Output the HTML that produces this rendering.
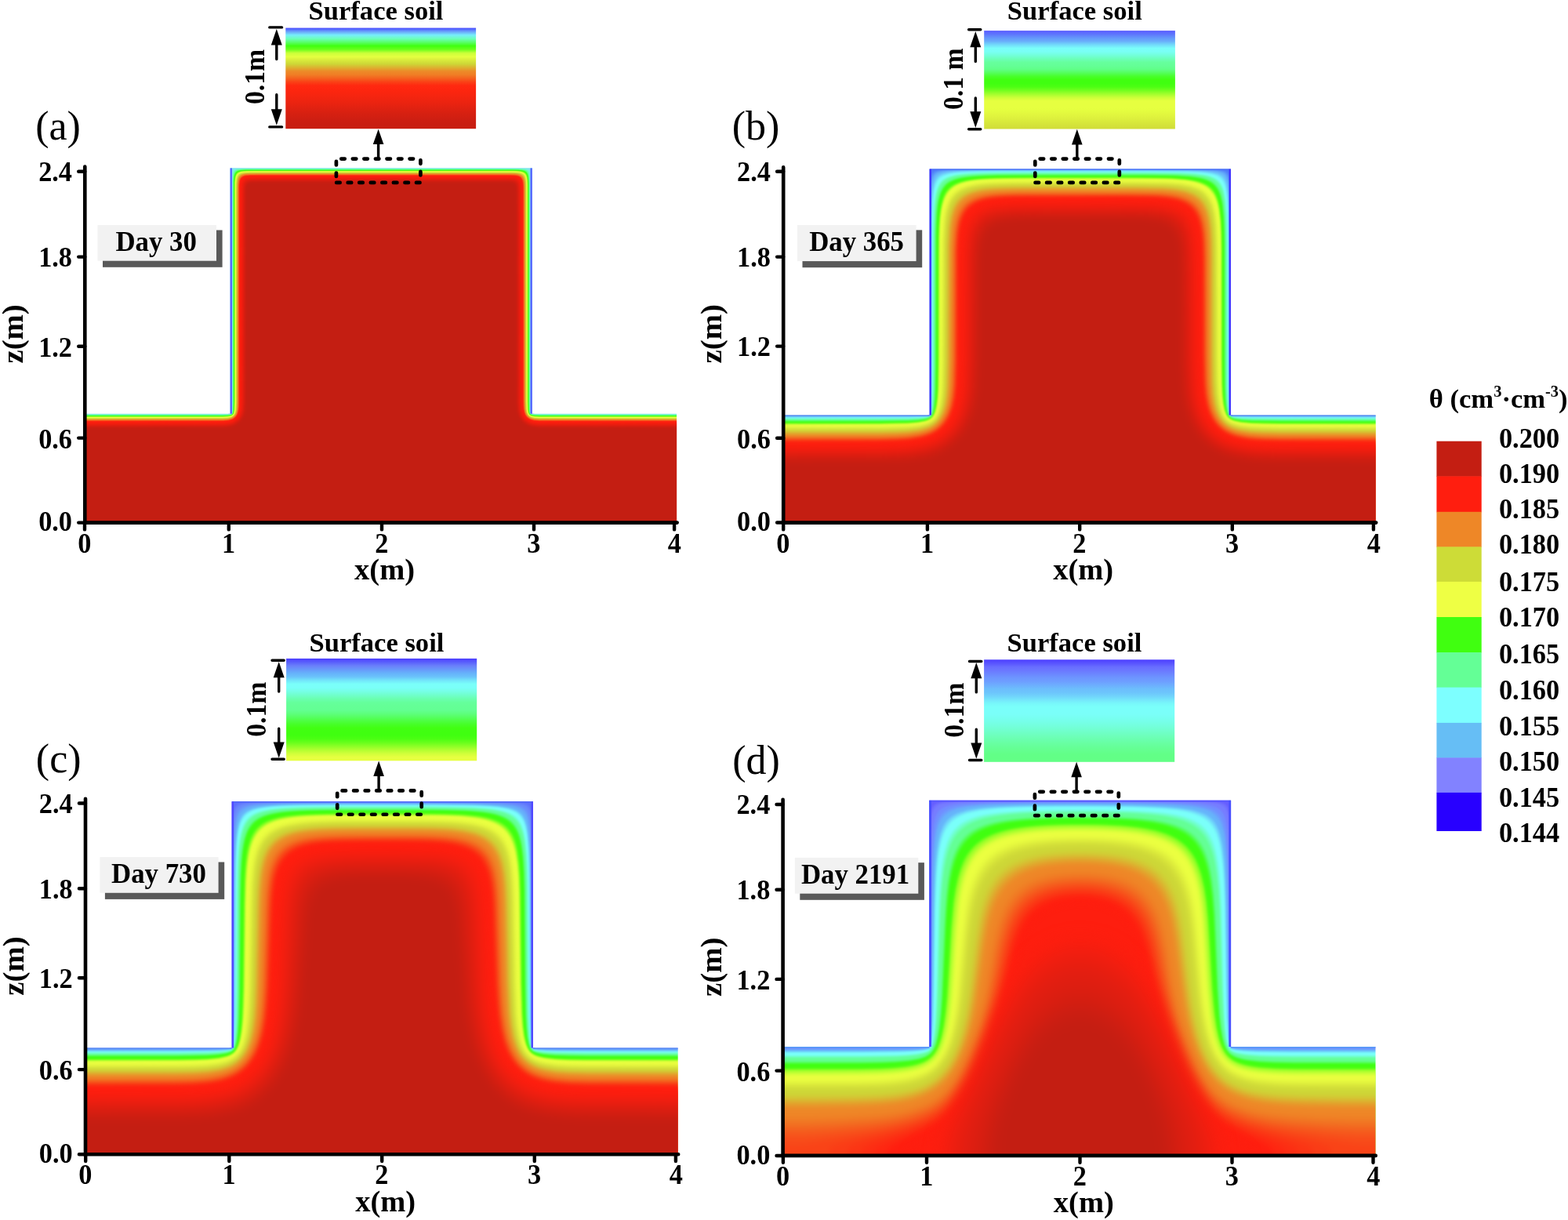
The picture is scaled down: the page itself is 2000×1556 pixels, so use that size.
<!DOCTYPE html>
<html lang="en">
<head>
<meta charset="utf-8">
<title>Soil water content distribution</title>
<style>
html,body{margin:0;padding:0;background:#fff;}
body{width:2000px;height:1556px;overflow:hidden;}
svg{display:block;}
text{font-family:"Liberation Serif", "Times New Roman", Times, serif;fill:#000;}
.b{font-weight:bold;}
.ax{stroke:#000;stroke-width:4.6;stroke-linecap:round;fill:none;}
.tk{stroke:#000;stroke-width:4.4;stroke-linecap:round;fill:none;}
.ar{stroke:#000;stroke-width:3.4;stroke-linecap:round;fill:none;}
.dash{stroke:#000;stroke-width:4.7;stroke-linecap:round;stroke-dasharray:4.5 10.05;fill:none;}
</style>
</head>
<body>
<svg width="2000" height="1556" viewBox="0 0 2000 1556">
<rect width="2000" height="1556" fill="#fff"/>
<defs>
<filter id="fa0" filterUnits="userSpaceOnUse" x="84.3" y="190.2" width="802.8" height="500.4" color-interpolation-filters="sRGB"><feGaussianBlur stdDeviation="0.55"/></filter>
<filter id="fa1" filterUnits="userSpaceOnUse" x="84.3" y="190.2" width="802.8" height="500.4" color-interpolation-filters="sRGB"><feGaussianBlur stdDeviation="1.50"/></filter>
<clipPath id="ca"><path d="M108.3 666.6H863.1V527.7H678.8V214.2H293.6V527.7H108.3Z"/></clipPath>
<linearGradient id="ga" x1="0" y1="0" x2="0" y2="1"><stop offset="0" stop-color="#4848ff"/><stop offset="0.0357" stop-color="#6aa1fa"/><stop offset="0.0714" stop-color="#77eefa"/><stop offset="0.107" stop-color="#6cffbb"/><stop offset="0.143" stop-color="#58ff68"/><stop offset="0.179" stop-color="#40ff10"/><stop offset="0.214" stop-color="#69ff1c"/><stop offset="0.25" stop-color="#cbff39"/><stop offset="0.286" stop-color="#e4ff40"/><stop offset="0.321" stop-color="#d8ea3b"/><stop offset="0.357" stop-color="#cdd737"/><stop offset="0.393" stop-color="#dcb330"/><stop offset="0.429" stop-color="#ec8b28"/><stop offset="0.464" stop-color="#f07e25"/><stop offset="0.5" stop-color="#f4621e"/><stop offset="0.536" stop-color="#fa4116"/><stop offset="0.571" stop-color="#ff2910"/><stop offset="0.607" stop-color="#fe260f"/><stop offset="0.643" stop-color="#fa250f"/><stop offset="0.679" stop-color="#f52510"/><stop offset="0.714" stop-color="#ef2410"/><stop offset="0.75" stop-color="#e92310"/><stop offset="0.786" stop-color="#e22211"/><stop offset="0.821" stop-color="#db2111"/><stop offset="0.857" stop-color="#d52011"/><stop offset="0.893" stop-color="#d01f12"/><stop offset="0.929" stop-color="#cb1e12"/><stop offset="0.964" stop-color="#c81e12"/><stop offset="1" stop-color="#c81e12"/></linearGradient>
<filter id="fb0" filterUnits="userSpaceOnUse" x="975.2" y="191.4" width="803.5" height="499.2" color-interpolation-filters="sRGB"><feGaussianBlur stdDeviation="1.00"/></filter>
<filter id="fb1" filterUnits="userSpaceOnUse" x="975.2" y="191.4" width="803.5" height="499.2" color-interpolation-filters="sRGB"><feGaussianBlur stdDeviation="2.20"/></filter>
<filter id="fb2" filterUnits="userSpaceOnUse" x="975.2" y="191.4" width="803.5" height="499.2" color-interpolation-filters="sRGB"><feGaussianBlur stdDeviation="4.00"/></filter>
<clipPath id="cb"><path d="M999.2 666.6H1754.7V529.6H1569.9V215.4H1185.6V529.6H999.2Z"/></clipPath>
<linearGradient id="gb" x1="0" y1="0" x2="0" y2="1"><stop offset="0" stop-color="#5a5cff"/><stop offset="0.0357" stop-color="#5e75fd"/><stop offset="0.0714" stop-color="#6495fb"/><stop offset="0.107" stop-color="#69aefa"/><stop offset="0.143" stop-color="#72dafa"/><stop offset="0.179" stop-color="#7afefa"/><stop offset="0.214" stop-color="#79fff4"/><stop offset="0.25" stop-color="#73ffda"/><stop offset="0.286" stop-color="#6cffba"/><stop offset="0.321" stop-color="#66ff9e"/><stop offset="0.357" stop-color="#64ff96"/><stop offset="0.393" stop-color="#60ff88"/><stop offset="0.429" stop-color="#54ff5c"/><stop offset="0.464" stop-color="#48ff2c"/><stop offset="0.5" stop-color="#40ff10"/><stop offset="0.536" stop-color="#40ff10"/><stop offset="0.571" stop-color="#4cff13"/><stop offset="0.607" stop-color="#71ff1e"/><stop offset="0.643" stop-color="#9fff2c"/><stop offset="0.679" stop-color="#caff38"/><stop offset="0.714" stop-color="#e6ff40"/><stop offset="0.75" stop-color="#e6ff40"/><stop offset="0.786" stop-color="#e6ff40"/><stop offset="0.821" stop-color="#e4fc3f"/><stop offset="0.857" stop-color="#e1f63e"/><stop offset="0.893" stop-color="#ddf03d"/><stop offset="0.929" stop-color="#d8e93b"/><stop offset="0.964" stop-color="#d4e23a"/><stop offset="1" stop-color="#d0dc38"/></linearGradient>
<filter id="fc0" filterUnits="userSpaceOnUse" x="85.1" y="998.2" width="803.6" height="498.1" color-interpolation-filters="sRGB"><feGaussianBlur stdDeviation="1.20"/></filter>
<filter id="fc1" filterUnits="userSpaceOnUse" x="85.1" y="998.2" width="803.6" height="498.1" color-interpolation-filters="sRGB"><feGaussianBlur stdDeviation="2.50"/></filter>
<filter id="fc2" filterUnits="userSpaceOnUse" x="85.1" y="998.2" width="803.6" height="498.1" color-interpolation-filters="sRGB"><feGaussianBlur stdDeviation="5.00"/></filter>
<clipPath id="cc"><path d="M109.1 1472.3H864.7V1336.6H680.0V1022.2H295.6V1336.6H109.1Z"/></clipPath>
<linearGradient id="gc" x1="0" y1="0" x2="0" y2="1"><stop offset="0" stop-color="#4a3cff"/><stop offset="0.0357" stop-color="#5a5ffc"/><stop offset="0.0714" stop-color="#6a80fa"/><stop offset="0.107" stop-color="#6898fa"/><stop offset="0.143" stop-color="#66b1fa"/><stop offset="0.179" stop-color="#6ac3fa"/><stop offset="0.214" stop-color="#73e5fa"/><stop offset="0.25" stop-color="#7afffa"/><stop offset="0.286" stop-color="#7afff8"/><stop offset="0.321" stop-color="#76ffe6"/><stop offset="0.357" stop-color="#70ffcc"/><stop offset="0.393" stop-color="#6affb1"/><stop offset="0.429" stop-color="#65ff9c"/><stop offset="0.464" stop-color="#64ff96"/><stop offset="0.5" stop-color="#63ff94"/><stop offset="0.536" stop-color="#5eff7f"/><stop offset="0.571" stop-color="#56ff63"/><stop offset="0.607" stop-color="#4eff44"/><stop offset="0.643" stop-color="#46ff28"/><stop offset="0.679" stop-color="#41ff13"/><stop offset="0.714" stop-color="#40ff10"/><stop offset="0.75" stop-color="#40ff10"/><stop offset="0.786" stop-color="#4bff13"/><stop offset="0.821" stop-color="#67ff1b"/><stop offset="0.857" stop-color="#8bff26"/><stop offset="0.893" stop-color="#b0ff30"/><stop offset="0.929" stop-color="#d0ff3a"/><stop offset="0.964" stop-color="#e6ff40"/><stop offset="1" stop-color="#e6ff40"/></linearGradient>
<filter id="fd0" filterUnits="userSpaceOnUse" x="974.8" y="996.8" width="803.7" height="501.1" color-interpolation-filters="sRGB"><feGaussianBlur stdDeviation="1.30"/></filter>
<filter id="fd1" filterUnits="userSpaceOnUse" x="974.8" y="996.8" width="803.7" height="501.1" color-interpolation-filters="sRGB"><feGaussianBlur stdDeviation="3.00"/></filter>
<filter id="fd2" filterUnits="userSpaceOnUse" x="974.8" y="996.8" width="803.7" height="501.1" color-interpolation-filters="sRGB"><feGaussianBlur stdDeviation="5.00"/></filter>
<filter id="fd3" filterUnits="userSpaceOnUse" x="974.8" y="996.8" width="803.7" height="501.1" color-interpolation-filters="sRGB"><feGaussianBlur stdDeviation="8.00"/></filter>
<clipPath id="cd"><path d="M998.8 1473.9H1754.5V1335.0H1570.1V1020.8H1185.2V1335.0H998.8Z"/></clipPath>
<linearGradient id="gd" x1="0" y1="0" x2="0" y2="1"><stop offset="0" stop-color="#4c3eff"/><stop offset="0.0357" stop-color="#5954ff"/><stop offset="0.0714" stop-color="#686dff"/><stop offset="0.107" stop-color="#6b78ff"/><stop offset="0.143" stop-color="#6c87ff"/><stop offset="0.179" stop-color="#6d96ff"/><stop offset="0.214" stop-color="#6e9eff"/><stop offset="0.25" stop-color="#6daefe"/><stop offset="0.286" stop-color="#6cbefc"/><stop offset="0.321" stop-color="#6dc4fc"/><stop offset="0.357" stop-color="#70d3fb"/><stop offset="0.393" stop-color="#75e6fb"/><stop offset="0.429" stop-color="#78f8fa"/><stop offset="0.464" stop-color="#7afffa"/><stop offset="0.5" stop-color="#7afffa"/><stop offset="0.536" stop-color="#7afff8"/><stop offset="0.571" stop-color="#78fff1"/><stop offset="0.607" stop-color="#76ffe8"/><stop offset="0.643" stop-color="#74ffde"/><stop offset="0.679" stop-color="#72ffd2"/><stop offset="0.714" stop-color="#6fffc6"/><stop offset="0.75" stop-color="#6dffb9"/><stop offset="0.786" stop-color="#6affad"/><stop offset="0.821" stop-color="#68ffa1"/><stop offset="0.857" stop-color="#65ff97"/><stop offset="0.893" stop-color="#64ff8e"/><stop offset="0.929" stop-color="#62ff87"/><stop offset="0.964" stop-color="#62ff86"/><stop offset="1" stop-color="#62ff86"/></linearGradient>
</defs>
<g id="panel-a">
<g clip-path="url(#ca)">
<g filter="url(#fa0)">
<rect x="84.3" y="190.2" width="802.8" height="500.4" fill="#82e4ee"/>
<path fill="#77f2dd" d="M302.8 215.2l5.8-0.3l11-0.1h336.7l12.5 0.3l3 0.5l2 0.8l1.1 1.3l0.7 2.5l0.4 4l0.2 7v282.5l0.1 10l0.3 4l0.2 0.2l2.5 0.3l9 0.1h194.8v158.3h-794.8v-158.3h195.8l9-0.1l2.5-0.3l0.2-0.2l0.3-4l0.1-9.5l0.1-287l0.4-6.5l0.8-3l0.7-1l0.9-0.6l1.5-0.5z"/>
<path fill="#6ff8bf" d="M303.9 215.7l5.7-0.4l10.5-0.1h335.2l12.5 0.4l3.2 0.6l2.1 1l1.2 1.5l0.9 3l0.4 4l0.2 6.5v281.5l0.1 10l0.5 4l0.4 0.4l2.5 0.4l9 0.2h194.8v157.9h-794.8v-157.9h195.8l9-0.2l2.5-0.4l0.4-0.4l0.5-4l0.1-10l0.1-285l0.4-6.5l1-3.5l0.7-1l1.3-1l1.5-0.6z"/>
<path fill="#67fda3" d="M308.4 215.7l15.2-0.2h331.7l7.5 0.1l4.5 0.4l3 0.6l2.3 1.1l1.5 2l0.7 2.5l0.5 4l0.2 6.5v281l0.2 10l0.6 4l0.5 0.5l2 0.4l9.5 0.4h194.8v157.6h-794.8v-157.6h195.8l9.5-0.4l2-0.4l0.5-0.5l0.6-4l0.2-10l0.1-285.5l0.7-6.5l0.6-2l1-1.5l1.3-1l2-0.8z"/>
<path fill="#63ff94" d="M307.2 216.2l15.4-0.3h332.2l7.5 0.1l4.5 0.4l3 0.6l2.2 1.2l1.6 2l0.8 2.5l0.5 4l0.2 6.5l0.1 280l0.2 10l0.3 3l0.4 1.5l0.7 0.7l2 0.5l9.5 0.4h194.8v157.3h-794.8v-157.3h195.8l9.5-0.4l2-0.5l0.7-0.7l0.4-1.5l0.3-3l0.2-9.5l0.2-284l0.6-7l0.6-2l0.8-1.5l1.2-1.2l1.5-0.8l2-0.6z"/>
<path fill="#55ff60" d="M307.1 216.7l5.5-0.4h10h331.2l7.5 0.1l4.5 0.4l3.5 0.7l2.1 1.2l1.6 2l0.9 2.5l0.5 4l0.3 6.5l0.1 279.5l0.2 10l0.4 3l0.5 1.5l0.9 0.9l2 0.6l3.5 0.4l6 0.1h194.8v156.9h-794.8v-156.9h195.8l6-0.1l3.5-0.4l2-0.6l0.9-0.9l0.5-1.5l0.4-3l0.2-10l0.2-282.5l0.5-6.5l0.6-2.5l0.8-1.5l0.9-1.2l1.5-1l2.1-0.8z"/>
<path fill="#46ff26" d="M313.1 216.7l341.2-0.1l7 0.2l4.5 0.4l3 0.7l2.3 1.3l1.5 2l1 3l0.5 4l0.3 6v279l0.3 10l0.3 2.5l0.6 2l1.2 1.2l2 0.6l3.5 0.4l6 0.2h194.8v156.5h-794.8v-156.5h195.8l6-0.2l3.5-0.4l2-0.6l1.2-1.2l0.6-2l0.3-2.5l0.3-10v-270l0.2-13.5l0.3-4l0.6-2.8l1-2.2l1.2-1.5l1.8-1.1l2.5-0.7l3-0.4z"/>
<path fill="#40ff10" d="M310.4 217.2l14.7-0.2h328.7l7 0.1l4.5 0.5l3 0.7l2.4 1.4l1.6 2l1 3l0.5 4l0.2 6l0.1 278.5l0.3 10l0.3 2.5l0.7 2l1.4 1.4l2 0.7l3.5 0.4l6 0.2h194.8v156.2h-794.8v-156.2h195.8l6-0.2l3.5-0.4l2-0.7l1.4-1.4l0.7-2l0.3-2.5l0.3-10l0.2-282.5l0.8-6.5l0.8-2.4l1-1.5l1.5-1.3l2-0.9l2.5-0.5z"/>
<path fill="#75ff1f" d="M314.4 217.7l338.9-0.1l6.5 0.2l4.5 0.4l3 0.7l2.5 1.4l1.6 1.9l1.1 3l0.6 4l0.2 6l0.1 277l0.3 10l0.4 3l0.6 2l0.5 1l1 1l2.1 1l3.5 0.6l6 0.2l195.3 0.1v155.5h-794.8v-155.5l195.8-0.1l5.5-0.2l4-0.5l2.5-1l1.4-1.6l0.7-2l0.5-3l0.3-9.5v-269.5l0.2-13l0.4-4l0.6-2.5l0.9-2.2l1.5-1.7l2-1.2l2.5-0.7z"/>
<path fill="#a8ff2d" d="M311.7 218.2l13.9-0.2h327.2l6.5 0.1l4.5 0.4l3.5 0.9l2.1 1.3l1.7 2l1.1 3l0.6 4l0.2 6l0.1 276.5l0.3 10l0.4 3l0.6 2l1.4 2l1 0.7l1.5 0.5l3.5 0.7l6 0.3h195.3v155.2h-794.8v-155.2h195.8l6-0.3l4-0.7l2-0.8l1-0.9l0.7-1l0.7-2l0.5-3l0.3-10l0.2-280.5l0.7-6.5l0.9-2.5l1-1.6l1.5-1.4l2-0.9l2.5-0.7z"/>
<path fill="#d6ff3a" d="M310.4 218.7l5.2-0.3l9-0.1h327.7l7 0.2l4.5 0.5l3 0.8l2.4 1.4l1.6 2l1 3l0.6 4l0.3 6v276l0.3 10l0.5 3l0.6 2l1.4 2l2.3 1.4l4 0.8l6 0.3l195.3 0.1v154.8h-794.8v-154.8l195.8-0.1l6-0.2l4-0.8l2.5-1.2l1.5-1.8l0.7-2l0.5-3l0.4-10l0.1-280l0.8-6.5l0.6-2l1.1-2l1.3-1.3l1.5-0.9l2.3-0.8z"/>
<path fill="#e9fc3f" d="M317.4 218.7h335.4l6.5 0.2l4 0.4l3.3 0.9l2.2 1.3l1.5 1.9l1.1 2.8l0.6 4l0.3 6l0.1 276l0.3 10l0.5 3l0.8 2.5l0.8 1.2l1 0.9l2.5 1.2l4 0.8l5.5 0.3h195.3v154.5h-794.8v-154.5h196.3l5.5-0.3l4-0.8l2.5-1.2l1-0.9l0.8-1.2l0.7-2l0.5-3l0.4-10l0.1-268l0.2-13l0.3-3.5l0.7-3l1.2-2.5l1.5-1.5l2.1-1.1l2.5-0.7l3.5-0.5z"/>
<path fill="#cdd737" d="M652.3 219.7l6 0.2l4 0.4l3.2 0.9l2.3 1.4l1.5 1.9l1 2.7l0.7 4l0.2 5.5l0.1 275.5l0.4 10l0.5 3l0.9 2.5l0.9 1.5l1 1l2.8 1.6l4 0.9l6 0.4l195.3 0.1v153.4h-794.8v-153.4l195.8-0.1l6-0.3l4-0.8l3-1.6l1.9-2.2l1-2.5l0.6-3l0.5-9.5v-271l0.2-9l0.5-5l1.2-3.5l1.6-2.1l2.5-1.5l4-0.9l9-0.5z"/>
<path fill="#d6c133" d="M651.8 220.7l6 0.2l4 0.5l2.8 0.8l2.2 1.4l1.5 1.8l1.1 2.8l0.6 4l0.3 5.5v274l0.4 10l0.6 3.5l0.9 2.5l0.8 1.5l1.3 1.5l1.5 1.1l1.5 0.7l4 1.1l6.5 0.5l195.3 0.1v152.4h-794.8v-152.4l195.8-0.1l6-0.4l4-0.8l2-0.8l1.4-0.9l1.1-1.1l1.1-1.4l1.1-2.5l0.7-3l0.4-4l0.2-6v-270.5l0.2-8.5l0.5-5l1.2-3.5l1.6-2.1l2.5-1.5l3.6-0.9l8.9-0.5z"/>
<path fill="#e1a62d" d="M317 221.2l333.8-0.1l6 0.2l4.2 0.4l3.3 0.9l2 1.3l1.6 1.8l1.1 3l0.6 3.5l0.2 5.5l0.1 274l0.4 10l0.6 3.5l0.9 2.5l0.8 1.5l1.3 1.5l1.4 1.2l2 1l4.5 1.1l6 0.5l195.3 0.1v152h-794.8v-152l196.3-0.1l6-0.5l4.5-1.1l3-1.8l1.3-1.4l1-1.5l0.9-2.5l0.7-3.5l0.5-10v-266l0.2-12l0.4-4l0.6-2.5l0.9-2.1l1.5-1.7l1.9-1.2l2.1-0.7l3-0.5z"/>
<path fill="#ee8727" d="M314.5 221.7l13.1-0.2h322.7l6.5 0.1l4 0.5l3 0.8l2 1.1l1.8 2.2l1 2.5l0.6 3.5l0.3 5.5l0.1 274l0.4 10l0.6 3.5l0.9 2.5l1.1 2l1.2 1.3l1.5 1.2l1.5 0.8l2 0.7l2.5 0.6l6.5 0.5l195.3 0.1v151.7h-794.8v-151.7l196.3-0.1l6-0.4l4.5-1.2l2-1l1.3-1l1.4-1.5l0.9-1.5l1-2.5l0.7-3.5l0.4-10.5l0.2-276.5l0.2-3.5l0.6-3l0.7-2l1.1-1.7l1.5-1.3l2-1l2.5-0.6z"/>
<path fill="#f17623" d="M315.1 222.7l13-0.2h321.7l6 0.1l4 0.4l2.7 0.7l2.3 1.2l1.6 1.8l1.3 3l0.5 3.5l0.3 5l0.1 273.5l0.1 6l0.4 4.5l0.5 3l1.1 3l1.2 2l1.3 1.5l1.6 1.2l2 1.1l4.5 1.3l6.5 0.5l195.3 0.1v150.7h-794.8v-150.7l196.3-0.1l6.5-0.5l4.5-1.3l2-1.1l1.6-1.2l1.3-1.5l1.2-2l1.1-3l0.5-3l0.4-4.5l0.1-6l0.2-276l0.3-3.5l0.4-2.5l0.7-2l1.2-1.8l1.5-1.3l1.8-0.9l2.2-0.6z"/>
<path fill="#f55c1d" d="M315.5 223.2l13.1-0.2h321.2l6 0.1l4 0.5l3 0.9l1.9 1.2l1.6 2l0.9 2.5l0.6 3.5l0.2 5l0.1 272.5l0.4 10.5l0.7 3.5l1 3l1.1 2l1.5 1.7l1.5 1.2l2 1.2l2 0.8l3 0.6l6.5 0.6l195.3 0.1v150.2h-794.8v-150.2l196.3-0.1l6.5-0.6l4.5-1.2l2-1l1.7-1.3l1.4-1.5l1.3-2l1.1-3l0.7-3.5l0.4-4.5l0.1-6l0.2-275.5l0.7-6l0.9-2.5l1-1.4l1.5-1.3l1.7-0.8l2.3-0.6z"/>
<path fill="#f94317" d="M314.7 223.7l4.4-0.3h8.5h321.7l6 0.1l4 0.4l2.8 0.8l2.2 1.3l1.5 1.9l1 2.5l0.5 3.3l0.3 5l0.1 273l0.1 6.5l0.4 4l0.7 3.5l1.1 3l1.3 2l1.3 1.5l1.7 1.4l2 1.1l4.5 1.4l7 0.6l195.3 0.1v149.8h-794.8v-149.8l196.3-0.1l7-0.6l4.5-1.4l2-1.1l1.7-1.4l1.3-1.5l1.3-2l1.1-3l0.7-3.5l0.4-4l0.1-6.5l0.2-275l0.6-6l0.7-2l0.9-1.6l1.4-1.4l1.6-0.9l2-0.7z"/>
<path fill="#fd2912" d="M314.2 224.2l4.9-0.4h8.5h321.2l6 0.1l4 0.4l3 0.8l2 1.2l1.6 1.9l1 2.5l0.6 3.5l0.2 5l0.1 272l0.1 6.5l0.4 4.5l0.7 3.5l1.1 3l1.2 2l1.5 1.7l1.5 1.3l2 1.2l2.5 0.9l2.5 0.6l6.5 0.7l195.8 0.1v149.4h-794.8v-149.4l196.8-0.1l6.5-0.7l2.5-0.6l2.5-0.9l2-1.2l1.5-1.3l1.5-1.7l1.2-2l1.1-3l0.7-3.5l0.4-4l0.1-6.5l0.2-274.5l0.6-6l0.6-2l0.8-1.5l1.3-1.4l1.5-1l1.7-0.6z"/>
<path fill="#ff1e0f" d="M314.9 224.7l4.7-0.3l8.5-0.1h320.2l6 0.1l4 0.4l3 0.8l2 1.2l1.6 1.9l1 2.5l0.5 3.5l0.2 5l0.1 271.5l0.5 10.5l0.8 4l1 3l1.2 2l1.6 2l2 1.6l2 1.1l2.5 1l2.5 0.6l6.5 0.6l195.8 0.2v148.8h-794.8v-148.8l196.8-0.2l6.5-0.6l2.5-0.6l2.5-1l2-1.1l2-1.6l1.6-2l1.2-2l1-3l0.8-4l0.5-10.5l0.1-274l0.6-5.5l0.6-2l0.8-1.5l1.3-1.4l1.5-1l2-0.7z"/>
</g>
<g filter="url(#fa1)">
<path fill="#fd1e0f" d="M315.2 225.2l12.9-0.4h320.2l9.5 0.5l3 0.8l2 1.1l1.5 1.7l1 2.4l0.8 8.4l0.1 271.5l0.5 10.5l1.8 7l2.8 4.1l4 2.9l5 1.7l7 0.7l195.8 0.2v148.3h-794.8v-148.3l196.8-0.2l6.5-0.6l5-1.5l4.1-2.8l2.9-4l2-6.5l0.6-11l0.1-274l0.6-5.5l1.4-3.5l2.8-2.4z"/>
<path fill="#f81e0f" d="M319.9 226.2l327.9-0.1l9.5 0.5l2.5 0.8l2 1.2l1.3 1.6l1 2.5l0.7 7.5l0.1 271.5l0.6 11l2.1 7l2.8 4l4.4 3.2l5 1.7l7.5 0.8l195.8 0.2v147h-794.8v-147l196.8-0.2l7.5-0.8l5-1.7l4.4-3.2l2.8-4l2.1-7l0.6-11l0.1-274l0.8-5.5l2-3.5l3.7-1.8z"/>
<path fill="#f21e10" d="M316.9 227.2l12.2-0.3h318.2l9 0.4l3 0.8l1.8 1.1l1.3 1.5l1 2.5l0.7 7.5l0.1 270.5l0.5 11l0.8 4l1.3 3.5l3.1 4.5l4.4 3.2l5.5 1.9l7 0.9l196.3 0.1v146.3h-794.8v-146.3l197.3-0.1l7-0.9l5.5-1.9l4.4-3.2l2.8-4l2.2-7l0.7-11.5l0.1-272.5l0.6-5.5l1.5-3.5l2.5-2z"/>
<path fill="#ed1e10" d="M318.8 227.7l328-0.2l9 0.5l2.8 0.7l1.8 1l1.4 1.6l0.9 2.4l0.7 7.5l0.1 270.5l0.6 11l0.9 4l1.3 3.5l3.2 4.5l4.3 3.2l6 2.1l7.5 0.8l195.8 0.2v145.6h-794.8v-145.6l196.8-0.2l7.5-0.8l6-2.1l4.3-3.2l3.2-4.5l1.3-3.5l0.9-4l0.6-11l0.1-272.5l0.6-5.3l1.5-3.3l3-2z"/>
<path fill="#e81e10" d="M321 228.2l325.8-0.1l8.5 0.4l2.6 0.7l1.9 1l1.5 1.8l0.9 2.2l0.6 7l0.1 270.5l0.6 11l2.2 7.5l3.1 4.6l4.5 3.5l6 2.2l7.5 0.9l196.3 0.2v145h-794.8v-145l197.3-0.2l7.5-0.9l5.5-1.9l4.6-3.4l3.3-4.5l1.4-3.5l0.9-4l0.7-11.5l0.1-272.5l0.8-5.5l1.7-3l3.5-1.9z"/>
<path fill="#e31e10" d="M317.1 229.2l12.5-0.5h316.2l9 0.4l2.5 0.6l2 1.1l1.5 1.8l0.8 2.1l0.6 7l0.1 270l0.7 11.5l2.3 7.5l3.5 5l4.5 3.3l5.5 2l8 1l196.3 0.2v144.4h-794.8v-144.4l197.3-0.2l8-1l5.5-2l4.5-3.3l3.5-5l2.3-7.5l0.7-11.5l0.1-271l0.4-5l1-3.1l2-2.1z"/>
<path fill="#dd1e11" d="M318.1 229.7l12-0.4h315.2l9 0.4l2.5 0.6l2 1.1l1.5 1.8l0.7 2l0.6 7l0.1 269l0.7 12l2.2 7.5l3.4 5l4.8 3.7l6 2.2l7.5 1l196.8 0.2v143.8h-794.8v-143.8l197.3-0.2l8-1l5.5-2l4.8-3.4l3.6-5l1.5-3.5l0.9-4l0.8-12l0.1-271l0.5-5l1.1-3l2.2-2z"/>
<path fill="#d81e11" d="M319.3 230.2l326-0.3l8.5 0.4l2.5 0.6l2 1.1l1.4 1.7l0.7 2l0.7 8.5l0.1 269.5l0.8 10.5l2.2 7l3.6 5.1l5 3.7l5.5 2.1l8 1.1l196.8 0.2v143.2h-794.8v-143.2l197.8-0.2l8-1.1l5.5-2.1l5-3.7l3.4-4.6l1.4-3.5l1.1-4.5l0.8-12l0.1-271l0.5-4.5l1.2-3.1l2.2-1.9z"/>
<path fill="#d31e11" d="M320.7 230.7l324.6-0.2l8.5 0.5l4 1.6l1.3 1.6l0.7 2l0.7 8.5l0.1 269l0.8 10.5l2.1 7l3.8 5.5l5 3.8l6.5 2.3l7.5 1l196.8 0.2v142.6h-794.8v-142.6l197.3-0.2l8-1l6.5-2.3l5-3.8l3.5-5l1.6-4l1-4.5l0.7-11.5l0.1-270.5l0.6-5l1.4-3l2.6-1.7z"/>
<path fill="#ce1e12" d="M324.4 231.2h320.4l8.5 0.4l3.9 1.6l1.2 1.5l0.9 2.4l0.5 7.6l0.1 269l0.8 10.5l2.3 7.5l3.8 5.4l5 3.8l6.5 2.5l8 1l196.8 0.2v142h-794.8v-142l197.8-0.2l8-1l6.5-2.5l4.9-3.7l3.6-5l1.6-4l1.1-4.5l0.7-11.5l0.2-271l0.7-5l1.8-3l3.3-1.5z"/>
<path fill="#c81e12" d="M320.2 232.2l11.4-0.3h312.2l8.5 0.3l4.1 1.5l1.3 1.5l0.8 2l0.6 8l0.1 268.5l0.9 11l2.4 7.5l3.8 5.4l5 3.8l6.5 2.6l8 1.1l197.3 0.2v141.3h-794.8v-141.3l198.3-0.2l8-1.1l6.5-2.6l5-3.8l3.8-5.4l1.4-3.5l1.1-4.5l0.8-12.5l0.1-269.5l0.5-4.5l1.2-3l2.1-1.7z"/>
<path fill="#c41e12" d="M320.2 233.2l11.4-0.4h311.7l8.5 0.3l2.3 0.6l1.7 1l1.2 1.5l0.8 2.5l0.4 7.5l0.1 268l0.9 10.5l0.9 4l1.6 4l4.1 5.7l5.5 4.1l6.5 2.4l8 1.1l197.3 0.2v140.4h-794.8v-140.4l198.3-0.2l8-1.1l6.5-2.4l5.5-4.1l3.8-5.2l1.5-3.5l1.3-5l0.9-12.5l0.1-269l0.4-4.5l1-2.8l1.7-1.7z"/>
</g>
<path d="M293.6 527.7V214.2M678.8 214.2V527.7" fill="none" stroke="#5560ff" stroke-width="4.6"/></g>
<path class="ax" d="M108.3 212.6V666.6H863.7"/>
<path class="tk" d="M108.3 218.8H100.2M108.3 327.6H100.2M108.3 441.8H100.2M108.3 558.6H100.2M108.3 666.6H100.2M108.0 666.6V675.4M291.8 666.6V675.4M487.0 666.6V675.4M681.0 666.6V675.4M860.1 666.6V675.4"/>
<text class="b" transform="translate(92.0 231.2) scale(1 1.06)" font-size="34.3" text-anchor="end">2.4</text>
<text class="b" transform="translate(92.0 340.2) scale(1 1.06)" font-size="34.3" text-anchor="end">1.8</text>
<text class="b" transform="translate(92.0 454.6) scale(1 1.06)" font-size="34.3" text-anchor="end">1.2</text>
<text class="b" transform="translate(92.0 571.5) scale(1 1.06)" font-size="34.3" text-anchor="end">0.6</text>
<text class="b" transform="translate(92.0 677.4) scale(1 1.06)" font-size="34.3" text-anchor="end">0.0</text>
<text class="b" transform="translate(107.7 704.6) scale(1 1.06)" font-size="34.3" text-anchor="middle">0</text>
<text class="b" transform="translate(291.5 704.6) scale(1 1.06)" font-size="34.3" text-anchor="middle">1</text>
<text class="b" transform="translate(486.7 704.6) scale(1 1.06)" font-size="34.3" text-anchor="middle">2</text>
<text class="b" transform="translate(680.7 704.6) scale(1 1.06)" font-size="34.3" text-anchor="middle">3</text>
<text class="b" transform="translate(860.4 704.6) scale(1 1.06)" font-size="34.3" text-anchor="middle">4</text>
<text class="b" x="490.6" y="738.6" font-size="38.5" text-anchor="middle">x(m)</text>
<text class="b" transform="translate(29.3 425.9) rotate(-90)" font-size="38.8" text-anchor="middle">z(m)</text>
<text x="74.0" y="178.0" font-size="52" text-anchor="middle">(a)</text>
<rect x="131.0" y="293.5" width="152.6" height="47.3" fill="#595959"/><rect x="124.5" y="287.1" width="151.5" height="45.6" fill="#f2f2f2"/>
<text class="b" x="199.2" y="320.3" font-size="34.8" text-anchor="middle">Day 30</text>
<rect x="364.3" y="35.6" width="242.8" height="128.6" fill="url(#ga)"/>
<text class="b" x="479.5" y="25.0" font-size="34.6" text-anchor="middle">Surface soil</text>
<path class="ar" d="M343.8 34.9H359.6M343.8 161.9H359.6M352.8 56.5V75.5M352.8 120.8V140.3"/><path d="M352.8 37.0l7 20.5h-14z M352.8 159.8l7 -20.5h-14z" fill="#000"/>
<text class="b" transform="translate(336.8 98.0) rotate(-90) scale(1 1.04)" font-size="33.6" text-anchor="middle">0.1m</text>
<path class="ar" d="M482.6 201.5V183.0"/><path d="M482.6 164.7l6.8 19.3h-13.6z" fill="#000"/>
<path class="dash" d="M428.90 202.60L536.40 202.60" stroke-dashoffset="-6.35"/><path class="dash" d="M428.90 232.95L537.40 232.95" stroke-dashoffset="-0.25"/><path class="dash" d="M428.90 202.60L428.90 229.95" stroke-dashoffset="-3.35"/><path class="dash" d="M536.40 202.60L536.40 229.95" stroke-dashoffset="-1.75"/>
</g>
<g id="panel-b">
<g clip-path="url(#cb)">
<g filter="url(#fb0)">
<rect x="975.2" y="191.4" width="803.5" height="499.2" fill="#4d76f8"/>
<path fill="#5387f9" d="M1203.3 216.4l17.3-0.4l36.1-0.2l272.2 0.1l18 0.3l10 0.5l6 1.2l2.7 1.5l0.9 1l0.9 2l0.9 4l0.7 8l0.3 14l0.5 281.2l27.1 0.3h177.8v156.7h-795.5v-156.7h179.3l27.2-0.3l0.3-256.2l0.2-27l0.4-14l0.4-5l0.7-4l0.9-2.3l1.3-1.7l1.7-1.1l2.6-0.9z"/>
<path fill="#5a97f9" d="M1218.3 216.4l62.4-0.4l245.2 0.2l17 0.4l11 0.7l6.1 1.1l2.5 1l1.5 1l2.2 3l1 3l0.6 3l0.8 9l0.4 14l0.3 45.1v201.1l0.4 31l5.2 0.3l22 0.2l177.8 0.1v156.4h-795.5v-156.4l179.3-0.1l22.1-0.2l5.2-0.3l0.4-35l0.1-221.2l0.3-27l0.8-14l0.7-5l1.2-4l1.3-2.1l2.4-1.9l3.6-1.3l5-0.8z"/>
<path fill="#61a8fa" d="M1241.6 216.4l223.2-0.1l60.1 0.2l17 0.5l10 0.8l7 1.4l2 0.9l2 1.3l2.3 3l1.2 3l0.7 3l1 9l0.6 16l0.3 44.1l0.1 198.1l0.5 32l0.3 0.3l5 0.2l22 0.2l177.8 0.1v156.2h-795.5v-156.2l179.3-0.1l22.1-0.2l5-0.2l0.3-0.3l0.3-11l0.2-24l0.2-223.2l0.6-27l0.5-8l0.7-6l1.4-5l1.8-3l2.4-2l3.6-1.5l6-1.1l8-0.7z"/>
<path fill="#67b6fa" d="M1216.6 217.4l21-0.6l35.1-0.2l245.2 0.2l20 0.6l12 0.9l7 1.5l3 1.3l1.9 1.3l1.8 2l1.1 2l1.8 6l1.2 10l0.6 15l0.4 44.1l0.1 196.1l0.3 22l0.5 10l0.3 0.3l5 0.4l22 0.3l177.8 0.1v155.9h-795.5v-155.9l179.3-0.1l22.1-0.3l5-0.4l0.3-0.3l0.6-11l0.2-25l0.2-214.2l0.4-26l0.9-15l0.8-6l1.4-5l1.5-3l2.7-2.7l3-1.5l5-1.4l6-0.8z"/>
<path fill="#6bc5fa" d="M1241.6 217.4l42.1-0.3h161.1l72.1 0.4l18 0.6l12 1.1l8 1.9l2.9 1.3l2.1 1.4l2 2.2l1.5 2.4l2 6l1.4 10l0.8 16l0.6 43.1l0.1 193.1l0.4 23l0.7 10l0.5 0.5l5 0.5l22 0.5l177.8 0.1v155.4h-795.5v-155.4l179.3-0.1l22.1-0.5l5-0.5l0.5-0.5l0.8-11l0.3-25l0.3-216.2l0.7-26l0.6-8l0.9-7l1.6-6l2-4l2.9-3l4.4-2.3l6-1.6l8-1l11-0.7z"/>
<path fill="#6fd4fa" d="M1227.4 218.4l22.2-0.6l35.1-0.2h183.1l45.1 0.3l19 0.7l13 1.3l8 1.9l3.5 1.6l2.5 1.8l2.1 2.2l1.7 3l1.2 3.2l1 3.8l1.3 10l1 16l0.5 42.1l0.2 190.1l0.4 24l1 10l0.6 0.6l5 0.7l22 0.6l177.8 0.1v155h-795.5v-155l179.3-0.1l22.1-0.6l5-0.7l0.6-0.6l0.6-4l0.4-7l0.4-25l0.4-212.2l0.6-24l1.2-15l1.3-7l1.7-5l2.6-4l3.2-2.7l4-1.9l6-1.6l8-1.1z"/>
<path fill="#73e4fa" d="M1239.4 218.4l25.3-0.4l45-0.1h161.1l42.1 0.4l19 0.8l12 1.3l8 2l3 1.4l3 2l2 2.1l1.6 2.5l1.4 3.1l1.1 3.9l1.8 11l0.9 16l0.7 42.1l0.1 189.1l0.6 24l0.4 6l0.7 4l0.7 0.7l5 0.8l22 0.7l177.8 0.1v154.7h-795.5v-154.7l179.3-0.1l22.1-0.7l5-0.8l0.7-0.7l0.7-4l0.5-7l0.5-25l0.3-212.2l0.8-25l1.5-15l1.7-7l2.3-5l3-3.6l4-2.5l5.4-1.9l7.6-1.4l10-0.9z"/>
<path fill="#77f3fa" d="M1268.2 218.4l198.6-0.1l48.1 0.5l17 0.9l12 1.6l4.7 1.1l3.3 1.2l3.4 1.8l2.4 2l1.8 2l1.8 3l1.5 4l1 4l1.6 11l1 16l0.5 41.1l0.3 187.1l0.6 24l0.5 6l0.7 4l0.9 0.9l5 0.8l22 0.8l177.8 0.2v154.3h-795.5v-154.3l179.3-0.2l22.1-0.8l5-0.8l0.9-0.9l0.7-4l0.6-7l0.6-25l0.1-178.1l0.3-36.1l1.1-26l0.9-8l1.3-7l2.1-6l1.4-2.4l2-2.4l2-1.8l2.3-1.4l2.7-1.2l4-1.3l8.4-1.5l11.6-1l16-0.7z"/>
<path fill="#7afffa" d="M1240 219.4l23.7-0.5l39-0.1h164.1l42.1 0.4l19 0.9l13 1.5l5 1.1l4 1.3l3 1.4l3 2.1l2 2l2 2.9l1.8 4l1.2 4l1.8 11l1.1 16l0.7 41.1l0.2 187.1l0.8 24l0.7 7l0.7 3l1 1l1 0.3l4 0.7l9 0.6l13 0.3l177.8 0.2v153.9h-795.5v-153.9l179.3-0.2l13.1-0.3l9-0.6l4-0.7l1-0.3l1-1l0.9-4l0.6-7l0.7-25l0.2-176.1l0.3-35.1l0.8-23l0.7-8l1-7l1.8-7.4l2.6-5.6l3.4-3.9l4-2.6l6-2.2l7-1.5l10-1.1z"/>
<path fill="#75ffe3" d="M1247.8 220.4l26.9-0.4l54-0.1h139.1l39.1 0.5l18 0.9l13 1.7l5 1.1l4 1.4l3.9 1.9l3.1 2.2l2.6 2.8l1.9 3l1.8 4l1.2 4l2 11l1.2 16l0.5 17l0.3 23.1l0.3 184.1l0.9 24l0.8 7l1 4l1.5 1.5l5 1.1l9 0.8l13 0.5l35.9 0.2h141.9v152.9h-795.5v-152.9h143.3l36-0.2l13.1-0.5l9-0.8l5-1.1l1.5-1.5l0.8-3l0.9-6l0.9-20l0.3-33l0.3-174.2l0.9-28l0.8-10l1.2-8l1.7-7l2.7-6l2-2.7l2-2.1l4.9-3.2l6.1-2.3l9-1.8l11-1.1z"/>
<path fill="#71ffd1" d="M1261.8 220.4l195-0.2l51.1 0.5l18 1.1l12 1.7l5 1.2l4 1.5l4 2.1l2.8 2.1l2.6 3l1.9 3l1.7 4l1.2 4l2 11l1.2 16l0.5 17l0.3 23.1l0.3 182.1l0.9 25l0.9 7l1.1 4l1.6 1.6l5 1.2l9 0.8l13 0.5l35.9 0.3h141.9v152.6h-795.5v-152.6h143.3l36-0.3l13.1-0.5l9-0.8l5-1.2l1.6-1.6l1.1-4l0.9-8l0.9-25l0.3-174.1l0.3-34.1l1.2-24l0.9-8l1.3-7l2.5-7.5l1.3-2.5l2-3l1.9-2l2.6-2l3.2-1.8l3-1.2l8-2.1l10-1.4l14-1z"/>
<path fill="#6dffbf" d="M1240.6 221.4l22.1-0.7l35-0.2h165.1l41 0.5l19.1 0.9l14 1.9l5 1.2l4 1.4l3.9 2l3.1 2.3l2.5 2.7l2 3l1.9 4l1.3 4l2 11l1.4 16l0.5 17l0.3 23.1l0.3 182.1l0.4 15l0.6 10l0.9 7l1.2 4l1.7 1.7l5 1.3l9 0.9l13 0.5l35.9 0.3h141.9v152.3h-795.5v-152.3h143.3l36-0.3l13.1-0.5l9-0.9l5-1.3l1.7-1.7l1.2-4l0.8-6l1-21l0.3-32l0.3-171.1l0.8-27.1l0.8-10l1.1-7.9l1.9-8.1l2.6-6l1.5-2.4l2-2.4l4-3.1l6-2.8l7-1.9l9.3-1.4z"/>
<path fill="#69ffad" d="M1248.1 221.4l24.6-0.5l45-0.1h147.1l40 0.5l19.1 1.1l13 1.9l5 1.3l4 1.5l4 2.2l2.7 2.1l2.7 3l1.9 3l1.7 3.7l1.4 4.3l2 11l1.4 16l0.5 17l0.3 23.1l0.3 181.1l1 24l0.8 7l1.4 5l1.9 1.8l5 1.4l9 0.9l13 0.5l35.9 0.4h141.9v152h-795.5v-152h143.3l36-0.4l13.1-0.5l9-0.9l5-1.4l1.9-1.8l1.2-4l0.8-6l1.1-20l0.3-32l0.3-173.1l0.9-27.1l1-10l1.2-8l1.8-7l2.7-6l1.8-2.6l2-2.2l2-1.6l3-1.9l6.7-2.7l8.3-1.8l11-1.4z"/>
<path fill="#66ff9d" d="M1259.2 221.4l38.5-0.3h152.1l34 0.1l21 0.4l18.1 1.1l13 1.9l5 1.3l4.2 1.5l3.8 2l3 2.3l2.6 2.7l2 3l1.9 4l1.3 4l2.2 11l1.4 16l0.6 17l0.3 23.1l0.3 181.1l0.4 14l0.7 10l1.1 8l1.2 4l2 2l5 1.4l9 0.9l13 0.6l35.9 0.3l141.9 0.1v151.7h-795.5v-151.7l143.3-0.1l36-0.3l13.1-0.6l9-0.9l5-1.4l2-2l1.2-4l0.9-6l1.2-20l0.3-32l0.3-173.1l0.4-16.1l0.7-12l1-10l1.4-8l2.5-8l3.1-5.5l2.2-2.5l2.3-2l5.5-3.1l8-2.5l10-1.6l13-1.1z"/>
<path fill="#64ff96" d="M1243.8 222.4l21.9-0.7l34-0.2h160.1l41 0.5l19.1 1l14 1.8l5 1.2l5 1.7l4 2.1l3 2.2l3 3.1l2 3l2 4.2l1.4 4.1l2.2 11l1.4 16l0.6 16l0.3 23.1l0.3 181.1l0.5 14l0.6 10l1.2 8l1.3 4l0.7 1l1.5 1.2l5 1.4l9 1.1l13 0.6l35.9 0.3h141.9v151.4h-795.5v-151.4h143.3l36-0.3l13.1-0.6l9-1.1l5-1.4l1.5-1.2l0.7-1l1.3-4l0.9-6l0.8-9l0.5-12l0.3-33l0.3-168.1l0.9-27.1l0.9-10l1.1-8l2-8l2.6-6l2-3l1.7-2l4.5-3.6l6-2.8l8-2.2l10-1.4z"/>
<path fill="#5dff7c" d="M1250.9 223.4l22.8-0.6l39-0.1h148.1l39 0.5l19.1 1.2l13 1.9l5 1.2l5 1.8l4 2.1l3 2.2l2.8 2.8l2.2 3l2.1 4l1.8 5l2.3 11l1.5 16l0.7 16l0.3 23.1l0.1 144.1l0.3 34l0.5 14l0.8 11l1.1 7l1.7 5l0.8 1.2l2 1.6l5 1.6l9 1.2l13 0.7l35.9 0.4l141.9 0.1v150.2h-795.5v-150.2l143.3-0.1l36-0.4l13.1-0.7l9-1.2l5-1.6l2-1.6l0.8-1.2l1.4-4l1.3-7l0.8-9l0.5-12l0.4-33l0.3-165.1l1-27.1l0.9-10l1.3-8l2.3-8.7l3-6.3l2-2.8l2-2.1l5-3.7l7-3l8-1.9l11-1.5z"/>
<path fill="#57ff64" d="M1259.9 223.4l37.8-0.4h144.1l37 0.1l22 0.5l18.1 1.1l13 2l5 1.3l5 1.9l4 2.2l3 2.3l2.8 3l2.1 3l2 4l1.5 4l1.3 5l1.1 6l1.6 16l0.6 16l0.4 22.1l0.1 145.1l0.3 34l0.5 14l0.9 11l1.1 7l1.7 5l1 1.4l2 1.5l5 1.7l9 1.2l13 0.8l35.9 0.4h141.9v150h-795.5v-150h143.3l36-0.4l13.1-0.8l9-1.2l5-1.7l2-1.5l1-1.4l1.4-4l1.3-7l0.8-9l0.6-12l0.4-32l0.3-168.1l0.5-15.1l0.7-12l1.1-10l1.5-8l2.5-8l3.3-6l2.5-3l2.1-1.8l3-2.1l3-1.6l8-2.7l9.5-1.8l12.5-1.2z"/>
<path fill="#50ff4d" d="M1276.8 223.4l181-0.1l27 0.2l18 0.5l17.1 1.2l7 1l6 1.2l5 1.5l4 1.6l4 2.3l3 2.4l2.9 3.2l1.9 3l1.9 4l1.5 4l1.2 5l1.1 6l1.6 16l0.6 16l0.4 22.1l0.1 144.1l0.3 34l0.5 14l0.8 10l1.3 8l1.8 5l1.1 1.6l2 1.5l5 1.7l9 1.3l13 0.7l35.9 0.5h141.9v149.7h-795.5v-149.7h143.3l36-0.5l13.1-0.7l9-1.3l5-1.7l2-1.5l1.1-1.6l1.5-4l1.3-7l0.9-9l0.5-11l0.5-32l0.1-137.1l0.3-34l0.5-15.1l0.8-12l1.3-10l1.8-8l1.4-4.4l1.6-3.6l1.8-3l2.4-3l2.2-2.1l3-2.1l3.3-1.8l3.7-1.5l9-2.3l12-1.7l16.1-1z"/>
<path fill="#4bff38" d="M1249.8 224.4l21.9-0.7l35-0.2h152.1l39 0.6l19.1 1.1l8 1l6 1.1l5 1.4l5 1.9l4 2.1l3 2.3l2.4 2.4l2.6 3.5l2 3.8l1.7 4.7l1.4 5l1.1 6l1.6 16l0.7 16l0.3 22.1l0.1 144.1l0.4 34l0.5 14l0.8 10l1.4 8l1.7 5l1.3 1.7l2 1.6l5 1.6l9 1.4l13 0.7l35.9 0.5l141.9 0.1v149.4h-795.5v-149.4l143.3-0.1l36-0.5l13.1-0.7l9-1.4l5-1.6l2-1.6l1.3-1.7l1.5-4l1.3-7l1-10l0.5-12l0.5-33l0.2-163.1l1-26.1l1-10l1.2-8l2.1-8l3.1-7l3.8-5l2.5-2.3l2.5-1.7l6.5-3.1l8-2.2l11-1.7z"/>
<path fill="#46ff25" d="M1255.7 224.4l26-0.5l50-0.1h130.1l37 0.6l18.1 1.1l8 1.1l6 1.1l5 1.4l5 1.9l4 2.3l2.8 2.1l2.8 3l2.4 3.4l2 4l1.6 4.6l2.4 11l1.5 15l0.7 16l0.4 22.1l0.1 144.1l0.3 34l0.6 14l0.8 10l1.4 8l1.8 5l1.4 1.9l2 1.5l5 1.7l9 1.3l13 0.9l35.9 0.4l141.9 0.1v149.2h-795.5v-149.2l143.3-0.1l36-0.4l13.1-0.9l9-1.3l5-1.7l2-1.5l1.4-1.9l1.8-5l1.1-6l0.9-9l0.7-13l0.4-32l0.3-165.1l1.1-26.1l1-10l1.4-8l2.3-8l1.6-3.7l1.9-3.3l4.1-4.8l5-3.5l7-3l9-2.2l12-1.6z"/>
<path fill="#40ff10" d="M1263.9 224.4l37.8-0.4h144.1l33 0.2l21 0.5l18.1 1.2l7 1l6 1.2l5 1.4l4.7 1.9l3.6 2l3.7 2.9l2.8 3.1l2.2 3.3l2 4.3l1.5 4.4l2.3 11l1.5 15l0.7 16l0.3 22.1l0.1 143.1l0.4 33l0.5 14l0.9 11l1.4 8l1.8 5l1.5 2l2.1 1.5l5 1.8l9 1.3l13 0.9l35.9 0.5h141.9v149h-795.5v-149h143.3l36-0.5l13.1-0.9l9-1.3l5-1.8l2.1-1.5l1.5-2l1.8-5l1.1-6l1-9l0.6-13l0.4-32l0.4-165.1l0.4-15.1l0.8-12l1.1-10l1.5-8l2.5-8l1.8-3.7l2-3.1l2-2.3l3-2.7l6-3.5l8-2.8l10-1.9l13-1.2z"/>
<path fill="#5aff17" d="M1281.3 226.4l173.5-0.1l26 0.2l17 0.5l17.1 1.3l7 1.1l6 1.3l5.6 1.7l4.4 1.9l3.6 2.1l3.4 2.7l3 3.3l2 3l2 4l1.9 5l2.5 11l1.6 15.2l0.7 15.9l0.4 21l0.1 139.1l0.3 33l0.6 14l1 11l1.4 8l2 6l1.5 2.5l2 2.1l2 1.3l3 1.3l4 1.1l5 0.9l13 1.1l15 0.5l20.9 0.3h143.9v146.9h-795.5v-146.9h142.3l36-0.6l14.1-1.1l9-1.6l3-1l3-1.5l2-1.6l1.4-1.7l2.3-5l1.6-7l1.1-9l0.8-12l0.6-33l0.1-132.1l0.3-33l0.6-15.1l0.9-12l1.5-10l1.8-7.7l1.5-4.3l1.9-4l1.9-3l2.4-3l3.3-3l3-2l7-3.2l10-2.6l12-1.7l15.1-1z"/>
<path fill="#6aff1c" d="M1256.3 227.4l22.4-0.7l37-0.1h141.1l38 0.6l18.1 1.3l13 2.1l5 1.4l5 1.9l4 2.1l4 2.9l3 3.1l2.4 3.4l2.1 4l1.9 5l1.4 5l1.2 6l1.6 15l0.8 16.1l0.3 21l0.2 140.1l0.4 33l0.6 14l1.1 11l1.5 8l2.3 6l1.4 2l2 2l2.8 1.6l3 1.1l9 1.8l14 1.2l35.9 0.6l141.9 0.1v146.6h-795.5v-146.6h142.3l36-0.7l14.1-1l9-1.7l3-1l3-1.5l2-1.6l1.6-1.9l2.3-5l1.6-7l1.3-10l0.8-13l0.5-33l0.3-159.1l0.4-14.1l0.8-12l1-9l1.4-8l2.6-9l3.4-6.7l2-2.7l2.5-2.6l5.5-4l6.7-3l8.3-2.2l11-1.7z"/>
<path fill="#79ff20" d="M1262.2 227.4l36.5-0.6h127.1l45 0.1l24 0.6l18.1 1.3l13 2.2l5.1 1.4l5.1 2l3.8 2.1l3.9 2.9l2.9 3l2.2 3.1l2.1 3.9l1.9 5l1.4 5l1.3 6l1.7 15l0.7 16.1l0.4 21l0.1 140.1l0.4 33l0.7 14l1.1 11l1.6 8l2.2 6l1.4 2l2 2l3 1.8l3 1.1l9 1.8l14 1.2l35.9 0.7h141.9v146.4h-795.5v-146.4h142.3l36-0.6l14.1-1.1l9-1.7l3-1l3-1.5l2.1-1.7l1.7-2l2.3-5l1.6-7l1.3-10l0.8-13l0.5-33l0.4-159.1l0.4-14.1l0.8-12l1.1-10l1.6-8l2.4-8l1.9-4l1.8-3l4.4-5l2.9-2.3l3-1.8l7-2.9l10-2.5l12-1.5z"/>
<path fill="#8aff25" d="M1270.6 227.4l36.1-0.3h140.1l30 0.2l19 0.5l18.1 1.4l7 1l6 1.4l5 1.5l5 2.1l3.6 2.2l3.4 2.7l3 3.3l2.1 3l2 4l1.9 5l1.3 5l1.2 6l1.7 15l0.7 15.1l0.3 21l0.2 140.1l0.4 33l0.6 14l1.2 11l1.6 8l2.3 6l1.5 2.2l2 2l3 1.7l3 1.2l9 1.8l14 1.2l35.9 0.7l141.9 0.1v146.1h-795.5v-146.1l142.3-0.1l36-0.6l13.1-1l10-1.8l3-1l3-1.5l2.3-1.9l1.6-2l2.3-5l1.7-7l1.3-10l0.8-13l0.6-33l0.1-128.1l0.3-32l0.4-14.1l0.8-12l1.3-10l1.7-8l2.8-8.3l1.9-3.7l2.1-3l2-2.3l3-2.7l3-2.1l3.7-1.9l8.3-2.8l11-2.2l13.1-1.2z"/>
<path fill="#9bff29" d="M1287.7 227.4l168.1-0.1l25 0.3l17 0.5l16.1 1.4l7 1.1l6 1.3l5 1.6l4.4 1.9l3.6 2.1l3.7 2.9l2.8 3l2.5 3.7l2 4l1.6 4.3l1.4 5l1.2 6l1.7 15l0.7 15.1l0.4 21l0.1 140.1l0.5 33l0.6 14l1.2 11l1.6 8l2.3 6l1.7 2.5l2 1.9l3 1.7l3 1.1l9 1.9l14 1.3l35.9 0.6l141.9 0.1v145.9h-795.5v-145.9l142.3-0.1l36-0.6l13.1-1l10-1.9l3-1l3-1.5l2.5-2l1.6-2l2.3-5l1.7-7l1.4-10l0.7-12l0.6-32l0.1-132.1l0.4-33l0.6-15.1l1.1-12l1.4-9l2-8l1.6-4.3l2-4l2.5-3.7l2.5-2.7l2.7-2.3l3.3-2.2l3.7-1.8l4.3-1.6l10-2.4l13-1.6l16.1-1z"/>
<path fill="#abff2e" d="M1257.7 228.4l22-0.6l38-0.2h139.1l37 0.6l18.1 1.3l7 1l6 1.3l5.7 1.6l4.9 2l3.5 2l3.9 2.9l2.9 3.1l2.2 3l2.2 4l1.9 5l1.4 5l1.3 6l1.7 15l0.8 15.1l0.3 21l0.2 140.1l0.4 33l0.7 14l1.2 11l1.6 8l2.3 6l1.9 2.7l2 1.8l3 1.8l3 1.1l9 1.9l14 1.3l15 0.5l20.9 0.2h141.9v145.7h-795.5v-145.7h142.3l36-0.7l14.1-1.1l9-1.8l3-1l3-1.5l2.7-2.2l1.6-2l2.3-5l1.9-8l1.3-10l0.8-13l0.5-33l0.3-157.1l1.2-25.1l1.1-10l1.3-7.5l2.5-8.5l3.4-7l4.1-5.1l3-2.6l3-2l7-3.2l9-2.4l11-1.7z"/>
<path fill="#bbff33" d="M1263.5 228.4l36.2-0.6h128.1l43 0.1l23 0.6l18.1 1.3l7 1l6 1.3l5 1.4l5 2.1l4 2.2l3.4 2.6l3 3l2.6 3.6l2 3.7l1.8 4.7l1.5 5l1.3 6l1.7 15l0.8 15.1l0.4 21l0.1 140.1l0.5 33l0.7 14l1.1 11l1.7 8l2.4 6l2 2.9l2 1.8l3 1.8l3 1.1l9 1.9l14 1.3l15 0.5l20.9 0.2l141.9 0.1v145.4h-795.5v-145.4l142.3-0.1l36-0.7l14.1-1.1l9-1.8l3-1l3-1.5l2.9-2.4l1.6-2l2.3-5l1.9-8l1.3-10l0.8-13l0.5-33l0.4-157.1l0.4-14.1l0.8-12l1.1-9l1.5-8l2.8-9l1.7-3.6l2-3.3l2-2.5l2.6-2.6l2.5-2l3.3-2l7.6-3.2l9-2.2l12-1.6z"/>
<path fill="#caff37" d="M1271.9 228.4l35.8-0.3h139.1l29 0.2l19 0.5l18.1 1.5l7 1l6 1.4l5.3 1.7l4.5 2l4.2 2.6l2.9 2.4l2.8 3l2.3 3.4l2 3.9l1.8 4.7l1.4 5l1.2 6l1.7 15l0.8 15.1l0.3 21l0.2 139.1l0.4 33l0.7 14l1.2 11l1.7 8l2.4 6l2.1 3l2.1 1.9l3 1.7l3 1.2l9 1.9l14 1.3l15 0.5l20.9 0.2l141.9 0.1v145.2h-795.5v-145.2l142.3-0.1l36-0.6l14.1-1.2l9-1.8l3-1.1l3-1.4l3-2.5l1.6-2.1l1.6-3l1.1-3l1.6-7l1.3-10l0.8-12l0.6-33l0.1-128.1l0.3-32l0.5-14.1l0.9-12l1.2-9l1.7-8l2.8-8l1.9-3.6l2.3-3.4l2.7-2.9l2.4-2.1l3-2l3.9-2l8.7-3l10-1.9l13.1-1.3z"/>
<path fill="#d8ff3b" d="M1288.7 228.4l166.1-0.1l24 0.3l17 0.5l16.1 1.3l7 1.1l6 1.3l5.2 1.6l4.7 2l4.1 2.4l3.3 2.6l2.7 2.9l2.3 3.1l2.2 4l1.9 5l1.5 5l1.2 6l1.7 15l0.8 15.1l0.4 21l0.1 139.1l0.5 33l0.7 14l1.2 11l1.7 8l2.4 6l2.1 3l2.2 2l3.1 1.8l3 1.1l9 2l14 1.3l15 0.6l20.9 0.2h141.9v145h-795.5v-145h142.3l36-0.7l13.1-1.1l10-1.9l4-1.5l3-1.7l2-1.8l1.8-2.3l2.3-5l1.9-7l1.3-10l0.9-12l0.6-33l0.1-130.1l0.4-32l0.6-15.1l0.9-11l1.5-10l1.9-8l1.8-4.8l2-4l2.1-3.2l2.6-3l3.3-2.9l3-2l4-2l4-1.5l10-2.5l13-1.7l16.1-0.9z"/>
<path fill="#ebff40" d="M1260.1 229.4l22.6-0.6l41-0.2l133.1 0.1l36 0.6l18.1 1.4l7 1l6 1.3l5 1.4l5 2.1l4 2.2l3.6 2.7l2.9 3l2.5 3.5l2 3.6l2 4.9l1.4 5l1.3 6l1.8 15l0.8 15.1l0.4 21l0.1 138.1l0.5 33l0.7 15l1.3 11l1.7 8l2.4 6l1.6 2.4l2 2.1l3 2l3 1.3l5 1.5l5 0.9l13 1.2l15 0.6l20.9 0.2l142.9 0.1v144.7h-795.5v-144.7h142.3l21-0.3l15-0.4l13.1-1.1l10-2l4-1.5l3-1.7l2-1.7l2-2.6l2.4-5l2-8l1.3-10l0.9-13l0.5-33l0.4-155.1l0.4-15.1l0.7-11l1-9l1.5-8l2.7-9l3.2-6.5l2-2.9l2.4-2.6l2.6-2.3l3-2l7-3.3l9-2.5l11-1.8z"/>
</g>
<g filter="url(#fb1)">
<path fill="#eafe40" d="M1272.2 230.4l35.5-0.4h134.1l50 0.7l17.1 1.3l13.2 2.4l9.8 3.4l4.6 2.6l3.4 2.7l5.4 6.3l4.2 9l2.7 11l1.8 15l1.2 35.1l0.1 137.1l0.5 33l0.8 14l1.2 11l1.7 8l2.7 7l2 3l2.7 2.6l6 3.2l10 2.5l13 1.4l35.9 0.8l142.9 0.1v143.4h-795.5v-143.4l143.3-0.1l36-0.8l13.1-1.2l10-2.3l6.5-3.2l2.5-2.3l2.1-2.7l2.3-5l2.2-8l1.4-10l0.9-13l0.6-33l0.4-156.1l1.4-26.1l1.2-9l1.7-8l2.8-8.1l4-6.9l5-5.2l7-4.4l8-2.9l11-2.3l13.1-1.4z"/>
<path fill="#e2f33d" d="M1274.2 232.4l35.5-0.4h133.1l48 0.8l16.1 1.3l13 2.4l10 3.6l4 2.3l3.9 3l5.1 6l2.3 4l2.1 5l2.8 11l1.9 15l1.2 35.1l0.1 134.1l0.5 33l0.9 15l1.4 11l2.1 9l2.5 6l1.9 3l2.8 3l2.7 2l3.8 1.9l10 2.9l14 1.6l35.9 1l142.9 0.1v141.5h-795.5v-141.5l142.3-0.1l36-0.8l14.1-1.5l10-2.4l7-3.5l2.6-2.2l2.4-3l3-6l2.3-8l1.5-10l1.1-14l0.6-33l0.4-153.1l1.4-25.1l1.1-9l1.7-8l2.9-8.5l4-7l5.2-5.5l6.8-4.3l8-3.1l11-2.3l13.1-1.5z"/>
<path fill="#dcea3b" d="M1270.5 233.4l35.2-0.5h127.1l56 0.7l17 1.3l13.3 2.5l9.8 3.6l4.2 2.4l3.8 2.9l5.2 6.1l4.3 9l2.9 11l1.9 15l1.1 34.1l0.2 134.1l0.5 33l0.8 14l1.4 11l2 9l2.8 7l1.9 3l3 3.3l3 2.3l4 2l10 2.8l14 1.8l35.9 1l142.9 0.1v140.7h-795.5v-140.7l142.3-0.1l36-0.9l14.1-1.5l10-2.4l7-3.5l3-2.5l2.7-3.4l3-6l2.3-8l1.6-10l1.1-14l0.7-33l0.4-152.1l1.3-25.1l1.2-9l1.6-8l2.7-8l3.9-7l5.5-5.9l6-4l8-3.3l10-2.4l12.1-1.5z"/>
<path fill="#d5e23a" d="M1266.7 234.4l24-0.6l46-0.1h117.1l34 0.7l17 1.3l13.1 2.4l10 3.6l4 2.3l4 3.1l5.4 6.3l4.3 9l2.9 11l1.8 14l0.8 14.1l0.4 20l0.2 134.1l0.5 33l0.9 14l1.3 11l2.1 9l2.9 7l2.6 4l2.9 3l3 2.2l4 2l10 2.9l14 1.8l35.9 1l142.9 0.1v140h-795.5v-140l143.3-0.1l36-1l14.1-1.6l10-2.7l7-3.8l3-2.7l2.4-3.1l3.3-7l2.2-8l1.6-11l1-13l0.7-33l0.4-150.1l1.2-24.1l1.1-9l1.6-8l2.9-9l3.6-6.6l5-5.7l6-4.3l7-3.1l9-2.5l11.1-1.7z"/>
<path fill="#cdd737" d="M1264.8 235.4l20.9-0.7l36-0.2l130.1 0.1l35 0.6l17 1.4l13.1 2.4l10 3.6l4 2.2l4 3.1l5.6 6.5l4.3 9l2.9 11l1.7 14l0.9 14.1l0.4 20l0.2 132.1l0.5 33l0.9 15l1.4 11l2.1 9l2.9 7l2.5 4l2.7 2.9l3 2.4l4 2.2l10 3.1l14 1.9l15 0.9l21.9 0.3l142.9 0.1v139.2h-795.5v-139.2l143.3-0.1l36-1l14.1-1.7l10-2.7l4-1.8l3.7-2.5l3.2-3l2.2-3l3.3-7l2.2-8l1.7-11l1-13l0.7-33l0.4-148.1l1.1-24.1l2.6-17l2.7-9l3.6-7l4.6-5.6l5.7-4.4l7.3-3.5l8.3-2.5l10.8-1.8z"/>
<path fill="#cfd336" d="M1280.3 237.4l160.5-0.3l45 0.7l17 1.5l12.1 2.4l9.8 3.7l7.4 5l5.8 6.7l4.1 8.3l3 11l1.9 14l0.8 14.1l0.4 19l0.2 132.1l0.6 33l1.1 15l1.6 11l2.4 9l3 7l2.7 4l3.2 3.5l4 3l4 2.1l5 1.8l6 1.6l14 1.9l15 0.8l21.9 0.4l141.9 0.1v136.8h-795.5v-136.8l142.3-0.1l22-0.3l15-0.8l14.1-1.8l11-3.2l4-2l4-2.7l3-2.8l2.7-3.5l3.5-7l2.5-8l1.9-11l1.2-14l0.8-33l0.4-149.1l1.4-24.1l1.3-9l1.6-7l3.3-9l4.4-7l5-5.1l7-4.3l9-3.3l10.1-2.1l13-1.4z"/>
<path fill="#d2ca34" d="M1276.1 238.4l33.6-0.5h124.1l51 0.8l16 1.3l13.1 2.5l10 3.8l7.5 5.1l5.5 6.3l4.3 8.7l2.8 10l1.9 14l1 15.1l0.4 19l0.2 130.1l0.6 33l1 15l1.5 11l2.6 10l3.1 7l2.6 4l3 3.4l4 3.2l4 2.2l5 2l6 1.7l14 2.1l15 0.9l21.9 0.4l142.9 0.1v136h-795.5v-136l142.3-0.1l22-0.4l15-0.8l14.1-1.8l11-3.2l4-1.9l4.1-2.8l3.3-3l3-4l3.6-7l2.7-9l1.8-11l1.1-13l0.8-33l0.4-148.1l1.3-23.1l1.3-9l1.6-7.6l3-8.6l4-6.9l5-5.4l6.8-4.5l7.2-3l10-2.5l12.1-1.6z"/>
<path fill="#d6c233" d="M1268.2 239.4l20.5-0.7l36-0.2l125.1 0.1l34 0.6l16 1.3l13.1 2.5l10 3.7l4 2.3l4 3.1l5.4 6.3l4.4 9l3 11l1.7 13l0.8 14.1l0.5 19l0.2 130.1l0.6 33l1 15l1.6 11l2.2 9l3.4 8l2.6 4l3.6 4l4 3.1l4 2.2l5 2l6 1.7l14 2.1l15 0.9l21.9 0.4l142.9 0.1v135.5h-795.5v-135.5l142.3-0.1l22-0.3l15-0.8l15.1-2.1l11-3.4l4-2.1l4-2.8l3-3l3-3.9l3.5-7l2.7-9l1.9-11l1.1-14l0.8-33l0.4-145.1l1.2-23.1l2.5-16l2.8-9l3.7-7l4.4-5.4l5.9-4.6l7.1-3.5l8.3-2.5l10.8-1.9z"/>
<path fill="#d9b931" d="M1281.8 239.4l157-0.3l45 0.7l17 1.5l12.1 2.4l9.8 3.7l7.4 5l5.8 6.7l4.1 8.3l3 11l1.9 13.9l0.8 14.2l0.4 19l0.2 129.1l0.6 33l1.1 15l1.6 11l2.6 10l3 7l2.6 4l3.1 3.6l4 3.3l4 2.4l5 2.1l6 1.8l15 2.4l15 0.9l21.9 0.4l142.9 0.1v135h-795.5v-135h142.3l22-0.4l15-0.8l14.1-1.9l11-3.2l4-1.9l4.3-2.8l3.3-3l3.2-4l3.8-7l2.9-9l2-11l1.2-14l0.9-33l0.4-147.1l1.4-24.1l1.3-9l1.6-7l3.3-9l4.4-7l5-5l7-4.4l9-3.3l10.1-2.1l13-1.4z"/>
<path fill="#ddb12f" d="M1269.9 240.4l20.8-0.7l37-0.1h121.1l34 0.7l16 1.3l13.1 2.4l10 3.7l4.5 2.7l3.5 2.8l5.3 6.2l4.5 9l2.9 11l1.8 13l0.8 14.1l0.4 19l0.2 129.1l0.6 33l1.1 15l1.8 12l2.4 9l3.6 8l2.8 4l3.7 4l4.1 3l4 2.2l5 2l6 1.7l15 2.2l15 0.9l21.9 0.4l141.9 0.1v134.5h-795.5v-134.5l142.3-0.1l22-0.4l15-0.8l15.1-2.1l11-3.4l4-2l4-2.8l3.1-2.9l3.2-4l4.1-8l2.7-9l1.9-11l1.3-14l0.8-33l0.4-144.1l1.1-23.1l2.5-16l2.9-9l3.7-7l4.3-5.3l6-4.7l7-3.4l8.5-2.6l10.6-1.8z"/>
<path fill="#e0a82e" d="M1282.5 240.4l157.3-0.3l44 0.7l16 1.5l12.1 2.4l9.8 3.7l7.4 5l5.8 6.7l4.1 8.3l2.9 10.3l1.9 13.7l0.9 14.1l0.4 19l0.2 129.1l0.6 33l1.1 15l1.7 11l2.6 10l3.6 8l2.7 4l3.7 4l3.8 3l4.8 2.7l5 1.9l6 1.7l15 2.3l15 0.9l21.9 0.4l141.9 0.1v134h-795.5v-134l142.3-0.1l22-0.4l15-0.8l15.1-2.2l11-3.4l5-2.6l3.5-2.5l3.1-3l3.2-4l3.7-7l2.9-9l2-11l1.3-14l0.9-33l0.4-146.1l1.4-24.1l1.3-9l1.6-7l3.3-9l4.4-7l5-5l7-4.4l9-3.3l10.1-2.1l12-1.4z"/>
<path fill="#e4a02c" d="M1270.7 241.4l21-0.7l36-0.1h120.1l34 0.7l16 1.3l13.1 2.4l10 3.7l4 2.3l4 3.1l5.4 6.3l4.4 9l2.7 10l1.9 13l0.9 14.1l0.4 19l0.2 129.1l0.7 33l1.1 15l1.8 12l2.4 9l3.6 8l2.7 4l3.6 4l4.2 3.3l4 2.3l5 2.1l6 1.8l15 2.4l15 1l21.9 0.4l142.9 0.1v133.6h-795.5v-133.6h142.3l22-0.4l15-0.9l15.1-2.1l11-3.5l5-2.5l4-2.9l3.2-3.1l3-4l4.1-8l2.8-9l1.9-11l1.2-14l0.9-33l0.4-143.1l1.1-23.1l2.5-16l2.9-9l3.6-7l4.4-5.3l6-4.7l7-3.4l8.5-2.6l10.6-1.8z"/>
<path fill="#e7982a" d="M1283.1 241.4l155.7-0.3l44 0.7l16 1.5l12.1 2.3l9.9 3.8l7.3 5l5.8 6.7l4.1 8.3l2.9 10.2l1.9 13.8l0.9 14.1l0.4 18l0.2 129.1l0.7 33l1.1 15l1.6 11l2.7 10l3.6 8l2.6 4l3.5 4l3.8 3.1l5 3l5 2.1l6 1.7l15 2.5l15 0.9l21.9 0.5l142.9 0.1v133.1h-795.5v-133.1l141.3-0.1l22-0.3l15-0.9l15.1-2l6-1.5l6-2.1l5-2.6l3.5-2.4l3.5-3.3l3-3.7l4.4-8l2.9-9l2-11l1.4-14l0.9-33l0.4-146.1l1.4-23.1l1.3-9l1.5-7l3.4-9l4.3-7l5.1-5.1l7-4.3l9-3.4l10.1-2.1l12-1.3z"/>
<path fill="#ea9029" d="M1272.3 242.4l22.4-0.6l42-0.2l112.1 0.1l33 0.6l16 1.4l13.1 2.6l10 4l7 4.9l3.1 3.2l2.8 4l3.9 8l2.7 10l1.8 13l0.9 14.1l0.5 18l0.2 129.1l0.6 33l1 14l1.8 12l2.7 10l3.6 8l2.5 4l3.9 4.4l4 3.2l5 3l5 2l6 1.8l15 2.5l15 0.9l21.9 0.5l142.9 0.1v132.6h-795.5v-132.6l142.3-0.1l22-0.4l15-0.9l15.1-2.1l6-1.6l6-2.3l5-2.7l4-3l3.2-3.3l3-4l4.1-8l2.7-9l2-11l1.3-14l0.8-33l0.4-143.1l1.2-22.1l2.5-16l2.8-9l3.7-7l4.3-5.3l6-4.7l7-3.4l9-2.7l11.1-1.8z"/>
<path fill="#ee8727" d="M1298.5 242.4l147.3-0.1l38 0.9l15 1.5l12.1 2.5l5 1.8l5 2.4l6.9 5l5.1 6.3l4.2 8.7l2.7 10l1.8 13.1l0.9 14l0.4 18l0.2 128.1l0.6 33l1.1 14l1.8 12l2.6 10l3.6 8l2.6 4l3.5 4.1l4 3.5l5 3.1l5 2.2l6 1.9l7 1.5l9 1.2l15 1l21.9 0.5l142.9 0.1v131.9h-795.5v-131.9l141.3-0.1l22-0.4l15-0.8l15.1-2.1l6-1.5l6-2.1l5-2.5l3.8-2.6l3.4-3l3.3-4l4.6-8l3.1-9l2.2-11l1.4-14l1-34l0.5-147.1l1.7-24.1l1.5-9l2-7l3.5-8.1l5-6.8l6.3-5.1l8.1-4l9.7-2.7l12-1.8l15-1z"/>
<path fill="#ef8025" d="M1277.4 245.4l32.3-0.6h110.1l39 0.1l21 0.6l16 1.5l12.1 2.4l10 4l7 4.9l5.2 6.1l4.1 8l2.9 10l2 13.1l0.8 13l0.5 19l0.2 126.1l0.7 34l1.2 15l2 12l2.8 10l3.7 8l3.4 5l3.5 3.9l4 3.4l5 3.1l5 2.3l7 2.2l7 1.5l9 1.3l16 1.1l21.9 0.4l141.9 0.2v129.6h-795.5v-129.6l142.3-0.1l22-0.5l15-0.9l16.1-2.5l6-1.7l6-2.3l5-2.7l4-3l3.8-3.7l3.2-4l4.4-8l3.3-10l2.1-11l1.5-15l1-34l0.4-140.1l1.1-22l1.2-9.1l1.5-7l2.6-8l3.9-7.3l4.9-5.7l6.1-4.5l7-3.2l9.1-2.5l11-1.7z"/>
<path fill="#f17723" d="M1276 246.4l22.7-0.6l46-0.1h103.1l31 0.7l16 1.4l12.1 2.4l10 4l7 4.8l5.4 6.4l4.1 8l2.9 10l1.9 13.1l0.9 13l0.4 18l0.2 126.1l0.8 34l1.2 15l1.9 12l2.9 10l4.2 9l3.5 5l3.7 3.9l4 3.3l5 3l6 2.7l6 1.8l16 2.8l16 1.1l21.9 0.5l141.9 0.1v128.8h-795.5v-128.8l142.3-0.1l22-0.5l16-1l15.1-2.4l6-1.7l6-2.3l5-2.7l4.8-3.5l4-4l3.1-4l4.3-8l3.4-10l2.2-12l1.4-14l1-34l0.4-139.1l1.1-22l2.6-16.1l2.7-8.3l3.6-6.7l4.4-5.4l6-4.7l7-3.4l9.1-2.7l11-1.8z"/>
<path fill="#f26f21" d="M1306.9 246.4h138.9l36 0.9l15 1.6l11.1 2.5l9 3.8l7 5.1l5 6.1l4 8.1l2.8 9.9l1.8 13.1l0.9 13l0.4 18l0.2 126.1l0.8 33l1.2 15l2 12l2.8 10l4.2 9l3.5 5l3.6 4l4.8 3.9l5 3l6 2.6l6 1.8l16 2.8l16 1.1l21.9 0.5l141.9 0.2v128.1h-795.5v-128.1l141.3-0.1l22-0.5l15-0.9l16.1-2.3l12-3.8l5-2.5l5-3.4l3.8-3.4l3.4-4l4.8-8l3.7-10l2.5-12l1.6-14l1-34l0.6-145.1l1.6-23.1l1.7-9l2-7l3.7-8l5.5-7l6.7-5l8.4-3.7l10.1-2.5l12-1.5l16-0.9z"/>
<path fill="#f36620" d="M1285.2 247.4l31.5-0.4h118.1l44 0.8l15 1.4l12 2.4l9.7 3.8l7.2 5l5.2 6l4.1 8l2.9 10l1.9 13.1l0.9 13l0.5 18l0.2 125.1l0.7 34l1.3 15l2 12l2.8 10l4.2 9l3.4 5l3.6 4l4.5 3.8l5 3.2l6 2.7l6 2l8 1.7l8 1.2l16 1.2l21.9 0.5l142.9 0.2v127.5h-795.5v-127.5l142.3-0.2l22-0.4l16-1.1l16.1-2.6l6-1.8l6-2.4l5-2.8l4.4-3.2l4-4l3.2-4l4.5-8l3.5-10l2.4-12l1.5-15l1-34l0.5-140.1l1.3-22l1.1-8.1l1.6-7.3l3-8.3l4-6.8l5.4-5.6l6.6-4.3l8-3.2l10.1-2.3l11-1.3z"/>
<path fill="#f55e1e" d="M1276.4 248.4l20.3-0.6l37-0.2l111.1 0.1l32 0.6l16 1.4l12 2.4l9.1 3.3l4 2.3l4 3.1l5.7 6.6l4 8l2.8 10l1.8 12.1l0.9 13l0.4 18l0.3 126.1l0.8 34l1.3 15l2.1 12l3 10l4.4 9l3.5 5l4 4.2l5 4l5 2.9l6 2.5l6 1.9l16 2.8l16 1.1l21.9 0.5l141.9 0.1v127h-795.5v-127l142.3-0.1l22-0.5l16-1l16.1-2.7l7-2.1l5-2l5-2.8l5-3.7l4-4l3.2-4.1l4.4-8l3.8-11l2.3-12l1.4-14l1-34l0.4-138.1l1.2-22l2.4-15.1l2.6-8l3.6-7l4.7-5.7l5.5-4.3l6.5-3.3l9.1-2.8l10-1.7z"/>
<path fill="#f6561c" d="M1291.6 248.4l146.2-0.2l40 0.7l15 1.4l12 2.4l9.5 3.7l7.2 5l5.4 6.3l4 7.7l2.9 10l1.9 13.1l0.9 13l0.4 17l0.2 126.1l0.9 34l1.3 15l2.1 12l3 10l4.3 9l3.5 5l3.7 4l4.9 4l5 3.1l6 2.7l6 1.9l8 1.8l8 1.1l16 1.3l21.9 0.5l142.9 0.1v126.5h-795.5v-126.5l142.3-0.1l22-0.5l16-1l16.1-2.7l6-1.7l6-2.4l5-2.7l4.7-3.4l4.1-4l3.3-4l4.6-8l3.7-10l2.5-12l1.7-15l1-34l0.5-141.1l1.4-22l1.4-9.1l1.7-7l3.2-8l4.2-6.5l5.8-5.5l6.9-4l8.4-2.9l10-2.1l13-1.3z"/>
<path fill="#f74e1a" d="M1278.9 249.4l26.8-0.6l72.1-0.1l72 0.1l26.8 0.6l15.2 1.4l12 2.3l9.1 3.4l4 2.3l4 3l5.6 6.6l4 8l2.9 10l1.7 12.1l0.9 13l0.4 18l0.3 124.1l0.8 34l1.2 15l2.3 13l3 10l4.3 9l3.4 5l4.2 4.5l5 4.1l5 3l6 2.7l6 1.9l7 1.6l9 1.3l16 1.3l21.9 0.5l142.9 0.1v126h-795.5v-126l142.3-0.1l22-0.4l16-1.1l16.1-2.7l12-4.1l5-2.7l5-3.6l4.5-4.3l3.5-4.5l4.7-8.5l3.5-10l2.4-12l1.6-15l1-34l0.4-137.1l1.2-22l2.4-15.1l2.6-8l3.6-7l4.6-5.6l6-4.7l7-3.3l9.1-2.7l10.6-1.7z"/>
<path fill="#f94518" d="M1297.8 249.4l144-0.1l37 0.8l15 1.6l11 2.4l9.1 3.7l7 5l5 5.9l4 7.9l2.8 9.8l1.9 13.1l0.9 13l0.4 17l0.2 124.1l0.8 34l1.4 16l2.1 12l3 10l4.3 9l3.4 5l3.8 4.2l5 4.3l5 3.1l6 2.8l7 2.3l8 1.8l8 1.1l16 1.3l21.9 0.5l142.9 0.2v125.4h-795.5v-125.4l141.3-0.2l22-0.4l16-1l16.1-2.6l7-1.9l6-2.4l5-2.6l4.9-3.5l4.1-3.8l3.5-4.2l5.3-9l3.6-10l2.6-12l1.6-14l1.1-34l0.5-142.1l1.5-22l1.3-8.4l2-7.7l3.4-8l4.6-6.5l6-5.3l7-3.7l9.1-2.9l11-1.9l14-1.1z"/>
<path fill="#fa3d16" d="M1282.8 250.4l30.9-0.5h110.1l52 0.7l15 1.3l12 2.4l10.1 3.8l7 4.9l5.5 6.4l4 8l2.8 10l1.8 12.1l0.9 13l0.4 17l0.2 124.1l0.8 34l1.3 15l2 12l3.3 11l4.2 9l3.4 5l4.4 4.9l4.9 4.1l5.1 3.2l6 2.7l7 2.3l16 3l16 1.2l21.9 0.6l142.9 0.1v124.9h-795.5v-124.9l142.3-0.1l22-0.5l16-1.1l16.1-2.7l7-2l6-2.5l5-2.8l5-3.7l4-3.8l3.9-4.9l4.9-9l3.5-10l2.4-12l1.6-15l1-34l0.5-137.1l1.2-22l2.6-15.1l2.7-8l3.9-7l4.8-5.4l6-4.3l7.3-3.3l8.8-2.3l11-1.7z"/>
<path fill="#fb3414" d="M1275.9 251.4l18.8-0.7l30-0.2h117.1l32 0.6l16 1.3l12 2.3l10 3.7l7.1 4.8l5.5 6.2l4.2 8l2.9 10l1.8 12.1l0.9 13l0.5 17l0.2 125.1l0.9 34l1.5 16l2.2 12l3.2 10l4.4 9l3.5 5l4.3 4.6l5 4.1l5 3.1l6 2.7l7 2.3l16 2.9l16 1.3l21.9 0.5l142.9 0.2v124.3h-795.5v-124.3l143.3-0.2l22-0.5l16-1.2l16.1-2.8l7-2.1l6-2.6l5-2.9l5-3.8l4-4.1l3.5-4.5l4.9-9l3.5-10l2.4-12l1.6-15l1-34l0.5-136.1l1.1-21l2.3-15.1l2.5-8l3.5-7l4.2-5.3l5.7-4.7l6.3-3.3l8.1-2.7l10-1.9z"/>
<path fill="#fd2c12" d="M1291 251.4l143.8-0.3l41 0.8l15 1.4l11 2.2l10.1 3.9l7 4.9l5.2 6.1l4.1 8l2.8 10l1.8 12.1l0.8 13l0.4 17l0.3 124.1l0.9 34l1.3 15l2.2 12l3.3 11l4.4 9l3.5 5l4.6 5l4.8 4l5.6 3.4l6 2.7l7 2.3l16 2.9l16 1.3l22.9 0.5l141.9 0.2v123.7h-795.5v-123.7l142.3-0.1l22-0.5l16-1.2l16.1-2.6l7-2.1l6-2.4l5-2.7l5.2-3.7l4.2-4l4.1-5l5.1-9l3.6-10l2.6-12l1.7-15l1.1-34l0.5-139.1l1.4-22l1.2-8.1l1.7-7l3.1-8l4.5-7l5.3-5l6.7-4l8.1-2.9l9.8-2.1l12.2-1.3z"/>
<path fill="#fe2310" d="M1284 252.4l30.7-0.5h108.1l33 0.1l19 0.6l15 1.3l12 2.5l9.1 3.6l7 4.7l5 5.7l4.3 8l2.9 10l1.9 12.1l0.9 13l0.4 17l0.2 123.1l0.9 34l1.3 15l2.2 13l3.4 11l4.4 9l3.4 5l4.4 5l4.7 4l5.7 3.6l6 2.8l7 2.4l7 1.6l9 1.5l16 1.3l22.9 0.6l142.9 0.2v123h-795.5v-123l142.3-0.1l22-0.5l16-1.2l9.1-1.2l8-1.7l7-2.1l6-2.5l5-2.9l5.2-3.8l4.1-4l4-5l5-9l3.9-11l2.5-12l1.6-15l1-34l0.5-137.1l1.2-21l1.2-8.1l1.5-7l2.9-8l3.4-6l5-5.7l6.2-4.3l6.9-3l9-2.5l11-1.6z"/>
<path fill="#ff1e0f" d="M1283.4 253.4l30.3-0.5l103.1-0.1l37 0.1l20 0.6l15 1.3l12 2.5l9.1 3.5l7 4.7l5.2 5.9l4.2 8l2.7 9l1.9 12.1l1 13l0.4 17l0.3 124.1l0.9 34l1.5 16l2.3 12l3.5 11l4.5 9l3.6 5.1l4.5 4.9l4.8 4l5.7 3.6l6 2.7l7 2.4l8 1.8l8 1.3l16 1.3l22.9 0.6l142.9 0.2v122.1h-795.5v-122.1l142.3-0.2l22-0.5l16-1.1l9.1-1.2l8-1.7l7-2.1l6-2.5l5-2.8l5.3-3.8l4.2-4l4.1-5l5.2-9l3.8-10l2.8-13l1.7-15l1.2-35l0.4-136.1l1.3-21l2.6-15.1l2.8-8l3.6-6.3l5-5.6l5.8-4.1l6.7-3l8.6-2.4l10.3-1.6z"/>
</g>
<g filter="url(#fb2)">
<path fill="#fe1e0f" d="M1286.4 254.4l136.4-0.5l50 0.7l15 1.3l12 2.4l9.1 3.5l7 4.8l5.2 5.8l4.2 8l2.7 9l1.9 12.1l1.3 30l0.3 123.1l0.9 34l1.4 15l2.4 13l3.5 11l4.4 9l7.9 10l10.9 8.1l13 5.3l17 3.4l17 1.4l21.9 0.5l142.9 0.2v121.1h-795.5v-121.1l143.3-0.2l38-1.7l17.1-3.1l13-4.7l10.8-7.2l8-9l5.1-9l4-11l2.8-13l1.6-15l1.1-34l0.4-135.1l1.2-21l2.7-15.1l2.8-8l3.5-6.3l5-5.5l6-4.2l7.1-3.1l9-2.4z"/>
<path fill="#f91e0f" d="M1287.4 258.4l131.4-0.5l52 0.7l15 1.3l11 2.3l9 3.6l6.7 4.6l5.2 6l3.6 7l2.8 9l1.8 11.1l1.4 29l0.2 122.1l1 34l1.6 16l2.5 13l3.5 11l5 10l8.8 10.9l11 8.2l14 5.7l17 3.5l17 1.4l22.9 0.7l142.9 0.2v117.4h-795.5v-117.4l143.3-0.2l23-0.6l16-1.3l17.1-3.2l14-5.2l11-7.4l8.8-9.7l5.7-10l4-11l2.9-13l1.7-15l1.2-35l0.5-133.1l1.1-20l2.4-14.1l2.7-8.1l3.9-6.9l4.5-5l5.6-4l7.1-3.2l8-2.2z"/>
<path fill="#f51e10" d="M1292.4 260.4l134.4-0.4l43 0.7l14 1.3l11 2.3l9 3.5l6.7 4.6l5.2 6l3.6 7l2.7 9.1l1.8 11l1.3 28l0.3 121.1l1 35l1.7 16l2.6 13l4.1 12l5.3 10l9.2 11l11.6 8.3l14 5.5l17 3.4l17 1.5l22.9 0.7l142.9 0.2v115.4h-795.5v-115.4l143.3-0.2l23-0.6l16-1.3l17.1-3.1l14-5.1l11.3-7.3l9.5-10l6-10l4.2-11l3.1-13l2.1-16l1.3-35l0.5-134.1l1.2-20l2.7-14.1l3-8l3.7-6l4.9-5l6.3-4l7.3-2.8l9-2.1z"/>
<path fill="#f11e10" d="M1290.8 262.4l128-0.5l49 0.7l14 1.2l11 2.2l9 3.4l7.1 4.8l5 5.8l3.8 7.4l2.4 8.1l1.8 11l1.3 28l0.3 121.1l1.1 35l1.8 16l2.7 13l4.2 12l5.3 10l9.3 11.1l12 8.6l14 5.6l18 3.7l17 1.5l22.9 0.7l142.9 0.1v113.7h-795.5v-113.7l142.3-0.1l23-0.6l17-1.4l18.1-3.3l14-5.1l11.9-7.8l9.3-10l6.1-10l4.3-11l3.2-13l2.2-17l1.4-35l0.4-132.1l1.1-19l2.4-14.1l2.7-7.9l3.5-6.1l4.5-5.2l6.1-4.2l7-3.1l8-2.1z"/>
<path fill="#ed1e10" d="M1286 264.4l48.7-0.8l131.1 0.6l14 1.2l11 2.1l9 3.3l7.1 4.6l5 5.5l4 7.5l2.6 9.1l1.6 10l1.4 27l0.3 121.1l1.1 35l1.8 16l3 14l4.2 12l5.5 10l9.5 11.3l12 8.7l14 5.7l18 3.7l17 1.6l22.9 0.7l143.9 0.2v112.1h-795.5v-112.1l143.3-0.1l23-0.7l17.1-1.4l18-3.5l14-5.2l12-7.9l9.4-10.1l6.2-10l4.7-12l3.4-14l2-16l1.4-36l0.4-129.1l1-19l2.3-14l2.7-8.1l3.2-6l4.2-5l5.2-4l6-3l7-2.2z"/>
<path fill="#e91e10" d="M1302.6 265.4l128.2-0.2l36 0.7l14 1.4l10 2.1l8 3.1l7 4.7l4.6 5.2l3.8 7l2.7 8.7l1.6 10.4l1.4 27l0.3 120.1l1.2 35l1.9 17l3 14l4.4 12l5.5 10l9.7 11.4l12 8.7l15 6.1l18 3.7l17 1.6l23.9 0.7l142.9 0.2v110.6h-795.5v-110.6l142.3-0.1l23-0.6l17-1.4l19.1-3.5l14-5.1l12-7.7l9.8-10l6.9-11l4.9-12l3.5-14l2.1-16l1.5-36l0.5-131.1l1.3-20l2.8-14.1l2.8-7l3.9-6l5.3-5l6.8-3.9l8-2.7l9-1.7z"/>
<path fill="#e41e10" d="M1290.4 267.4l68.3-0.6l106.1 0.6l13 1.1l11 2.2l8 2.9l7 4.5l5.1 5.5l3.7 6.8l2.5 8.1l1.8 10l1.4 27l0.4 121.1l1.2 35l1.8 16l3.1 14l4.3 12l6 11l10.3 12l12.5 8.8l14 5.6l19 4l17 1.5l23.9 0.8l142.9 0.2v109.1h-795.5v-109.1l143.3-0.2l23-0.7l17.1-1.4l18-3.3l15-5.5l12.1-7.8l10.6-11l6.7-11l4.8-12l3.4-14l2.2-16l1.4-36l0.5-129.1l1.1-19l2.2-13l2.3-7.1l3.2-6l4.1-5l5.5-4.1l6-3l8-2.4z"/>
<path fill="#e01e11" d="M1310.5 268.4l122.3-0.1l33 0.8l13 1.3l9.7 2l7.7 3l6.6 4.5l5.1 5.8l4 8l2.5 9.8l1.6 13l0.9 28l0.3 120.1l2 36l2.1 13l3.1 12l4 10l5.6 10l10.4 12l12.5 8.9l14 5.7l19 4.1l18 1.7l23.9 0.7l142.9 0.2v107.7h-795.5v-107.7l142.3-0.1l24-0.7l17.1-1.4l19-3.6l14-5.1l13-8.2l10-10.2l6.5-10l5.6-13l3.7-14l2.4-17l1.5-36l0.6-131.1l1.3-19l2.9-14l3.4-8.1l4.2-5.5l5.2-4.5l6.8-3.5l8-2.4l10-1.7z"/>
<path fill="#dc1e11" d="M1294.1 270.4l114.7-0.5l54 0.6l13 1.1l11 2.2l8 3.1l6.8 4.5l5.1 6l3.8 8.1l2.4 9l1.6 13l0.9 28l0.3 119.1l2 36l2.3 14l3.2 12l4.5 11l5.2 9l10.4 12l12.6 9l14 5.8l20 4.3l17 1.6l23.9 0.9l143.9 0.2v106.2h-795.5v-106.2l143.3-0.2l24-0.7l17.1-1.5l19-3.7l14-5.1l13-8.4l10.8-11.2l6.9-11l5-12l3.7-14l2.3-17l1.6-36l0.5-129.1l1.1-18l2.3-13l2.4-7.1l3.4-6.2l4.3-4.8l5.7-4l7-3l7.1-1.8z"/>
<path fill="#d81e11" d="M1325.9 271.4l108.9 0.1l31 0.8l12 1.3l9 2.1l8 3.4l6 4.3l4.8 6l3.7 8.1l2.4 10l1.3 12l0.8 28l0.3 117.1l2 36l2.3 14l3.2 12l4.4 11l5.8 10l10.4 12l12.7 9.1l15 6.3l19 4l18 1.8l23.9 0.8l143.9 0.2v104.8h-795.5v-104.8l142.3-0.2l23-0.6l18.1-1.5l18-3.2l15-5l13-7.8l11-10.5l7.3-10.4l6-13l4-14l2.7-17l1.8-37l0.6-133.1l1.6-19.8l3.3-13.2l3.6-7.1l4.2-5l6-4.3l8-3.4l9-2.1l11-1.2z"/>
<path fill="#d41e11" d="M1299.3 273.4l118.5-0.4l43 0.6l13 1.2l10 1.9l8 3l7 4.7l5.1 6l3.7 8.1l2.3 9l1.5 13l0.8 27l0.4 117.1l2 36l2.4 15l3.3 12l4.5 11l5.8 10l5.3 6.8l6 6l13 9.1l14 5.8l20 4.2l18 1.8l23.9 0.8l143.9 0.2v103.3h-795.5v-103.3l143.3-0.2l24-0.7l18.1-1.6l19-3.7l15-5.6l13-8.4l11-11.4l7.1-11.1l5.5-13l3.7-14l2.5-17l1.6-37l0.5-127.1l1.1-18l2.4-13l2.5-7l3.5-6.1l4.7-4.8l5-3.4l6.6-2.8l8.2-2z"/>
<path fill="#d01e11" d="M1293.2 275.4l45.5-0.7l120.1 0.5l14 1.2l10 2l7.9 3l6.1 4l5 5.7l3.8 7.4l2.4 9l1.7 13l0.8 27l0.4 118.1l2.1 36l2.3 14l3.6 13l4.6 11l5.8 10l10.6 12.1l7 5.7l7 4.3l15 6.2l20 4.2l19 1.8l23.9 0.7l142.9 0.2v101.8h-795.5v-101.8l144.3-0.2l24-0.7l18.1-1.7l20-4l14-5.4l13-8.5l11.4-11.7l7-11l5.6-13l3.8-14l2.6-18l1.7-37l0.5-126.1l1.1-18l2.1-12l2.3-6.8l3-5.6l4-4.7l5-3.8l12-4.7z"/>
<path fill="#cc1e12" d="M1291.5 277.4l40.2-0.9l125.1 0.5l13 1l10 1.8l8 2.7l7 4.3l5.2 5.6l3.8 7.6l2.6 9.5l1.5 12l0.8 27l0.4 117.1l2.3 37l2.3 14l3.7 13l4.6 11l5.9 10l11 12.6l7 5.6l7 4.4l14 5.9l20 4.4l18 1.9l24.9 0.9l144.9 0.2v100.1h-795.5v-100.1l144.3-0.2l24-0.8l18.1-1.6l20-3.9l15-5.8l14-9.3l10.8-11.3l7.1-11l5.6-13l4.1-15l2.6-18l1.7-37l0.5-124.1l0.9-17l1.8-12l2.2-7l2.8-5.7l3.2-4.4l4.6-4l5.2-2.9l6-2.2z"/>
<path fill="#c81e12" d="M1292.7 279.4l40-0.9l123.1 0.5l13 1l10 1.9l8 2.8l6 3.8l5 5.3l4 7.7l2.5 9l1.6 12l0.8 27l0.4 116.1l2.3 37l2.5 15l3.7 13l4.7 11l6.6 11l11 12.3l14 9.9l15 6.3l20 4.3l19 1.9l23.9 0.9l144.9 0.2v98.2h-795.5v-98.2l144.3-0.2l25-0.8l18.1-1.8l21-4.2l14-5.5l14-9.3l11.5-12l7.1-11l6-14l4-15l2.6-18l1.7-37l0.5-123.1l0.9-17l1.9-12l1.9-6l3-6.2l3.8-4.9l4.2-3.4l11-4.8z"/>
<path fill="#c41e12" d="M1301.3 281.4l104.5-0.5l50 0.6l12 1.1l10 1.9l7.7 2.9l6 4l5 6.1l3.3 7l2.3 9l1.4 12l0.8 26l0.4 114.1l0.8 21l1.5 17l2.7 15l3.7 13l5.2 12l6.8 11l11.5 12.6l14 9.8l15 6.2l21 4.5l18 1.8l24.9 0.9l144.9 0.3v95.9h-795.5v-95.9l144.3-0.2l24-0.8l19.1-1.8l21-4.1l15-5.8l14-9.1l11.2-11.3l8-12l6.3-14l4.2-15l2.8-18l1.8-38l0.6-124.1l1-17l2.2-11.8l2.1-6.2l2.9-5.1l4-4.6l5-3.6l6-2.7l7-1.9z"/>
</g>
<path d="M999.2 529.6H1185.6M1569.9 529.6H1754.7" fill="none" stroke="#5a96f0" stroke-width="2.6"/><path d="M1185.6 215.4H1569.9" fill="none" stroke="#4a70f8" stroke-width="2.6"/><path d="M1185.6 529.6V215.4M1569.9 215.4V529.6" fill="none" stroke="#4030ff" stroke-width="4.6"/></g>
<path class="ax" d="M999.2 213.4V666.6H1755.2"/>
<path class="tk" d="M999.2 218.7H991.1M999.2 327.6H991.1M999.2 441.6H991.1M999.2 558.8H991.1M999.2 666.5H991.1M999.2 666.6V675.4M1182.9 666.6V675.4M1377.2 666.6V675.4M1571.8 666.6V675.4M1751.9 666.6V675.4"/>
<text class="b" transform="translate(982.9 231.1) scale(1 1.06)" font-size="34.3" text-anchor="end">2.4</text>
<text class="b" transform="translate(982.9 340.2) scale(1 1.06)" font-size="34.3" text-anchor="end">1.8</text>
<text class="b" transform="translate(982.9 454.4) scale(1 1.06)" font-size="34.3" text-anchor="end">1.2</text>
<text class="b" transform="translate(982.9 571.7) scale(1 1.06)" font-size="34.3" text-anchor="end">0.6</text>
<text class="b" transform="translate(982.9 677.3) scale(1 1.06)" font-size="34.3" text-anchor="end">0.0</text>
<text class="b" transform="translate(998.9 704.6) scale(1 1.06)" font-size="34.3" text-anchor="middle">0</text>
<text class="b" transform="translate(1182.6 704.6) scale(1 1.06)" font-size="34.3" text-anchor="middle">1</text>
<text class="b" transform="translate(1376.9 704.6) scale(1 1.06)" font-size="34.3" text-anchor="middle">2</text>
<text class="b" transform="translate(1571.5 704.6) scale(1 1.06)" font-size="34.3" text-anchor="middle">3</text>
<text class="b" transform="translate(1752.2 704.6) scale(1 1.06)" font-size="34.3" text-anchor="middle">4</text>
<text class="b" x="1381.7" y="738.9" font-size="38.5" text-anchor="middle">x(m)</text>
<text class="b" transform="translate(920.2 425.8) rotate(-90)" font-size="38.8" text-anchor="middle">z(m)</text>
<text x="964.1" y="178.0" font-size="52" text-anchor="middle">(b)</text>
<rect x="1023.5" y="293.4" width="152.7" height="47.8" fill="#595959"/><rect x="1017.0" y="287.0" width="151.6" height="46.1" fill="#f2f2f2"/>
<text class="b" x="1092.6" y="319.8" font-size="34.8" text-anchor="middle">Day 365</text>
<rect x="1255.2" y="39.1" width="243.7" height="125.4" fill="url(#gb)"/>
<text class="b" x="1370.8" y="25.2" font-size="34.6" text-anchor="middle">Surface soil</text>
<path class="ar" d="M1235.6 37.8H1250.8M1235.6 164.7H1250.8M1244.3 59.3V78.5M1244.3 124.9V143.2"/><path d="M1244.3 40.0l7 20.3h-14z M1244.3 162.9l7 -20.7h-14z" fill="#000"/>
<text class="b" transform="translate(1228.4 100.8) rotate(-90) scale(1 1.04)" font-size="33.6" text-anchor="middle">0.1 m</text>
<path class="ar" d="M1373.8 201.5V183.5"/><path d="M1373.8 164.7l6.8 19.8h-13.6z" fill="#000"/>
<path class="dash" d="M1320.30 202.60L1427.80 202.60" stroke-dashoffset="-6.35"/><path class="dash" d="M1320.30 232.95L1428.80 232.95" stroke-dashoffset="-0.25"/><path class="dash" d="M1320.30 202.60L1320.30 229.95" stroke-dashoffset="-3.35"/><path class="dash" d="M1427.80 202.60L1427.80 229.95" stroke-dashoffset="-1.75"/>
</g>
<g id="panel-c">
<g clip-path="url(#cc)">
<g filter="url(#fc0)">
<rect x="85.1" y="998.2" width="803.6" height="498.1" fill="#5d6efc"/>
<path fill="#657efc" d="M310.1 1024.2l7.5-0.7l10-0.3l36.1-0.5l262.2 0.1l22.1 0.4l14 0.6l8 1.3l2 0.7l2 1.2l1.2 1.2l1.2 2l1.5 6l0.9 10l0.4 14l0.3 44.1l0.4 232.3l30.2 0.4h174.7v155.3h-795.8v-155.3h176.5l30.2-0.4l0.4-244.3l0.3-30l0.4-16.1l0.9-10l0.8-4l1.1-2.8l2-2.4l2-1.2l2-0.7z"/>
<path fill="#6a8bfc" d="M324.1 1024.2l23.6-0.8l42-0.3h176.2l58 0.3l20.1 0.4l14 0.9l8.3 1.5l3.7 1.5l2 1.3l2 2.3l1.4 2.9l1.5 6l1.1 10l0.6 16.1l0.5 50l0.2 186.3l0.4 34l0.3 0.3l6 0.2l24.1 0.2l174.7 0.1v154.9h-795.8v-154.9l176.5-0.1l24.1-0.2l6-0.2l0.3-0.3l0.4-40.1l0.3-204.2l0.5-30l0.8-16.1l1.1-8l1.2-4l1.4-2.9l2-2.3l4-2.2l4-1.2l6-0.9z"/>
<path fill="#689bfb" d="M360.6 1024.2l49.1-0.4h134.2l50 0.2l30 0.4l20.1 0.9l12 1.3l4 0.8l4 1.3l3.1 1.5l2.6 2l1.7 2l1.2 2l1.4 3.3l1.2 4.7l1.6 12l0.9 18.1l0.6 48l0.4 178.3l0.3 24l0.5 12l0.5 0.6l6 0.4l24.1 0.4l174.7 0.1v154.2h-795.8v-154.2l176.5-0.1l24.1-0.4l6-0.4l0.5-0.6l0.6-14l0.3-26.1l0.6-206.2l0.9-30.1l0.9-10l1-6l1.7-6l2.1-4l1.7-2l1.7-1.4l2-1.2l3.3-1.4l6.7-1.6l10-1.2l12-0.7z"/>
<path fill="#67aafa" d="M332.9 1026.2l24.8-1.2l40-0.6h160.2l56 0.5l24.1 0.9l14 1.5l6 1.3l4 1.4l4 2.2l2 1.6l2 2.3l1.3 2.1l1.7 4l1.1 4l1.8 12l1.1 18.1l0.7 46l0.5 178.3l0.4 24l0.7 12l0.7 0.8l6 0.5l24.1 0.6l174.7 0.1v153.7h-795.8v-153.7l176.5-0.1l24.1-0.6l6-0.5l0.7-0.8l0.7-14l0.5-28.1l0.6-194.2l0.7-28l1.4-18.1l0.9-6l1.5-6l1.7-4l1.3-2.1l2-2.3l4-2.9l6-2.3l6-1.3z"/>
<path fill="#66b4fa" d="M346.9 1026.2l26.8-0.9l46-0.3h144.2l50 0.6l22.1 1.1l14 1.7l6 1.4l4 1.4l4 2.2l2 1.6l2 2.1l2 3.1l1.8 4l1.1 4l1.1 5.1l0.9 6.9l1.3 18.1l0.6 20l0.3 26l0.6 174.3l0.4 24l1 14l0.9 1l6 0.7l24.1 0.7l174.7 0.2v153.1h-795.8v-153.1l176.5-0.2l24.1-0.7l6-0.7l0.9-1l1-14l0.5-28.1l0.8-194.2l0.9-28l0.7-10l1.1-8.1l1.7-8l2.4-6l2.8-4l3.2-2.8l2-1.2l4-1.8l6-1.6l10-1.6z"/>
<path fill="#6bc7fa" d="M378.9 1026.2l46.8-0.4h122.2l40 0.3l26 0.6l20.1 1.2l14 2l6 1.5l4 1.6l4 2.3l2 1.7l2 2.1l2.1 3.1l1.9 4l1.9 6l2 12.1l1.4 18l0.6 18l0.3 26l0.7 172.3l0.7 24l0.5 8l0.8 6l1.1 1.3l6 0.9l10.1 0.6l14 0.4l174.7 0.2v152.3h-795.8v-152.3l176.5-0.2l14.1-0.4l10-0.6l6-0.9l1.1-1.3l0.8-6l0.5-8l0.7-26.1l0.6-162.2l0.5-38l0.6-16l0.9-12l1.2-10.1l1.7-8l2.2-6l2.3-4l1.7-2l2.1-2l2.8-2l6.3-2.8l8-1.9l12-1.6l16.1-1.1z"/>
<path fill="#6fd7fa" d="M420.5 1026.2h145.4l30 0.4l22 0.7l18.1 1.3l12 2l5.6 1.6l4.4 1.9l3.4 2.1l2.6 2.2l2 2.4l2.1 3.4l1.9 4.5l1.6 5.5l1.9 12.1l1.4 18l0.6 18l0.4 26l0.7 170.3l0.8 26l1.3 12l1.3 1.4l6 1l10.1 0.7l14 0.4l174.7 0.2v152h-795.8v-152l170.5-0.2l24.1-0.6l6-0.5l6-1l1.3-1.4l0.8-6l0.7-10l0.5-16l0.4-42.1l0.4-132.2l0.8-40l0.8-16l1.3-12l1.9-10.1l2-6l2.1-4l1.4-2l1.8-2l3.8-3l6.4-3l9.6-2.4l12.3-1.6l17.8-1.1l24-0.6z"/>
<path fill="#73e6fa" d="M349.2 1028.2l26.5-1.2l42-0.5h138.2l50 0.7l22 1.1l8.1 0.8l8 1.3l6 1.4l4 1.3l4 1.9l4 2.8l2.4 2.4l2.8 4l1.9 4l1.3 4l1.4 6l1 6.1l1.6 18l0.7 18l0.4 26l0.9 172.3l0.8 26l0.5 6l0.9 6l1.4 1.5l6 1.1l10.1 0.7l14 0.4l38.2 0.3h136.5v151.7h-795.8v-151.7h138.4l38.1-0.3l14.1-0.4l10-0.7l6-1.1l1.4-1.5l0.9-6l0.6-8l0.8-28.1l0.7-154.1l0.4-36.1l1.1-26l0.8-10l1.1-8.1l1.8-8l2.4-6.4l2-3.5l1.6-2.1l4.4-4l6-3.1l6-1.8l10-1.9z"/>
<path fill="#77f5fa" d="M355.1 1028.2l26.6-1l44-0.4h132.2l48 0.7l20 1.1l16.1 2l6 1.3l6 2l4 2l3.2 2.3l2.8 2.8l2.3 3.2l2 4l1.7 5l1.2 5l1.3 8.1l1.6 18l0.7 18l0.4 26l0.9 170.3l1 26l0.5 6l1 6l1.4 1.6l6 1.2l10.1 0.7l14 0.5l38.2 0.3h136.5v151.4h-795.8v-151.4h138.4l38.1-0.3l14.1-0.5l10-0.7l6-1.2l1.4-1.6l1-6l0.7-8l0.8-28.1l0.8-154.1l0.4-36.1l1.2-26l0.9-10l1.2-8.1l1.3-6l1.3-4l2.7-6l3-4l2.1-2l2.7-2l6.5-3.1l8-2.1l10-1.6z"/>
<path fill="#7afffa" d="M364.4 1028.2l29.3-0.8l48.1-0.2h116.1l46 0.7l22 1.3l8.1 0.8l8 1.3l6 1.5l4.2 1.4l4.2 2l3.6 2.4l3.6 3.6l2.4 3.6l2 4.2l1.4 4.2l1.5 6l1 6.1l1.7 18l0.8 18l0.4 26l1 170.3l1 26l0.6 6l1 6l1.6 1.7l6 1.3l10.1 0.8l14 0.5l38.2 0.3l136.5 0.1v151h-795.8v-151l138.4-0.1l38.1-0.3l14.1-0.5l10-0.8l6-1.3l1.6-1.7l1-6l0.7-8l1-28.1l0.8-156.2l0.5-36l1.4-26l1.1-10l1.4-8.1l2.4-8l3.1-6l3.2-4l2.3-2l3.5-2.2l6-2.6l10-2.5l12.1-1.6z"/>
<path fill="#75ffe5" d="M359.8 1030.2l25.9-1.1l42-0.5h124.2l48 0.8l22 1.3l8 0.9l8.1 1.4l6 1.5l6 2.1l4 2.1l4 2.9l2.6 2.6l2.9 4l2.5 5l1.7 5l1.5 6.1l1 6l1.9 18l0.8 18l0.5 24l0.6 126.2l0.5 40l1.2 26.1l0.9 8l1.4 6l2 2.3l4 1.2l10.1 1.3l14 0.7l38.2 0.5h138.5v149.7h-795.8v-149.7h138.4l38.1-0.4l14.1-0.7l10-1l4-0.9l2-0.7l2-2.3l1.4-6l0.9-8l1.2-28.1l0.5-40l0.5-114.1l0.6-34.1l1.3-24l1.1-10l1.3-8l2.1-8.1l1.5-4l2.1-4l2.9-4l1.9-2l4.7-3.5l6-2.9l8-2.4l10.1-1.8z"/>
<path fill="#72ffd5" d="M366.5 1030.2l29.2-1l48.1-0.3l114.1 0.1l44 0.9l20 1.3l8.4 1l7.7 1.4l6 1.5l6 2.3l4 2.2l3.5 2.6l2.5 2.5l2.6 3.5l2.2 4l2.2 6l1.6 6.1l1.1 6l1.9 18l0.9 18l0.5 24l0.7 126.2l0.5 40l1.3 26.1l0.9 8l1.4 6l2.2 2.5l4 1.2l10.1 1.4l14 0.7l38.2 0.5h138.5v149.4h-795.8v-149.4h138.4l38.1-0.4l14.1-0.7l10-1.1l6-1.6l2.2-2.5l1.4-6l0.9-8l0.8-12l0.5-16.1l0.5-40l0.6-114.1l0.6-34.1l1.3-24l1.2-10l1.4-8l2.6-9.1l3.4-7l2.6-3.5l2-2l3.1-2.5l2.9-1.8l4-1.8l4-1.5l8-1.9l12.1-1.8z"/>
<path fill="#6effc6" d="M374.8 1030.2l40.9-0.8l100.1-0.1l56.1 0.2l32 0.9l20 1.5l8.1 1.1l8 1.7l5.1 1.5l4.9 2l4 2.4l4 3.2l2.2 2.4l2.7 4l1.9 4l2.2 6l2.5 12.1l1.8 18l0.9 18l0.5 24l0.7 124.2l0.5 40l1.3 26.1l1 8l1.5 6l2.3 2.7l6 1.6l8.1 1l14 0.8l38.2 0.5l138.5 0.1v149h-795.8v-149l138.4-0.1l38.1-0.4l14.1-0.7l10-1.2l6-1.6l2.3-2.7l1.5-6l1-8l0.8-12l0.5-16.1l0.5-40l0.6-114.1l0.7-36.1l1.6-24l1.3-10l1.7-8l2.7-8.1l3.2-6l3.2-4l2.2-2l2.7-2l3.6-2l7.9-3l10.1-2.2l14-1.7z"/>
<path fill="#6bffb6" d="M384 1030.2l43.7-0.6h110.2l40 0.3l26 0.8l20 1.6l8.1 1.2l6 1.2l6 1.7l6 2.5l4 2.5l3.4 2.8l2.6 2.9l2.1 3.1l2.1 4l2.2 6l1.5 6.1l1.1 6l2 18l0.9 18l0.5 24l0.7 124.2l0.6 40l1.3 26.1l1 8l1.5 6l2.5 2.8l6 1.7l8.1 1.1l14 0.8l38.2 0.5h138.5v148.8h-795.8v-148.8h138.4l38.1-0.5l14.1-0.7l10-1.2l6-1.7l2.5-2.8l1.5-6l1-8l0.8-12l0.6-16.1l0.5-40l0.6-114.1l0.8-36.1l0.7-14l1-10.8l1.3-9.2l1.7-8l3-8.5l1.9-3.6l2.1-3.1l2-2.3l2.9-2.6l3.1-2.1l4-2.1l8-2.8l12.1-2.4l16-1.6z"/>
<path fill="#68ffa6" d="M400.7 1030.2l45.1-0.3l102.1 0.1l32 0.3l24 0.8l20 1.7l8.1 1.2l6 1.3l6 1.8l4 1.7l4 2.1l4.3 3.3l3.6 4l2.1 3.3l2 4l1.7 4.7l1.6 6.1l1.2 6l1.1 8l0.9 10l1 18l0.5 24l0.8 124.2l0.6 40l0.5 14.1l0.9 12l1 8l1.5 6l2.7 3l6 1.8l10.1 1.2l12 0.7l38.2 0.5l138.5 0.1v148.4h-795.8v-148.4l138.4-0.1l38.1-0.5l14.1-0.7l10-1.2l6-1.8l2.7-3l1.5-6l1-8l0.9-12l0.6-16.1l0.5-40l0.7-114.1l0.8-36.1l0.8-14l1.1-12l1.6-10l2.1-8.1l1.7-4.7l2-4l2.1-3.3l3.6-4l2.5-2l3.8-2.4l4-1.9l4-1.5l10.1-2.4l14-1.9l18-1.2z"/>
<path fill="#64ff96" d="M362.3 1032.2l25.4-1.3l40-0.5h122.2l46 0.8l22 1.4l8 1l8.1 1.4l6 1.6l6 2.1l4 2l4.9 3.5l3.1 3.1l2.2 2.9l2.3 4l2.5 6l1.7 6.1l1.3 6.5l2 17.5l1 18l0.6 24l0.8 124.2l0.6 40l0.6 14.1l0.9 12l1.1 8l1.6 6l1.5 2l1.3 1.2l4 1.4l10.1 1.5l14 0.9l38.2 0.6l138.5 0.1v148h-795.8v-148l138.4-0.1l38.1-0.5l14.1-0.8l10-1.3l6-1.8l1.3-1.2l1.5-2l1.6-6l0.9-6l1.5-22l0.7-38.1l0.7-114.1l0.5-34.1l1.4-28l1.1-10l1.7-10l2.1-8.1l1.6-4l1.9-4l1.5-2.3l3-3.7l5-4.2l6-3.3l8-2.7l10.1-2.1z"/>
<path fill="#60ff89" d="M405.1 1032.2l44.7-0.3l98.1 0.1l32 0.4l22 0.9l10 0.8l10 1.2l8 1.4l6.1 1.5l5.9 2l4.3 2l3.8 2.4l4 3.3l2.1 2.3l2.8 4l2.2 4l2.3 6.1l1.6 6l1.2 6l1.2 8l1 10l1 18l0.6 22l0.9 120.2l0.7 40l0.7 16.1l1.1 12l1.2 8l1.8 6l1.6 2.3l2 1.7l4 1.5l10.1 1.9l14 1l38.2 0.7l138.5 0.1v146.5h-795.8v-146.5l136.4-0.1l38.1-0.5l14.1-0.8l10-1.3l6-1.6l2-0.9l2.3-2l1.3-2l0.7-2l1.8-8l1.3-12l0.9-16l0.8-42.1l0.9-118.2l0.9-34l1-14l1.2-10l1.9-10l2.3-8l1.6-4.1l2.2-4l2.8-4l2.1-2.3l4-3.3l3.8-2.4l4.2-2l4-1.4l6.1-1.7l6-1.2l14-1.8l18-1.2z"/>
<path fill="#5cff7a" d="M563.9 1032.4l26 0.6l18 1.1l17.4 2.1l6.7 1.4l6 1.7l6 2.4l4 2.2l3.2 2.3l2.8 2.6l2.9 3.4l2.5 4l1.9 4l2.2 6.1l2.7 12l2 18l1 18l0.5 22l0.9 118.2l0.7 40l0.8 16.1l1.1 12l1.3 8l1.8 6l1.7 2.5l2 1.6l4 1.6l4 1l6.1 0.9l14 1.1l38.2 0.7l138.5 0.1v146.2h-795.8v-146.2l140.4-0.1l38.1-0.7l14.1-1.1l6-0.9l4-1l4-1.6l2-1.6l1.7-2.5l1.8-6l1.3-8l1.1-12l0.8-16.1l0.7-40l0.9-118.2l0.5-22l0.9-16l1.5-16l1.4-8l1.4-6l1.9-6l1.7-4.1l2.2-4l2.2-3.2l2.6-2.8l3.4-2.9l4-2.5l4-2l4-1.5l6.1-1.7l12-2.2l16-1.6l20-1l26-0.4z"/>
<path fill="#58ff6a" d="M369.7 1034.2l26-1.2l42-0.5l112.2 0.1l26 0.3l18 0.6l22 1.7l8 1.1l8.1 1.7l6 1.7l6 2.5l4 2.3l4 3.1l2.6 2.6l3.4 4.5l2 3.6l2.4 6l1.8 6l1.3 6l1.2 8l1 10l1.1 18l0.6 22l1 120.2l0.7 40l0.8 16.1l1.1 12l1.3 8l1.9 6l1.8 2.6l2 1.7l4 1.6l4 1l6.1 0.9l14 1.1l38.2 0.7l138.5 0.1v146h-795.8v-146l140.4-0.1l38.1-0.7l14.1-1.1l6-0.9l4-1l4-1.6l2-1.7l1.8-2.6l1.4-4l1.5-8l1.1-10l0.9-14l0.9-38.1l0.8-110.1l0.5-32.1l0.7-16l0.8-12l1.2-10l1.8-10l2.9-10l1.8-4.1l1.9-3.5l4-5.2l3.6-3.3l2.4-1.7l4-2.3l4-1.7l8.1-2.5l12-2.3z"/>
<path fill="#53ff58" d="M373.7 1034.2l28-1.1l44.1-0.4l106.1 0.1l24 0.3l18 0.7l22 1.7l8 1.2l7.4 1.5l6.7 2l4.9 2l5.1 2.9l4 3.1l3.7 4l2.3 3.4l2 3.8l2 4.9l1.8 6l1.3 6l1.3 8l1 10l1.1 18l0.7 22l0.9 120.2l0.8 40l0.8 16.1l1.1 12l1.4 8l1.9 6l1.9 2.8l2 1.6l4 1.6l4 1l6.1 1l14 1.1l38.2 0.8h138.5v145.8h-795.8v-145.8h136.4l38.1-0.6l14.1-0.9l10-1.4l4-1l4-1.6l2.7-2.4l2.1-4l1.8-8l1.2-10l1-14l1-38.1l0.8-112.1l0.6-32.1l0.6-16l1.1-14l1.3-10l1.8-9.2l2.8-8.8l1.8-4.1l2.3-4l3.1-4l2-2l6-4.4l4-2l4-1.6l10.1-2.8l12-1.9z"/>
<path fill="#4fff47" d="M378.2 1034.2l31.5-1l52.1-0.2l92.1 0.1l22 0.3l18 0.6l20 1.6l8 1.1l8 1.6l6.1 1.6l6 2.4l4 2.1l5.3 3.8l3.7 4l2.8 4l2.2 4.2l2 5.2l1.9 6.7l1.2 6l2 16l1.2 18l0.6 22l1 120.2l0.8 40l0.8 16.1l1.1 12l1.4 8l1.9 6l1.2 2l2.1 2l2.8 1.5l2 0.7l4 1l6.1 1l14 1.1l16.1 0.6l22.1 0.2l138.5 0.1v145.5h-795.8v-145.5l136.4-0.1l38.1-0.6l14.1-0.9l10-1.4l4-1l4-1.6l2.9-2.6l2-4l1.9-8l1.2-10l1-14l1-38.1l0.9-114.1l0.6-32.1l0.8-16l0.9-12l1.4-10l2-10l1.4-4.7l2-5.2l2-3.9l2-3l4.7-5.3l3.3-2.5l4-2.4l8-3.4l10.1-2.5l12-1.8z"/>
<path fill="#4aff36" d="M383.6 1034.2l38.1-0.9l84.1-0.1l56.1 0.2l32 0.9l20 1.6l8 1.1l8 1.6l6.1 1.8l6 2.4l4 2.1l4.5 3.3l3.5 3.5l2 2.6l2.4 3.9l2.7 6.1l1.9 6l1.4 6l1.3 8l1.1 10l1.2 17.8l0.6 22.2l1.1 120.2l0.8 40l0.8 16.1l1.2 12l1.4 8l1.9 6l1.2 2l2 2l1 0.7l4 1.7l4 1l6.1 1l14 1.1l16.1 0.6l22.1 0.2l138.5 0.1v145.3h-795.8v-145.3l136.4-0.1l38.1-0.6l14.1-0.9l10-1.4l4-1l4-1.7l3-2.7l2-4l1.9-8l1.3-10l1-14l1-38.1l0.9-114.1l0.7-32.1l0.7-16l1.1-12l1.3-10l2.1-10l3-8.8l2-4l2-3.3l2-2.5l3.5-3.5l2.5-2l4-2.4l4-1.9l4.5-1.7l11.6-2.8l14-1.9z"/>
<path fill="#46ff27" d="M390.1 1034.2l41.6-0.7h102.1l38.1 0.3l26 1l20 1.9l8 1.4l6.1 1.5l6 1.9l5.9 2.7l4.1 2.6l4 3.4l3.4 4l2.5 4l2.1 4.4l2 5.6l2.8 12.1l1.9 16l1.1 18l0.6 22l1 118.2l0.8 40l0.9 16.1l1.2 12l1.4 8l1.9 6l1.3 2l1.9 2l1.2 0.9l4 1.6l4 1.1l6.1 1l14 1.2l16.1 0.5l22.1 0.3h138.5v145.1h-795.8v-145.1h136.4l38.1-0.6l14.1-1l10-1.4l4-1.1l4-1.6l3.1-2.9l2.1-4l1.9-8l1.3-10l0.9-12l1.1-38.1l1-116.1l0.7-34.1l0.9-16l1.1-12l1.9-12l2-8l2-5.7l2-4.2l4.2-6.2l1.8-2l4-3.4l4-2.5l4-2l4-1.5l6.1-1.8l12-2.3l14-1.5z"/>
<path fill="#42ff18" d="M398.7 1034.2l43.1-0.5l100.1 0.1l34 0.4l22 0.9l10 0.8l10 1.2l8 1.4l6.1 1.5l6 2l4.9 2.2l5.1 3.2l3.3 2.8l3.5 4l2.6 4l2 4.1l2.2 6l2.8 12l2 16l1.1 18l0.7 22l1 118.2l0.8 40l0.9 16.1l1.2 12l1.5 8l1.9 6l1.2 2l1.9 2l1.4 1l4 1.7l4 1l6.1 1.1l14 1.2l16.1 0.5l22.1 0.3l138.5 0.1v144.8h-795.8v-144.8l136.4-0.1l38.1-0.6l14.1-1l10-1.5l4-1l4-1.7l2-1.5l1.3-1.5l2-4l2-8l1.3-10l0.9-12l1.2-38.1l0.9-116.1l0.8-34.1l0.9-16l1.1-12l1.6-10.4l2.4-9.6l1.6-4.6l2-4.3l2-3.5l2.8-3.7l3.2-3.2l3.7-2.8l3.4-2l4.3-2l4.6-1.6l6.1-1.7l12-2.1l16-1.6z"/>
<path fill="#40ff10" d="M420.7 1034.2h131.2l28 0.5l20 0.9l18 1.9l8 1.5l6.1 1.5l5 1.7l5 2.2l4 2.4l4.3 3.4l3.7 4l2.6 4l2.1 4.1l2.3 6l1.7 6l1.2 6l2.1 16l1.2 18l0.6 22l1 118.2l0.9 40l0.8 14.1l1.1 12l1.7 10l2 6l1.2 2l1.9 2l1.6 1.2l4 1.7l4 1.1l6.1 1l14 1.3l16.1 0.6l22.1 0.2l138.5 0.1v144.5h-795.8v-144.5h132.4l38.1-0.6l16-0.9l10.1-1.3l4-0.9l4-1.3l2-1l2-1.5l1.5-1.7l1.2-2l2-6l1.7-10l1.1-12l0.9-18.1l0.6-22l1-120.1l0.8-34.1l1-16l1.6-14l2.4-12l2.6-8l1.9-4.1l2.3-4l3.1-4l2.3-2.3l4-3.1l4-2.4l5-2.2l5.1-1.7l12-2.7l16-1.9l20-1.1z"/>
<path fill="#56ff16" d="M384.5 1038.2l31.2-1l60.1-0.3l78.1 0.2l20 0.4l16 0.6l20 1.9l8 1.3l8 1.8l6.1 2l6 2.6l4.1 2.5l3.9 3l3 3l3 4l2.4 4.1l2.7 6l1.9 6l1.4 6l1.4 8l1.2 10l1.2 16l0.7 22l1.2 114.2l1.1 40l0.9 16.1l1.4 12l2 10l2.2 6l2.3 3.6l2 2l2 1.4l4 1.9l4 1.2l6.1 1.2l14 1.5l16.1 0.7l22.1 0.3l138.5 0.1v141.8h-795.8v-141.8l138.4-0.1l22.1-0.3l16-0.6l14.1-1.3l10-2.1l6-2.5l2-1.4l3.2-3.6l1.1-2l1.6-4l1.9-8l1.5-10l1.1-14l1.3-38.1l1.2-110.1l0.7-30.1l0.9-16l1.1-12l1.6-10l1.8-8l3-8.7l4-7.5l3-3.9l3-3l3.9-3l3.2-2l4.1-2l4.9-1.8l10-2.7l12-2z"/>
<path fill="#64ff1a" d="M393.9 1038.2l39.8-0.8h94.1l38.1 0.3l26 1.1l10 0.8l10 1.2l7.8 1.4l6.2 1.6l6.1 2l5.3 2.4l4.7 2.9l3.9 3.1l3.7 4l2.8 4.1l2.2 4l2.5 6l1.8 6l1.3 6l2.3 16l1.2 16l0.7 22l1.3 114.2l1.1 40l1 16.1l1.4 12l2 10l2.2 6l2.6 4l2 1.9l2 1.4l4 1.9l4 1.2l6.1 1.2l14 1.6l16.1 0.7l24.1 0.3l136.5 0.1v141.4h-795.8v-141.4l138.4-0.1l22.1-0.3l16-0.6l14.1-1.3l10-2.2l6-2.5l2-1.4l2-1.9l1.5-2l1.1-2l1.6-4l1.9-8l1.5-10l1.2-14l1.3-38.1l1.2-110.1l0.7-30.1l1-16l1.2-12l1.8-11.3l2.3-8.7l1.7-4.9l2-4.4l4.4-6.8l3.6-3.9l2.4-2.1l3.6-2.5l4-2.2l4.1-1.7l6-2l12-2.7l14-1.7z"/>
<path fill="#73ff1e" d="M406.7 1038.2l41.1-0.4l94.1 0.1l30 0.4l22 1l18 2l8 1.5l6 1.6l6.1 2.1l6 2.8l4.4 2.9l3.6 3l2.7 3l3.3 4.6l2 3.6l2.4 5.9l1.9 6l1.7 7.4l2.2 16.6l1.1 16l0.7 20l1.3 114.2l1.1 40l1.1 16.1l1.4 12l2.1 10l2.1 6l2.6 4l2.3 2.2l2 1.4l4 1.9l4 1.2l6.1 1.3l14 1.5l16.1 0.8l24.1 0.3l136.5 0.1v141h-795.8v-141l138.4-0.1l22.1-0.3l16-0.6l14.1-1.4l10-2.2l6-2.5l2-1.4l2-1.9l1.7-2.3l1.2-2l1.5-4l2-8l1.5-10l1.1-12l0.8-16.1l0.7-24l1.2-110.1l0.9-32.1l1-16l1.3-12l1.8-10l2.9-10l2.4-5.9l2-3.6l2-3l3-3.6l3-2.8l4-2.9l4-2.2l4.6-2.1l5.5-1.8l6-1.6l12-2.1l16-1.5z"/>
<path fill="#81ff22" d="M431.3 1038.2l118.6 0.1l26 0.5l20 1.1l10 1l8 1.2l8 1.7l6 1.7l6.1 2.4l4 2.1l4 2.6l4 3.5l3.6 4.1l2.6 4.1l2 4l2.4 6l1.7 6l1.3 6l2.2 16l1.2 16l0.7 22.1l1.3 112.1l1.1 40l1.1 16.1l1.4 12l2.1 10l2.2 6l2.6 4l1.9 2l2.6 1.8l4 1.9l4 1.3l6.1 1.2l14 1.6l16.1 0.8l22.1 0.3l138.5 0.1v140.7h-795.8v-140.7h132.4l38.1-0.7l14-1l12.1-1.8l4-1.1l4-1.5l4.6-2.9l1.9-2l2.6-4l2.2-6l2.1-10l1.6-14l1.1-18.1l0.6-22l1.4-116.1l1-34.1l1.3-16l1.6-12.1l2.2-9.9l1.8-5.8l1.8-4.2l2-4l2.6-4.1l3.6-4.1l4-3.5l4-2.6l4-2.1l4.1-1.7l6-1.9l6-1.4l8-1.4l16-1.8l20-1z"/>
<path fill="#90ff26" d="M380.4 1040.2l27.3-1.3l40.1-0.4l98.1 0.1l22 0.3l18 0.7l20 1.7l8 1.2l8 1.8l6.5 1.9l5.6 2.3l6 3.4l4 3.1l3.2 3.2l3.1 4.1l2.3 4l2.7 6l2 6l1.9 8l2.2 16l1.2 16l0.7 22.1l1.4 112.1l1.1 40l1.1 16.1l1.4 12l2.2 10l2.2 6l2.5 4l2 2l2.8 2.1l4 1.8l4 1.3l6.1 1.3l14 1.6l16.1 0.8l22.1 0.4l138.5 0.1v140.3h-795.8v-140.3l138.4-0.1l22.1-0.3l16-0.7l14.1-1.4l10-2.3l4-1.5l4-2.4l2-1.8l2.2-2.9l2.7-6l2-8l1.8-12l1.2-14l1.3-38.1l1.2-104.1l0.7-30.1l0.7-14l1-12l1.3-10l2.1-10l3.3-10l1.9-4l2.3-4l5-6.1l5.3-4.3l4-2.4l4.1-1.9l10-3.3l12-2.4z"/>
<path fill="#9fff2b" d="M385.7 1040.2l30-1.1l56.1-0.3l80.1 0.2l20 0.4l16 0.7l20 1.9l8 1.4l8 1.9l6 2.1l6.1 2.7l4 2.5l4 3.2l4 4.3l2.9 4.2l2.1 4l2.5 6l1.8 6l1.4 6l2.3 16l1.2 16l0.7 20l1.5 116.2l1.2 40l1.2 16.1l1.6 12l2.5 10l2.7 6l2.4 3.2l2 1.8l4 2.4l4 1.5l10.1 2.2l14 1.5l16.1 0.7l22.1 0.3l136.5 0.1v140h-795.8v-140l138.4-0.1l22.1-0.3l16-0.7l14.1-1.5l10-2.2l4-1.5l4-2.4l2-1.8l2.4-3.2l2.7-6l2.1-8l1.8-12l1.2-14l1.3-38.1l1.3-106.1l0.7-30.1l0.8-14l1.1-12l1.5-10l2.3-10l2-6l1.8-4l2.1-4l2.8-4.1l2.1-2.4l3.9-3.6l6-4l8.2-3.6l10-2.8l12-2.1z"/>
<path fill="#aeff2f" d="M392.1 1040.2l37.6-0.9l84.1-0.1l46.1 0.3l28 1l18.5 1.7l7.5 1.2l8 1.9l6 1.8l6.1 2.6l4.4 2.5l5.2 4l3.7 4l2.9 4.1l2.2 4l2.6 6l1.8 6l1.5 6l2.3 16l1.2 16l0.8 20l1.5 116.2l1.2 40l1.2 16.1l1.7 12l2.4 10l2.7 6l2.7 3.4l2 1.8l4 2.4l4 1.6l10.1 2.2l14 1.5l16.1 0.7l22.1 0.3l136.5 0.1v139.7h-795.8v-139.7l138.4-0.1l22.1-0.3l16-0.7l14.1-1.5l10-2.2l4-1.6l4-2.4l2-1.8l2.7-3.4l2.7-6l2.1-8l1.8-12l1.2-14l0.8-16.1l0.5-22l1.3-106.1l0.8-30.1l0.9-16l1.2-11.5l1.7-10.5l2-8l2.1-6l1.8-4l2.2-4l2.2-3.3l2.4-2.8l3.6-3.4l3.6-2.6l3.4-2l4.3-2l4.8-1.7l6-1.8l6-1.3l14-1.9z"/>
<path fill="#bdff33" d="M400.5 1040.2l39.3-0.6h92l34.1 0.4l24 1l10 0.9l10 1.3l8 1.5l6 1.6l6 2.2l6.1 2.9l4.3 2.8l3.7 3.2l2.6 2.8l3.4 4.7l2 3.6l2.4 5.8l1.9 6l1.5 6l2.4 16l1.3 16l0.7 20l1.5 116.2l1.3 40l1.2 16.1l1.7 12l2.5 10l2.7 6l2.9 3.7l2 1.8l2 1.3l4 1.9l4 1.3l6.1 1.4l8 1.1l8 0.7l16.1 0.7l22.1 0.4h136.5v139.4h-795.8v-139.4h136.4l22.1-0.3l16-0.7l16.1-1.6l10-2.3l4-1.5l4-2.4l2-1.8l2-2.4l2.9-5.3l2.4-8l2-12l1.3-14l0.9-16.1l0.6-22l1.4-110.1l0.8-30.1l0.9-14l1.3-12l1.7-10l2.7-10l2.3-6l2.1-4l2.5-4l2.2-2.8l3.3-3.3l2.7-2.2l4-2.6l4.1-2.1l4-1.6l6-1.9l12-2.6l16-1.9z"/>
<path fill="#ccff37" d="M416.3 1040.2l43.5-0.3l84.1 0.1l28 0.5l20 1.1l18 2.1l8 1.6l6 1.6l6 2.2l6.1 3l4 2.7l3.9 3.4l3.4 4.1l2.7 4l2.1 4l2.4 6l1.8 6l1.4 6l2.3 16l1.1 16l0.8 20.1l1.4 114.1l1.3 40l1.3 16.1l1.7 12l2.6 10l2.6 6l3.1 4l2.1 1.8l2 1.3l4 1.9l4 1.3l6.1 1.4l8 1.2l8 0.7l16.1 0.7l22.1 0.3l136.5 0.1v139h-795.8v-139l136.4-0.1l22.1-0.3l16-0.6l14.1-1.4l6-1l6-1.6l6-2.6l4-3.1l1.8-2l1.4-2l1.9-4l2.5-8l1.8-10l1.4-14l1-16.1l0.7-24l1.4-110.1l0.9-30.1l1-16l1.5-12l1.9-10l3-10l3.8-8.1l2.7-3.9l3.4-4.1l3.9-3.4l4-2.7l4.1-2.1l6-2.4l6-1.8l6-1.4l14-2.1l18-1.4z"/>
<path fill="#dbff3b" d="M381.2 1042.2l26.5-1.4l38.1-0.4h98.1l22 0.4l18 0.7l20 1.8l8 1.2l8 1.8l6.2 1.9l5.9 2.5l6 3.5l4 3.1l2.9 2.9l3.1 4.1l2.4 4l2.8 6l2 6l1.5 6l1.5 8l1.1 8l1.3 16l0.8 20l1.6 116.2l1.3 40l1.3 16.1l1.7 12l1.9 8l1.4 4l2 4l3 4l2.3 2l2.1 1.4l4 1.9l6 1.9l6.1 1.2l14 1.5l16.1 0.8l22.1 0.3l136.5 0.1v138.6h-795.8v-138.6l138.4-0.1l22.1-0.3l16-0.8l14.1-1.5l6-1.2l6-1.9l4-1.9l2.1-1.4l2.3-2l3-4l2-4l1.4-4l1.9-8l1.5-10l1.3-14l0.9-18.1l0.6-22l1.2-102.1l0.7-28.1l0.8-14l1-12l1.4-10l2.1-10l2.6-8l3.9-8l2.8-4l2.5-3l6-5.1l4-2.5l4.1-1.9l10-3.5l12-2.5z"/>
<path fill="#ebff40" d="M388.3 1042.2l31.4-1.1l56.1-0.3l74.1 0.2l20 0.4l16 0.7l10 0.8l10 1.2l8 1.5l6 1.4l6 1.9l6.1 2.6l4.7 2.7l5.1 4l3.7 4.1l2.9 4l2.2 4l2.6 6l1.9 6l1.4 6l1.4 8l1 8l1.3 16l0.7 20.1l1.6 112.1l1.2 40l1.2 16.1l2 14l2.6 10l2.7 6l3 4l2.2 2l2.6 1.8l4 1.9l4 1.3l6.1 1.4l8 1.2l8 0.8l16.1 0.7l22.1 0.4l136.5 0.1v138.1h-795.8v-138.1l136.4-0.1l22.1-0.3l16-0.7l16.1-1.7l10-2.4l4-1.6l4-2.3l2-1.7l2.4-2.8l3.3-6l2.5-8l2.2-12l1.4-14l0.9-18.1l0.7-22l1.3-104.1l0.8-30.1l1-16l1.3-12l1.7-10l2-8l2.9-8l2.1-4l2.5-4l5.2-6.1l3.8-3.1l4-2.5l8.1-3.7l10-2.9l12-2.1z"/>
</g>
<g filter="url(#fc1)">
<path fill="#eafe40" d="M392.2 1044.2l33.5-1.1l66.1-0.2l60.1 0.3l32 1.1l19.3 1.9l14.7 3.1l6 2l6 2.7l4.1 2.4l5 3.8l3.8 4.1l3 4l5 10l3.4 12l2.5 16l1.3 16l0.8 20.1l1.7 110.1l1.4 40l1.3 16.1l1.7 12l2.5 10l3.4 8l2.7 4l2.5 2.5l4 2.8l4 2l6 1.9l6.1 1.3l14 1.7l16.1 0.9l22.1 0.3l136.5 0.2v136.1h-795.8v-136.1l136.4-0.1l38.1-1.1l14.1-1.5l12-2.9l4-1.6l4-2.3l2.6-2.1l3.4-4l3.2-6l3-10l2.1-12l1.4-14l1.6-38.1l1.6-104.1l0.8-30.1l2.3-26l1.8-10l2.1-8l4-10l4.1-6.6l6-6.4l7.6-5.1l8.5-3.6l10-2.8l12-2z"/>
<path fill="#e2f33d" d="M416.9 1046.2l121-0.3l28 0.5l20 1.1l18 2.3l14 3.5l6 2.4l4.9 2.5l8 6.1l3.6 4l2.8 4l4.8 9.8l3.4 12.2l2.3 14l1.4 16l0.8 20.1l1.8 106.1l1.5 40l1.3 16.1l2.2 14l2.6 10l3.3 8l2.6 4l2.8 3.1l4 3.3l4 2.3l6 2.3l6.1 1.6l14 2l16.1 1.1l24.1 0.5l136.5 0.1v133.4h-795.8v-133.4l134.4-0.1l24.1-0.4l16-0.8l14.1-1.7l12-3l8-3.9l4-3.3l2.8-3.1l4.5-8l2.6-8l2.5-12l1.7-14l1.2-18.1l0.8-22l1.7-106.1l1-28.1l1.1-14l1.5-12l2.1-10l2.5-8.2l4-8.6l6-8l4-3.7l4.1-2.9l8-4.1l10-3.2l14-2.7l18-1.8z"/>
<path fill="#dcea3b" d="M398.8 1048.2l34.9-1l72.1-0.1l46.1 0.3l28 1l18 1.9l16 3.5l11.3 4.4l4.7 2.9l4.1 3.2l4 3.9l3 4.1l5 9.3l3.9 12.7l2.4 14l1.4 16l0.9 18.1l2 110.1l1.6 40l1.5 16.1l2.4 14l2.9 10l3.9 8l3.1 4.2l4 3.8l4 2.6l4 2l6 2l6.1 1.4l14 1.9l16.1 1l24.1 0.5l134.5 0.1v132.2h-795.8v-132.2l136.4-0.1l22.1-0.4l16-0.9l14.1-1.7l12-3.1l8-3.9l4-3.1l3.8-4.3l3.5-6l3.6-10l2.5-12l1.9-16l2-40.1l1.7-100.1l0.9-28.1l2.1-24.2l1.7-9.8l2.3-9.1l3.5-8.9l4.9-8l5.6-6.1l8.1-5.5l10-4.3l10-2.7l12-1.9z"/>
<path fill="#d5e23a" d="M457.2 1048.2l92.7 0.3l22 0.7l18 1.4l16 2.6l12 3.5l10 5.1l4.1 3l3.7 3.5l5.9 8l4.4 9.7l2.9 10.3l2.3 14l1.3 14l1 20.1l2 108.1l1.7 40l1.6 16.1l2.4 14l3 10l3.8 8l2.8 4l3.2 3.3l4 3.1l4 2.2l6 2.4l6.1 1.6l16 2.4l16.1 1l24.1 0.5l134.5 0.1v131.1h-795.8v-131.1l130.4-0.1l38.1-0.9l16-1.6l12.1-2.4l8-3l7.3-4.6l5.4-6l2.5-4l2.6-6l3.4-12l2.3-14l1.6-18.1l1.1-24l2.1-110.1l1.2-30.1l1.5-16l2.1-12l2.8-10l3.4-8l2.7-4.6l4-5.1l7.4-6.3l8.7-4.8l12-3.9l14-2.5l18-1.7l22-0.8z"/>
<path fill="#cdd737" d="M408.9 1050.2l36.9-0.7h80l32.1 0.4l22 1.1l18 2.1l14 3.2l6 2.2l6 2.9l8.1 5.8l6.2 7.1l2.5 4l2.9 6l3.7 12l2.5 14l1.5 16l0.9 18.1l2.1 108.1l1.8 40l1.6 16.1l2.5 14l3 10l3.8 8l2.7 4l3.7 4l4.6 3.4l4 2.2l6 2.4l6.1 1.7l16 2.4l16.1 1l24.1 0.5l134.5 0.1v130h-795.8v-130l134.4-0.1l24.1-0.4l16-0.9l16.1-2.2l6-1.5l6-2.1l8.1-4.5l3.9-3.4l3.8-4.6l4.2-8l3.3-10l2.4-12l1.7-14l1.3-18.1l0.8-22l1.9-100.1l0.9-26.1l1-14l1.5-12l1.9-10l2.2-8l4.4-10l4.7-7l6.1-5.8l8.1-5.3l9.9-3.9l12-2.9l14-1.9z"/>
<path fill="#cfd336" d="M403.1 1054.2l30.6-1l62.1-0.2l50.1 0.3l28 1l18.2 1.9l15.8 3.5l11.1 4.6l4.9 3l4 3.1l3.9 3.9l3.1 4l5.1 9.5l3.4 10.5l2.7 14l1.4 14l1.1 18.1l2.3 108.1l2 40l1.8 16.1l2.6 14l3.9 12l4.1 8l2.8 4l3.9 4.1l4 3.1l6 3.5l6 2.3l6.1 1.7l16 2.6l16.1 1.1l24.1 0.6l134.5 0.1v126.6h-795.8v-126.6l134.4-0.1l24.1-0.5l16-1l16.1-2.3l12-3.7l6-3l4-2.7l4-3.7l3.4-4.1l4.5-8l3.7-10l3.1-14l2-16.1l2.2-40l2.1-96.1l0.9-26.1l2.3-24l1.8-9.6l2-7.4l3.6-9l5-8l5.6-6l7.9-5.5l10-4.4l10-2.7l12-2z"/>
<path fill="#d2ca34" d="M429.7 1054.2l106.1-0.1l26.1 0.6l18 1.1l17.3 2.4l12.7 3.5l10 4.6l8.1 6l6 7l4.8 9l3.9 12l2.6 14l1.4 14l1 18.1l2.3 106.1l2.1 40l1.8 16.1l2.7 14l3.8 12l4.1 8l3.5 4.9l4 4.1l4 3.1l6 3.4l6 2.3l6.1 1.8l16 2.6l16.1 1.1l24.1 0.6l134.5 0.1v125.7h-795.8v-125.7l134.4-0.1l24.1-0.5l16-1l16.1-2.4l12-3.6l6-3l4-2.7l6.7-6.7l5.1-8l4-10l3-12l2.4-16l1.5-18.1l1-22l2.3-102.1l1-26.1l1.2-14l1.8-12l2.4-10l2.8-8l4.8-9l6.1-7.1l8-5.9l10-4.6l12-3.3l13.9-2.2l16.1-1.2z"/>
<path fill="#d6c133" d="M400.2 1056.2l27.5-1.2l50.1-0.3l64.1 0.2l32 1.2l18 2.1l14 3.1l6 2.1l6 2.9l8.5 6l3.5 3.5l3.5 4.5l4.6 8.5l3.8 11.5l2.6 14l1.5 14l1 18.1l2.4 106.1l2.1 40l1.8 16.1l2.7 14l3.1 10l4.8 10l2.8 4l3.5 4l3.9 3.4l6 3.8l6 2.6l6 1.9l16.1 2.9l16.1 1.3l24.1 0.6l136.5 0.2v125h-795.8v-125l136.4-0.1l24.1-0.6l16-1.1l16.1-2.7l6-1.7l6-2.4l6-3.3l3.7-2.8l4.1-4l3.1-4l4.4-8l4.2-12l3-14l1.7-14.1l1.4-18l0.9-22l2.1-94.1l1-26.1l2.3-24l3.4-16l3.9-10l4.9-8l5.5-6l6.5-4.8l8-4.1l10-3.2l12-2.4z"/>
<path fill="#d9b931" d="M411.1 1056.2l34.7-0.7l72-0.1l34.1 0.4l22 1l18 2.1l14 3.3l10.1 4.1l5.9 3.5l4 3.3l6.4 7.2l2.5 4l2.9 6l3.3 10l2.7 14l1.5 14l1 18.1l2.5 106.1l2.1 40l1.9 16.1l2.7 14l3.9 12l4 8l2.7 4l4 4.5l4 3.5l6 3.7l6 2.7l6 1.9l16.1 2.9l16.1 1.3l24.1 0.7l136.5 0.1v124.4h-795.8v-124.4l134.4-0.1l24.1-0.5l16-1.1l16.1-2.3l12-3.7l6-3l4-2.6l4-3.5l4-4.5l4.9-8l4.6-12l2.8-12l2.3-16l1.5-18.1l1-22l2.2-98.1l1-24.1l2.3-24l1.9-10l2.3-8l4.4-10l4.9-7.1l6-5.8l8-5.2l9.7-3.9l10.3-2.7l14-2.1z"/>
<path fill="#ddb02f" d="M430.8 1056.2l105-0.1l24.1 0.6l18 1.1l17.6 2.4l12.4 3.4l10 4.6l8.1 6.1l6 7l4.8 9l3.9 12l2.6 14l1.4 14l1 18.1l2.5 104.1l2.1 40l1.9 16.1l2.7 14l3.9 12l3.9 8l3.3 4.7l4 4.5l4 3.3l6 3.8l6 2.6l6 1.9l16.1 3l16.1 1.3l24.1 0.6l136.5 0.2v123.8h-795.8v-123.8l134.4-0.1l24.1-0.6l16-1l16.1-2.4l12-3.7l6-2.9l4-2.7l4-3.3l4-4.5l5.4-8.7l4-10l3.1-12l2.4-16l1.6-18.1l1.1-22l2.4-102.1l1.1-26.1l1.1-12l1.8-12l2.3-10l2.9-8l4.9-9l5.9-7l8-6l8.4-4l11.7-3.5l14-2.4l16-1.3z"/>
<path fill="#e0a82e" d="M399.8 1058.2l25.9-1.2l44.1-0.4l68.1 0.1l34 1.2l18 2l14 3.2l6 2.1l6 2.8l4 2.4l4.9 3.9l3.8 4l3.1 4l4.3 8l4 11.8l2.6 14.2l1.5 14l1 18.1l2.4 102.1l2.1 40l2 18.1l2.8 14l3.1 10l4.7 10l3.8 5.4l4 4.4l4 3.3l6 3.7l6 2.6l6 1.9l16.1 3l16.1 1.3l24.1 0.7l136.5 0.2v123.2h-795.8v-123.2l134.4-0.2l24.1-0.5l16-1.1l16.1-2.4l8-2.2l6-2.3l6-3.3l4-2.9l3.8-3.6l3.3-4l5.8-10l3.6-10l2.9-12l2.3-16l1.5-18.1l1.1-24l3.1-118.2l2.3-24l3.4-16l2.9-8.1l4.3-7.9l5.8-6.9l6.2-5.1l7.8-4.3l10-3.5l12-2.6z"/>
<path fill="#e4a02c" d="M408.6 1058.2l33.2-0.9l66-0.1l40.1 0.3l24 1.1l18 2l14 3.2l10.8 4.5l5.2 3.1l4 3.2l3.7 3.7l3.1 4l5.3 9.8l3.3 10.2l2.7 14l1.5 14l0.9 16.1l2.6 106.1l2.2 40l2.2 18.1l3 14l4.2 12l4.3 8l3.1 4.1l4 4.3l4 3.3l6 3.6l6 2.6l8.1 2.5l16 2.7l16.1 1.2l24.1 0.6l134.5 0.1v122.7h-795.8v-122.7l136.4-0.1l24.1-0.6l16-1.2l16.1-2.7l12-4.1l6-3.2l4-3l4-3.7l3.7-4.4l5.7-10l3.6-10l3.2-14l2.2-16.1l1.3-16l1.1-24l2.3-94.1l0.9-24.6l2.3-23.5l1.9-10l2.3-8l4.4-10l5.2-7.6l6-5.8l7.2-4.6l8.8-3.8l10-2.7l12-2.1z"/>
<path fill="#e7972a" d="M423.2 1058.2l36.6-0.4l70 0.1l26.1 0.5l20 1.1l16 2.2l12 2.9l6 2.2l6 3l8 5.9l6 7l5.3 9.6l3.3 10l2.8 14l1.5 14l1.1 18.1l2.6 104.1l2.2 40l1.9 16.1l2.8 14l3.9 12l5.1 10l3.6 4.8l4 4.2l4 3.3l6 3.6l6 2.6l6 1.9l16.1 3l16.1 1.3l24.1 0.7l136.5 0.2v122.1h-795.8v-122.1l134.4-0.1l24.1-0.6l16-1.1l16.1-2.4l12-3.7l6-2.9l4-2.5l4-3.3l4.7-5l2.9-4l3.4-6l3.9-10l3.5-14l2.3-16l1.5-18.1l1.1-22l2.4-98.1l1.1-24.1l1.1-14l1.4-10l2.2-10l2.5-8.1l4.1-8.4l6-8.1l6.2-5.4l9.8-5.5l10-3.4l14-2.7l14-1.5z"/>
<path fill="#eb8f29" d="M400.1 1060.2l23.6-1.2l40.1-0.5l72 0.1l34.1 1.2l18 2l14 3.1l6 2.1l6 2.8l4.1 2.5l5.1 4l3.8 4l3 4l4.3 8l3.8 11.1l2.5 12.9l1.6 14l1 18.1l2.6 102.1l1 24l1.3 18l2 16.1l2.8 14l3.9 12l5.1 10l4.2 5.7l4 4l4 3.2l6 3.6l6 2.6l6 1.9l8.1 1.8l10 1.5l16.1 1.2l24.1 0.6l134.5 0.2v121.4h-795.8v-121.4l136.4-0.2l24.1-0.6l16-1.2l16.1-2.8l12-4l6-3.2l4-2.9l4-3.6l4.9-5.8l5.6-10l3.6-10l3.2-14l2.3-16.1l1.4-18l1.1-24l2.3-92.1l1-24.1l2.1-22l3.4-16l3.1-8.6l4.1-7.4l6-7.2l6-4.9l8-4.4l10-3.5l10-2.2z"/>
<path fill="#ee8727" d="M412.7 1060.2l33.1-0.8l70-0.1l34.1 0.5l22 1l16 1.9l14 3.3l10.6 4.3l5.4 3.3l4 3.2l6.6 7.5l5.4 10l3.3 10l2.7 14l1.4 14l1 16.1l2.7 104.1l2.3 40l2.3 18.1l3 14l4.2 12l4.2 8l4.4 6l3.9 4l4.7 3.7l6 3.6l6 2.6l6 1.9l16.1 3l18.1 1.5l22.1 0.6l136.5 0.2v120.6h-795.8v-120.6l134.4-0.2l24.1-0.5l16-1.1l16.1-2.5l8-2.2l6-2.4l6-3.1l4-2.8l4-3.6l4.2-4.7l5.1-8l4.9-12l3.5-14l2.4-16l1.6-18.1l1.2-24l2.3-94.1l1-24.1l2.2-22l2-10l2.2-8l4.4-10l5.1-7.4l6-5.8l7.4-4.8l9.6-4l11-2.8l12-1.9z"/>
<path fill="#ef7f25" d="M407.2 1064.3l28.5-1.2l50.1-0.3l54.1 0.3l28 1.1l18 2.1l14 3.5l10.4 4.5l8.4 6l3.9 4l3 4l4.3 8l3.5 10l2.6 12.1l1.6 13.9l1.1 16.1l3 104.1l1.2 24l1.4 18l2.2 16.1l3.1 14l4.2 12l5.3 10l4.4 6l3.9 4l4.6 3.7l6 3.8l6 2.8l8 2.6l16.1 3.1l18.1 1.5l24.1 0.7l134.5 0.2v117.3h-795.8v-117.3l136.4-0.2l24.1-0.7l16-1.3l16.1-2.8l8-2.4l6-2.5l6-3.4l4.3-3.1l4.3-4l5-6l5.7-10l4.5-12l3.3-14l2.3-16.1l1.6-18l1.2-24l2.5-90.1l1.1-24l2.3-22.1l1.5-8l2.2-8l3.2-8l4.8-8l5.5-6l6.8-5.1l8-4l10-3.2l12-2.3z"/>
<path fill="#f17723" d="M450.6 1064.3l85.2 0.1l22.1 0.6l16 1.2l14 2.1l12 3.2l10 4.6l8.3 6.2l5.7 6.7l5 9.3l3.4 10l2.4 12l1.5 12l1.2 18.1l3 102.1l1.1 22l1.4 18l2.4 18.1l3.2 14l4.1 12l5.4 10.2l4 5.6l4 4.3l6 5l6 3.7l6 2.7l8 2.6l16.1 3.2l18.1 1.5l22.1 0.6l136.5 0.2v116.1h-795.8v-116.1l134.4-0.1l24.1-0.6l16-1.2l16.1-2.5l8-2.2l6-2.3l10-5.6l6-5l3.8-4.1l6.7-10l4.5-10l4-14l2.9-16l1.9-18.1l1.5-24l2.8-98.1l1.4-26.1l1.5-14l1.8-10l2.1-8l3.2-8.2l3.1-5.8l2.9-4l6-6l4-3l5.3-3l10.5-4l12.2-2.8l14-1.7l18-1z"/>
<path fill="#f26e21" d="M415.6 1066.3l32.2-0.9l64-0.1l34.1 0.4l22 1.1l16 2l14 3.4l10 4.4l8.1 5.7l5.9 6.4l5.5 9.6l3.6 10l2.5 12l1.7 14l1.1 16.1l3.1 102.1l1.2 24l1.6 18l2.6 18.1l3.3 14l4.4 12l5.5 9.8l4 5.3l4.7 4.9l5.3 4.2l6 3.6l6 2.7l8 2.7l16.1 3.1l18.1 1.5l24.1 0.7l134.5 0.2v115h-795.8v-115l136.4-0.2l24.1-0.7l16-1.3l16.1-2.8l8-2.4l6-2.5l6-3.3l5-3.6l5-4.6l4-4.7l3.2-4.6l3.3-6l4.8-12l3.6-14l2.5-16l1.7-18.1l1.4-24l2.7-92.1l1.1-24l2.5-22.1l1.7-8l2.4-8l3.6-8l5.5-8l6.1-5.8l6.5-4.2l9.3-4l10.2-2.8l12-1.9z"/>
<path fill="#f3661f" d="M543.9 1066.7l20 0.9l14 1.4l14 2.7l10 3.4l9.5 5.2l6.5 5.7l4.9 6.3l4.1 8l3.4 10l2.4 12l1.5 12l1.1 16.1l3.2 104.1l1.2 22l1.5 18l2.3 16.1l3.7 16l4.5 12l5.4 10l4.5 6l4.4 4.4l6 4.8l6 3.6l6 2.6l8 2.7l16.1 3.1l18.1 1.5l24.1 0.7l134.5 0.2v114.1h-795.8v-114.1l130.4-0.1l22.1-0.4l16-0.9l16-1.9l14.1-3.4l10-4.1l6-3.6l4-3l4-3.7l4-4.6l4.2-5.9l3.2-6l5.4-14l4-18l2.6-20.1l1.6-24l3.2-102.1l1.6-28.1l1.8-14l2.1-10l2.6-8l3.7-8l6.1-8.3l3.9-3.7l4.1-3l10-5.1l12-3.5l14-2.2l18-1.4l22.1-0.6z"/>
<path fill="#f55e1e" d="M415.9 1068.3l29.9-0.9l62-0.2l36.1 0.4l22 1.1l16 1.9l14 3.4l10 4.3l8.5 6l3.5 3.6l3.4 4.4l4.4 8l3.4 10l2.6 12l1.4 12l1.2 16.1l3.2 102.1l1.3 24l1.6 18l2.6 18.1l3.4 14l4.4 12l5.4 10l3.8 5.2l4.4 4.8l5.6 4.7l6 3.9l6 2.9l8 2.9l8.1 2l10 1.6l18.1 1.6l24.1 0.7l134.5 0.2v113.2h-795.8v-113.2l134.4-0.1l24.1-0.7l18-1.4l16.1-2.8l8-2.4l6-2.5l6-3.2l6-4.2l4-3.6l5-5.6l6.3-10l5-12l4.3-16l2.5-16l1.8-18.1l1.4-24l2.7-90.1l1.2-24l2.5-22.1l1.6-8l2.4-8l3.6-8l5.4-8l6.3-6l6.1-4l8-3.6l10-2.9l12-2.1z"/>
<path fill="#f6551c" d="M446.6 1068.3h87.2l22.1 0.7l16 1.2l14 2.2l12 3.5l9.1 4.4l7.8 6l3.6 4l2.8 4l4.1 8l3.3 10l2.4 12l1.4 12l1.1 16.1l3.2 100.1l1.3 24l1.6 18l2.7 18.1l3.3 14l4.4 12l6 10.9l4 5.4l5.4 5.6l4.6 3.8l6 3.8l6 2.9l8 2.8l8.1 2l10 1.7l18.1 1.6l24.1 0.7l134.5 0.2v112.3h-795.8v-112.3l134.4-0.2l22.1-0.5l18-1.3l10-1.4l8.1-1.7l6-1.7l8-3.1l10-5.8l6-5.1l4-4.3l3.3-4.3l3.7-6l5.4-12l4.1-14l2.9-16l2-18.1l1.6-24l3-96.1l1.3-24l1.2-12.1l1.6-10l2.5-10l3-8l4.5-8l3.2-4l4.1-4l6.7-4.7l10-4.4l12-3.2l14-2l18-1.2z"/>
<path fill="#f74d1a" d="M413.9 1070.3l27.9-1.1l54-0.2l42.1 0.3l26 1.1l16 1.9l14 3.3l10.8 4.7l8.3 6l3.9 4l2.9 4l4.1 7.6l3.6 10.4l2.4 11.9l1.5 12.1l1.2 16.1l3.2 100.1l1.3 24l1.7 18l2.7 18.1l3.3 14l4.4 12l2.9 6l3.7 6l4.2 5.4l4.3 4.5l5.7 4.7l6 3.8l6 2.8l8 2.8l8.1 2l10 1.7l18.1 1.6l24.1 0.7l134.5 0.2v111.5h-795.8v-111.5l134.4-0.2l24.1-0.6l18-1.4l10-1.6l8.1-1.8l8-2.6l6-2.6l6-3.4l5.4-4.1l4.6-4.3l4-4.6l3.5-5l3.4-6l5-12l3.8-14l3.1-18l1.8-18.1l1.3-22l4-114.1l2.2-20.2l1.9-9.9l2.1-7.2l3.7-8.8l4.3-6.7l6-6.3l7.2-5l8.8-4l8-2.4l12-2.2z"/>
<path fill="#f94518" d="M435.4 1070.3l92.4-0.2l22.1 0.5l18 1.1l14 2l12 3.1l10 4.4l8 5.7l6 6.7l5 8.7l3.5 10l2.6 12l1.5 12l1.1 16.1l3.4 100.1l1.3 24l1.7 18l2.7 18.1l4 16l4.6 12l5.6 10l4.6 6l4.5 4.7l6 4.8l6 3.7l6 2.9l8 2.8l8.1 2l10 1.6l18.1 1.6l24.1 0.8l134.5 0.2v110.6h-795.8v-110.6l134.4-0.2l24.1-0.7l18-1.4l10-1.5l8.1-1.9l8-2.5l6-2.6l6-3.4l4.2-3l4.6-4l5.2-5.7l6.7-10.2l5.3-12l4.5-16l2.8-16l1.9-18.1l1.6-24l3-94.1l1.2-22l1.2-12.1l1.5-10l1.9-8l2.7-8l4-8l6.3-8l7.5-6l8-4.1l12-3.7l12-2.1l14-1.3z"/>
<path fill="#fa3c16" d="M412.3 1072.3l27.5-1.2l48-0.3l48.1 0.3l27.4 1.2l16.3 2l12.3 2.9l6 2.3l5.7 2.8l8.1 6l6.2 7.4l4 7.2l3.4 9.4l2.7 12l1.5 12l1.2 16.1l3.5 102.1l1.3 22l1.6 18l2.4 16.1l3.8 16l5.2 14l5.5 10l4 5.3l4.2 4.6l5.8 5.1l6 4l6 3.1l8 3l8.1 2.2l10 1.8l18.1 1.8l24.1 0.8l136.5 0.2v109.8h-795.8v-109.8l136.4-0.2l24.1-0.7l16-1.4l10-1.5l8.1-1.8l8-2.6l6-2.6l6-3.3l6-4.4l4-3.6l5.1-5.8l6.4-10l2.9-6l3.1-8l3.8-14l3.1-18l1.8-18.1l1.4-22l3.1-92.1l1.1-22l2.3-20.2l2-9.6l1.8-6.3l3.4-8l4.8-7.4l6-6.2l6-4.2l8-3.9l8-2.5l10-2.1z"/>
<path fill="#fb3414" d="M430.8 1072.3l33-0.5l58 0.1l24.1 0.4l18 1l16 2.1l12 3l10 4.3l8 5.6l6 6.7l4.4 7.3l3.9 10l2.7 12l1.6 12l1.2 16.1l3.6 102.1l1.5 24l1.7 18l2.9 18.1l3.6 14l4.6 12l6.4 11.3l5.2 6.7l4.8 4.8l6 4.6l6 3.7l6 2.7l8 2.8l8.1 2l10 1.7l18.1 1.6l24.1 0.7l134.5 0.2v108.9h-795.8v-108.9l134.4-0.2l24.1-0.6l18-1.5l10-1.5l8.1-1.9l8-2.5l6-2.6l6-3.2l6-4.3l8.5-8.5l6.8-10l3.1-6l3.2-8l4.1-14l3.3-18l1.9-18.1l1.6-24l3.1-92.1l1.2-22l1.1-12.1l1.6-10l1.8-8l2.6-8l4.2-8.4l5.9-7.6l6.1-5.1l8-4.5l10-3.5l12-2.5l14-1.5z"/>
<path fill="#fd2c12" d="M412.9 1074.3l26.9-1.2l44-0.3l50 0.2l28.1 1.2l16.6 2.1l13.4 3.4l10 4.5l8 5.9l5.4 6.2l4.6 8.1l3.6 9.9l2.6 12l1.6 12l1.1 16.1l3.6 100.1l1.3 22l1.7 18l3.1 20.1l3.7 14l4.5 12l6.7 12l4.7 6l5.9 5.9l6 4.6l6 3.5l6 2.8l8 2.7l8.1 2l10 1.7l18.1 1.6l24.1 0.8l134.5 0.2v107.9h-795.8v-107.9l134.4-0.2l24.1-0.7l18-1.5l10-1.5l8.1-1.8l8-2.6l6-2.5l6-3.2l6-4.2l6-5.6l4-4.6l3.9-5.4l3.5-6l5.1-12l4.1-14l3.2-18l2-18.1l1.6-24l4.3-112.1l2.4-21.2l1.8-8.9l1.8-6l3.4-8l5-7.8l6-6.2l5.8-4l8.2-3.9l8-2.5l10-2.1z"/>
<path fill="#fe2410" d="M437.2 1074.3l86.6-0.3l22.1 0.5l18 1.1l14 1.9l12 2.9l10 4.3l8 5.6l6 6.6l4.4 7.4l3.8 10l2.7 12l1.6 12l1.3 16.1l3.6 100.1l1.5 24l1.8 18l2.5 16.1l4 16l5.5 14l5.7 10l4.5 6l5.2 5.4l6 4.9l6 3.8l8 3.8l8 2.7l8.1 2l10 1.6l18.1 1.7l24.1 0.7l134.5 0.3v106.8h-795.8v-106.8l132.4-0.2l24.1-0.6l18-1.4l18.1-3l8-2.4l6-2.3l6-2.9l6-3.8l6-4.9l5.2-5.4l4.5-6l3.7-6l5.4-12l4.3-14l3.5-18l2.3-20.1l1.6-24l3.3-92.1l1.2-22l1.3-12.1l1.6-10l2-8l2.2-6.3l4-8.1l5.9-7.6l7.5-6l7.7-4l10.9-3.6l12-2.2l14-1.4z"/>
<path fill="#ff1e0f" d="M423.2 1076.3l30.6-0.8l58-0.1l30.1 0.4l20 1.1l16 2.2l12 3.1l10 4.6l7.4 5.5l3.8 4l2.8 3.9l4 7.5l3 8.6l2.7 12l1.5 12.1l1.1 14l3.6 98.1l1.5 24l2 20l2.9 18.1l4.3 16l4.7 12l7 12l4.7 5.9l5.1 5.2l6 4.7l6 3.7l6 2.9l8 3l8.1 2.1l10 1.8l18.1 1.8l24.1 0.9l136.5 0.2v105.5h-795.8v-105.5l134.4-0.2l24.1-0.7l18-1.5l10-1.5l8.1-1.8l6-1.8l8-3.1l6-3.2l6-4l6-5.2l4.8-5.2l4.4-6l3.6-6l5.3-12l4.8-16l3.3-18l2.2-20.1l1.5-22l4.3-110.1l2.2-20.1l1.7-8.2l2.2-7.8l3.8-8.7l4.8-7.3l6.2-6l7-4.6l8-3.5l10-2.7l12-1.9z"/>
</g>
<g filter="url(#fc2)">
<path fill="#fe1e0f" d="M421.6 1078.3l28.2-0.9l56-0.2l32.1 0.4l22 1.1l16 2.1l12 3.1l10 4.5l8 5.9l6 7.2l4 7.3l3.4 9.5l2.6 12l2.5 26.1l3.8 98.1l3.1 40l3.3 20.1l4.2 16l4.7 12l6.8 12l9.7 11.4l12 8.9l16 6.8l18.1 3.9l18.1 1.9l24.1 0.8l136.5 0.3v103.7h-795.8v-103.7l136.4-0.3l24.1-0.7l18-1.7l18.1-3.6l14-5.3l12-7.6l10.8-10.8l6.6-10l6.4-14l4.7-16l3.4-18l3.7-42.1l4.5-110.1l2.4-20.1l3.6-14.4l4-9.1l4-6.1l6-6.2l6.1-4.2l7.9-3.7l10-3l12-2z"/>
<path fill="#f91e0f" d="M439.8 1084.3l80-0.3l38.1 1.6l14 2l10.4 2.7l9.6 4.2l7.8 5.8l6.2 7.4l4 7.6l3.6 11l2.4 13l2.2 25.1l4.5 102.1l2.2 24l2.6 18.1l3.6 16l4.6 14l5.6 12l6.3 9.9l11.1 12l13.4 9.2l16 6.3l18.1 3.9l18.1 1.8l26.1 0.9l134.5 0.3v97.4h-795.8v-97.4l134.4-0.3l26.1-0.8l18-1.7l18.1-3.5l16-5.9l12-7.4l11.3-10.8l8.4-11.9l6.7-14l5.1-16l3.8-18l2.4-18.1l1.9-24l5.3-112.1l2.7-20.1l4.1-14l4-8l4.6-6l7-6l7.2-4l9.6-3.4l12-2.4z"/>
<path fill="#f51e10" d="M430.5 1088.3l77.3-0.9l46.1 1.5l14 1.9l12 3.1l9.6 4.4l6.4 4.7l6 6.8l4.6 8.5l3.4 10.2l2.6 13.9l2.1 24l4.7 100.1l2.2 24l3.1 20.1l3.8 16l4.7 14l5.7 12l6.4 9.9l10.9 12l13.9 9.8l16 6.5l20.1 4.4l20.1 1.9l24.1 0.9l134.5 0.2v94.1h-795.8v-94.1l136.4-0.2l24.1-0.9l18-1.6l20.1-4.1l16-6.1l12-7.5l11.7-11.3l8.4-11.9l6.8-14l5.8-18l3.8-18l2.6-20.1l2-24l5.1-106.1l2.2-18.1l3.7-14.4l3.3-7.6l4.7-7.1l6-5.9l6-3.9l8-3.5l10-2.7z"/>
<path fill="#f11e10" d="M420.8 1092.3l21-1.3l30-0.5l50 0.2l26.1 1l16 1.8l11.7 2.8l9.6 4l6.7 4.5l6 6.2l5.4 9.3l3.5 10l2.4 12.1l2.4 26l4.9 100.1l2.4 24l3.3 20.1l3.9 16l4.9 14l5.8 12l6.4 9.9l10.9 12l13.9 9.9l16 6.8l20.1 4.6l18.1 2l26.1 1.1l136.5 0.2v91.2h-795.8v-91.2l136.4-0.2l26.1-1l18-1.8l20.1-4.3l16-6.3l12-7.7l12-11.8l9.2-13.4l6.6-14l5.2-16l4.3-20l2.5-18.1l2.1-24l5.4-106.1l2.2-18.1l2.9-12l3.2-8l3.6-6l4.9-5.7l5.4-4.3l6.6-3.6l8-2.9z"/>
<path fill="#ed1e10" d="M432.8 1094.3l71-0.9l46.1 1.4l12 1.5l12 2.9l8 3.3l8.5 5.8l5.5 6.1l4.6 7.9l3.5 10l2.7 14.1l2.1 24l4.8 94.1l2.5 26l3.1 20.1l3.7 16l5.4 16l6.7 14l7 10.4l12 12.8l14 9.6l16 6.6l20.1 4.5l20.1 2.1l24.1 0.9l136.5 0.3v88.5h-795.8v-88.5l134.4-0.2l24.1-0.8l20-1.7l20.1-3.9l16-5.7l14-8.5l13.2-12.5l8.6-11.9l7.1-14l6.2-18l4.5-20l3-22.1l2.1-24l5.5-104.1l2.1-16l3.8-14.5l3.5-7.6l4.5-6.4l5.9-5.6l6.1-3.8l8-3.3l8-2.1z"/>
<path fill="#e81e10" d="M450.8 1096.3l67-0.1l34.1 1.6l12 1.9l9.4 2.6l8.6 4l6 4.3l6 6.8l4 7.1l3.5 9.8l2.5 12.7l2.3 23.4l5 96.1l2.4 24l3.5 22.1l3.9 16l5.6 16l5.8 12l7.7 11.9l11.9 12.8l14 9.9l16 6.8l22.1 5l20.1 2.1l24.1 0.9l136.5 0.3v86h-795.8v-86l134.4-0.2l24.1-0.7l20-1.8l20.1-3.9l16-5.5l14-8.1l12.9-11.6l10.4-14l7.2-13.9l6.5-18l4.3-18l3.3-22.1l2.3-24l6.1-108.1l2.7-18.1l4.4-13.8l4-7.1l6-6.8l6-4.3l8-3.8l8-2.4l10.2-1.8z"/>
<path fill="#e41e10" d="M426.5 1100.3l19.3-1.2l30-0.5l44 0.2l24.1 1l14 1.7l11.8 2.8l8.2 3.4l6.9 4.6l5.7 6l4.8 8l3.5 10l2.5 12.1l2.5 26l5.2 94.1l2.5 24l3.7 22.1l4 16l5.7 16l5.9 12l7.9 11.9l6.9 8l6.4 5.9l14 9.5l8 3.8l10 3.5l20.1 4.3l20.1 2.1l26.1 0.9l134.5 0.3v83.5h-795.8v-83.5l134.4-0.3l26.1-0.8l20-1.9l20.1-4.1l18-6.7l14-9l12-11.5l8.8-12l8.3-15.9l6.3-18l5-22l2.9-20.1l2.2-24l5.8-102.1l2.1-16l2.9-12.1l5.8-12.1l4.9-5.9l5.1-4.2l7-3.8l7-2.5z"/>
<path fill="#e01e11" d="M434 1102.3l53.8-1.2l54.1 1.2l14 1.7l10 2.2l10 4l6.2 4.1l5.9 6l4.8 8l3.6 10l2.5 12.1l2.3 24l5.4 94.1l2.5 24l3.8 22.1l4.6 18l5.9 16l7.1 13.9l7.5 10.8l12 12.5l14 9.8l8 3.9l10 3.6l20.1 4.5l20.1 2.2l26.1 1.1l136.5 0.3v81.1h-795.8v-81.1l136.4-0.3l26.1-1l20-2l20.1-4.3l16-6l14-8.6l13.4-12.5l10.1-14l7.1-13.9l6.5-18l5.2-22l3.1-20.1l2.3-24l6.2-104.1l2.3-16l3.3-12.1l2.6-6l4-6.1l5.8-5.9l6-4l14.2-5.1z"/>
<path fill="#dc1e11" d="M444.7 1104.3l65.1-0.5l36.1 1.6l12 1.8l10 2.8l8 3.9l5.9 4.4l5.1 6l4.3 8l2.8 8.1l2.4 12l2.2 22l5.8 96.1l2.7 24l3.8 22.1l4.8 18l6.1 16l7.3 13.9l8.5 12l12.4 12.4l8 5.8l8 4.6l16 6.3l20.1 4.4l20.1 2.2l26.1 1.1l136.5 0.3v78.7h-795.8v-78.7l136.4-0.3l26.1-1l18-1.7l18.1-3.4l18-6l16-9.2l12.9-11.5l9.5-12l8.9-15.9l7.6-20l5-20l3.3-20.1l2.6-24l6.5-106.1l2.3-16l3.5-12.4l3.7-7.7l4.3-5.8l6-5.3l6-3.5l8-3l10-2.3z"/>
<path fill="#d81e11" d="M471.4 1106.3l54.4 0.4l16.1 1l12 1.6l11.4 3l8.5 4l6.1 4.7l5.8 7.3l5.2 12.1l3.6 18l7.7 114.1l2.8 24l4 22.1l6.3 22l7.8 18l9.9 15.9l11 12.2l12 9.6l14 7.6l18 5.8l20.1 3.6l20.1 1.7l24.1 0.8l132.5 0.2v76.3h-795.8v-76.3l134.4-0.2l24.1-0.8l20-1.7l20.1-3.6l18-5.8l16-9l12.3-10.4l11.5-14l9.1-15.9l6.5-16l6-22l3.9-22.1l3.1-28l6.6-104.1l3-18l4.1-12.1l4-6.7l6-6.3l6-4.1l8-3.4l10-2.5l12-1.6z"/>
<path fill="#d41e11" d="M435.3 1110.3l48.5-1.4l54.1 1.2l14 1.8l9.8 2.4l8.2 3.6l6 4.1l5.9 6.3l4.1 7.3l3.1 8.8l2.4 12l2.3 22l5.8 92.1l3.1 26l4 22.1l4.9 18l7 18l7.5 13.9l8.7 12l13.3 13l8 5.8l8 4.5l16 6.3l22.1 4.9l20.1 2.1l26.1 1.1l136.5 0.3v73.8h-795.8v-73.8l136.4-0.3l26.1-0.9l20-2l20.1-4l18-6.5l16-9.7l13.5-12.6l10.5-14l8.4-15.9l6.7-18l5.6-22l3.6-22.1l2.6-24l6.4-100.1l1.9-14l3.1-12l5.9-12.1l3.9-4.5l6-4.8l6-3.1l8-2.7z"/>
<path fill="#d01e11" d="M447.5 1112.3l64.3-0.5l20 0.7l14.1 1.4l12 2.6l9.4 3.8l6.6 4.6l6 6.8l5.8 12.7l3.6 18l7.8 110.1l3.5 28.1l4.4 22l7.4 24l8.4 17.9l10.7 16l12.5 13l14 10.1l14 6.6l18 5.2l20.1 3.2l18.1 1.5l26.1 0.8l130.5 0.2v71.2h-795.8v-71.2l136.4-0.3l26.1-0.9l20-2l22.1-4.5l16-5.7l16-9.4l13.3-11.8l11.1-14l8.9-15.9l7.8-20l5.7-22l3.7-22.1l2.8-24l6.9-102.1l2.1-14l3.8-13.1l3.6-7l4.4-5.6l5.3-4.4l4.7-2.7l8-3.1l8-1.9z"/>
<path fill="#cc1e12" d="M435.8 1116.3l20-1.3l32-0.4l32 0.4l20.1 1.3l12 2.1l10 3.3l7.9 4.6l6.1 6.2l3.6 5.8l2.6 6.1l4.1 18l1.9 18l6.5 94.1l3.6 28.1l4.6 22l6.8 22l9.2 19.9l11.1 16.5l14.1 14.1l14 9.7l14 6.5l16 4.5l22.1 3.6l20.1 1.6l24.1 0.7l130.5 0.2v68.4h-795.8v-68.4l136.4-0.3l26.1-1l20-1.9l24.1-4.9l16-5.9l16-9.6l14-12.7l10.3-13.1l9-15.9l7.9-20l5.9-22l3.9-22.1l2.8-24l7.2-102.1l2.2-14l2.7-10l2.6-6.1l3.6-5.8l8-7.5l12-5.5z"/>
<path fill="#c81e12" d="M456.2 1118.3l57.6-0.1l29.1 2.1l11 2.5l8 3.3l6.2 4.2l5.8 6.5l3.2 5.6l2.8 7.4l3.4 16.6l8.2 108.1l3.7 28.1l5.1 24l6.9 22l9.3 19.9l10.8 16l12.7 13.3l14 10.3l14 7l16 5l22.1 4l20.1 1.8l26.1 0.9l132.5 0.2v65.3h-795.8v-65.3l136.4-0.3l26.1-0.9l20-2l22.1-4.2l18-6.2l16-9.2l13.7-11.7l11.5-14l9.5-16l8.3-19.9l6.2-22l4.2-22l3.5-28.1l7.3-100.1l2.2-14l3.6-12l4.1-7.6l4-4.8l6-4.7l5.9-3l15.1-4z"/>
<path fill="#c41e12" d="M459.4 1122.3h54.4l28.1 2.3l10 2.6l8 3.6l6 4.5l5.6 7.1l4.9 12l3.2 16l7.9 102.1l3.6 28.1l5.4 26l6.8 22l10.1 21.9l10.7 16l13.9 14.6l14 10.3l16 7.9l16 4.8l22.1 3.9l20.1 1.7l26.1 0.9l132.5 0.3v61.4h-795.8v-61.4l136.4-0.3l26.1-1l22-2.2l22.1-4.3l16-5.4l16-8.8l15-12.4l11.9-14l10.9-18l9-21.9l6.2-22l4.2-22l3.5-28.1l7.5-98.1l2.3-14l3.6-11.3l3.7-6.7l4.3-5.1l4-3.2l6.9-3.8l15.1-4z"/>
</g>
<path d="M109.1 1336.6H295.6M680.0 1336.6H864.7" fill="none" stroke="#5a90f4" stroke-width="2.6"/><path d="M295.6 1022.2H680.0" fill="none" stroke="#4a60f8" stroke-width="2.6"/><path d="M295.6 1336.6V1022.2M680.0 1022.2V1336.6" fill="none" stroke="#5048ff" stroke-width="5.0"/></g>
<path class="ax" d="M109.0 1018.7V1472.3H865.2"/>
<path class="tk" d="M109.0 1024.5H100.9M109.0 1133.2H100.9M109.0 1247.2H100.9M109.0 1364.1H100.9M109.0 1472.3H100.9M109.2 1472.3V1481.1M292.3 1472.3V1481.1M487.2 1472.3V1481.1M681.8 1472.3V1481.1M861.9 1472.3V1481.1"/>
<text class="b" transform="translate(92.7 1036.9) scale(1 1.06)" font-size="34.3" text-anchor="end">2.4</text>
<text class="b" transform="translate(92.7 1145.8) scale(1 1.06)" font-size="34.3" text-anchor="end">1.8</text>
<text class="b" transform="translate(92.7 1260.0) scale(1 1.06)" font-size="34.3" text-anchor="end">1.2</text>
<text class="b" transform="translate(92.7 1377.0) scale(1 1.06)" font-size="34.3" text-anchor="end">0.6</text>
<text class="b" transform="translate(92.7 1483.1) scale(1 1.06)" font-size="34.3" text-anchor="end">0.0</text>
<text class="b" transform="translate(108.9 1510.3) scale(1 1.06)" font-size="34.3" text-anchor="middle">0</text>
<text class="b" transform="translate(292.0 1510.3) scale(1 1.06)" font-size="34.3" text-anchor="middle">1</text>
<text class="b" transform="translate(486.9 1510.3) scale(1 1.06)" font-size="34.3" text-anchor="middle">2</text>
<text class="b" transform="translate(681.5 1510.3) scale(1 1.06)" font-size="34.3" text-anchor="middle">3</text>
<text class="b" transform="translate(862.2 1510.3) scale(1 1.06)" font-size="34.3" text-anchor="middle">4</text>
<text class="b" x="491.7" y="1544.6" font-size="38.5" text-anchor="middle">x(m)</text>
<text class="b" transform="translate(29.6 1232.0) rotate(-90)" font-size="38.8" text-anchor="middle">z(m)</text>
<text x="74.7" y="985.0" font-size="52" text-anchor="middle">(c)</text>
<rect x="133.9" y="1099.5" width="152.3" height="47.4" fill="#595959"/><rect x="127.4" y="1093.1" width="151.2" height="45.7" fill="#f2f2f2"/>
<text class="b" x="202.5" y="1126.1" font-size="34.8" text-anchor="middle">Day 730</text>
<rect x="365.1" y="839.9" width="243.1" height="130.4" fill="url(#gc)"/>
<text class="b" x="480.4" y="830.5" font-size="34.6" text-anchor="middle">Surface soil</text>
<path class="ar" d="M347.0 842.2H362.2M347.0 968.2H362.2M355.7 863.2V882.0M355.7 929.3V947.6"/><path d="M355.7 844.0l7 20.2h-14z M355.7 966.7l7 -20.1h-14z" fill="#000"/>
<text class="b" transform="translate(339.3 904.8) rotate(-90) scale(1 1.04)" font-size="33.6" text-anchor="middle">0.1m</text>
<path class="ar" d="M483.1 1007.7V989.1"/><path d="M483.1 970.5l6.8 19.6h-13.6z" fill="#000"/>
<path class="dash" d="M430.20 1008.40L537.70 1008.40" stroke-dashoffset="-6.35"/><path class="dash" d="M430.20 1038.75L538.70 1038.75" stroke-dashoffset="-0.25"/><path class="dash" d="M430.20 1008.40L430.20 1035.75" stroke-dashoffset="-3.35"/><path class="dash" d="M537.70 1008.40L537.70 1035.75" stroke-dashoffset="-1.75"/>
</g>
<g id="panel-d">
<g clip-path="url(#cd)">
<g filter="url(#fd0)">
<rect x="974.8" y="996.8" width="803.7" height="501.1" fill="#655eff"/>
<path fill="#7270ff" d="M1204.1 1022.8l21.2-1l44.1-0.5l158.4-0.1l86.2 0.3l24 0.5l13.2 0.8l4.9 0.7l4 1.1l2 0.9l1.7 1.3l1.6 2l0.9 2l1.4 6l0.9 10l0.6 16l0.4 56.1l0.4 216.1l32.2 0.3l172.3 0.1v158.6h-795.7v-158.6l174.3-0.1l32.2-0.3l0.5-236.2l0.3-34l0.7-20l0.5-6l1-6l1.6-4l1.3-1.7l2-1.6l2-0.9l4-1.1z"/>
<path fill="#767dff" d="M1221.7 1022.8l31.7-0.8l56.1-0.4h134.3l66.2 0.5l23.6 0.7l14.4 1.2l4.4 0.8l3.7 1l2.2 1l3 2l1.7 2l1.2 2l1.5 4l0.8 4l1.3 12l0.8 16l0.6 54.1l0.7 212.1l0.2 0.2l6 0.2l26.1 0.2l172.3 0.1v158.3h-795.7v-158.3l174.3-0.1l26.1-0.2l6-0.2l0.2-0.2l0.8-236.2l0.7-34l1.3-20l0.9-6l1.1-4l2.1-4l2.9-3l4-2l6-1.4l8.1-1z"/>
<path fill="#718dff" d="M1296.6 1022.8l139.2-0.1l42.1 0.3l30.1 0.7l18.9 1.1l13.1 1.6l6 1.3l4.1 1.4l3.4 1.7l2.8 2l2 2l2.6 4l1.6 4l1.2 4l1.9 12l1.4 20l1.2 50.1l0.7 164.1l0.8 42l0.4 0.5l6 0.5l26.1 0.5l172.3 0.1v157.4h-795.7v-157.4l166.3-0.1l28.1-0.3l12-0.7l0.4-0.5l0.2-4l0.5-26l0.7-158.1l0.7-52.1l0.8-20l1-14l1.3-10l2-8l2.7-6l1.7-2.2l2-2l2.6-1.8l3.4-1.7l8.1-2.3l12-1.7l16-1.1l22.1-0.7z"/>
<path fill="#6d9afe" d="M1263.9 1024.8l45.6-0.9l76.2-0.2l68.1 0.3l42.1 1l22.1 1.3l8 0.9l8 1.3l6 1.4l6 2.2l4.1 2.2l3.1 2.5l2.9 3.3l2 3.3l2 4.6l1.4 4.8l1.3 6l1.2 8l1.6 20l0.8 20.1l0.6 26l1.2 160.1l0.5 28l0.7 14l0.7 0.9l6 0.7l26.1 0.8l172.3 0.3v156.3h-795.7v-156.3l174.3-0.3l26.1-0.8l6-0.7l0.7-0.9l0.7-14l0.5-26l0.9-138.1l0.8-48l0.8-20.1l0.9-14l1.3-12l2-10l2.7-8l2.3-4l1.5-2l1.8-2l3.1-2.5l6.1-3l8.5-2.5l11.5-1.8l14-1.3z"/>
<path fill="#69aafb" d="M1303.9 1024.8l57.7-0.4l68.2 0.2l42.1 0.6l28 1.1l20.1 1.7l8 1.2l7.1 1.6l6.1 2l4.3 2l3.1 2l3.5 3.1l2.4 2.9l2.3 4l1.8 4l1.8 6l1.3 6l1.2 8l1.9 22l1 24.1l0.6 30l1.4 154.1l0.6 22l0.9 12l0.8 1.1l6 0.9l10 0.6l16.1 0.4l44.1 0.3l128.2 0.1v155.6h-795.7v-155.6l166.3-0.3l28.1-0.7l8-0.6l4-0.7l0.8-1.1l0.6-6l0.9-26l1.3-148.1l1.1-50l1.1-20.1l1.4-14l2-12l2.3-8l1.8-4l2.3-4l2.4-2.9l2-1.9l2.1-1.6l4-2.3l4-1.7l6-1.9l12-2.2l18.1-1.8l22-1z"/>
<path fill="#66b4fa" d="M1264.6 1026.8l42.9-1.3l66.1-0.4l70.2 0.4l44.1 1.2l24.1 1.7l10 1.4l8 1.5l6 1.8l6 2.5l4 2.4l3.5 2.8l3.4 4l2.4 4l1.8 4l2 6l1.4 6l1.3 8l2 20l1.2 24.1l0.7 30l1.6 154.1l0.8 22l1 12l1 1.3l6 1.1l10 0.7l16.1 0.5l44.1 0.4h128.2v155h-795.7v-155h130.2l44.1-0.4l16.1-0.5l10-0.7l6-1.1l1-1.3l1.1-14l0.8-26l1.3-134.1l0.9-44l0.9-19.4l1.1-14.7l1.5-12l1.9-10l1.5-5.4l1.8-4.6l3.4-6l2.8-3.5l2.1-1.8l6-3.9l8-3.2l12-2.6l14-1.8z"/>
<path fill="#6bc6fa" d="M1332.2 1026.8l55.5-0.2l50.1 0.4l34.1 0.9l24 1.4l18.1 2.1l7.6 1.4l6.4 1.6l6 2.1l4.8 2.3l5.2 3.5l2.8 2.5l3.3 3.9l2.4 4.1l2.7 6l1.9 6l1.4 6l1.6 9l2 19l1.2 22.1l0.9 30l2.1 148.1l1.1 24l1.3 12l1.4 1.8l6 1.4l10 1l16.1 0.7l44.1 0.4l128.2 0.1v153.6h-795.7v-153.6h122.2l44.1-0.4l16-0.4l12.1-0.7l8-1l4-1.1l1.4-1.8l0.8-6l0.8-10l0.7-16l0.7-38l1.3-108.1l0.7-26l0.9-22l1.6-20.1l1.9-14l2.8-12l3-8l2.1-4l2.8-4l2.6-2.7l4-3.3l4-2.4l4-1.9l6-2.1l6.4-1.6l15.7-2.5l20-1.7l26.1-1.1z"/>
<path fill="#6fd5fa" d="M1280.7 1028.8l42.8-1.2l64.2-0.3l56.1 0.5l38.1 1.4l22 1.9l10.1 1.5l8 1.7l8 2.4l5.1 2.1l4.9 2.8l4.1 3.2l3.7 4l2.7 4l3 6l2.1 6l1.6 6l1.6 8l2.4 20l1.4 22.1l1 30l1.6 114.1l0.7 34l1.2 24l1.5 12l1.5 2l2 0.8l4 0.8l10 1.1l16.1 0.7l44.1 0.5l128.2 0.1v153h-795.7v-153l130.2-0.1l44.1-0.5l16.1-0.7l10-1.1l4-0.8l2-0.8l1.5-2l1-6l0.7-8l1.1-26l2-132.1l1.3-44l1.1-18l1.5-14.1l1.8-12l2.5-10l1.5-4.6l2-4.6l2-3.6l2.3-3.2l3.7-4l2.4-2l3.7-2.4l4-2.1l4-1.6l5.9-1.9l12.1-2.6l16.1-1.9z"/>
<path fill="#73e3fa" d="M1298.4 1028.8l47.2-0.8h64.1l44.1 0.7l32.1 1.6l12 1l10.1 1.3l8 1.5l8 2l6 2.1l5.7 2.6l4.3 2.8l3.8 3.2l3.5 4l2.8 4.3l2.7 5.7l2.1 6l1.6 6l1.6 8l2.4 20.1l1.5 22l1 30l1.7 110.1l0.8 36l1.3 24l0.6 6l1 6l1.7 2.2l2 0.8l4 0.9l10 1.2l16.1 0.8l44.1 0.6l128.2 0.1v152.4h-795.7v-152.4l122.2-0.1l44.1-0.4l16-0.5l12.1-0.9l8-1.2l4-1.3l1.7-2.2l1-6l0.9-10l0.8-16l1-38l1.5-106.1l0.7-24l0.9-20l1.4-18.1l1.8-14l2.3-11.8l2.5-8.2l3.7-8l2.6-4l3.3-3.7l4-3.5l4-2.6l8-3.6l6-1.9l6-1.4l14.1-2.3l20-1.8z"/>
<path fill="#77f2fa" d="M1326.3 1028.8l51.3-0.4l52.2 0.4l34.1 1l26 1.6l10 1.1l10.1 1.5l8 1.7l6 1.7l6 2.3l6 3.1l4 2.8l3.5 3.2l3.3 4l2.5 4l2.8 5.8l2.1 6.2l1.9 7.1l1.6 8.9l2.4 19.9l1.4 22.2l1 28l1.7 108.1l0.8 34l1.5 26l0.9 8l0.9 4l1.8 2.5l2 0.8l4 1l10 1.2l16.1 0.9l44.1 0.7h128.2v151.9h-795.7v-151.9h120.2l44.1-0.4l16-0.5l12.1-0.9l8-1l4-1l2-0.8l1.8-2.5l1.2-6l0.9-10l0.9-16l1.1-38l1.6-106.1l0.8-26l1.1-20l1.6-18.1l2-14l2.9-12l2.9-8l2-4l3.3-5l2.5-3l3.5-3.2l3.9-2.8l4.1-2.2l6-2.5l6-1.9l14.1-2.9l20-2.2l24.1-1.4z"/>
<path fill="#7afffa" d="M1286.9 1030.8l42.6-1.3l60.2-0.3l52.1 0.6l36.1 1.6l22 2.2l10.1 1.6l8 1.9l8 2.6l6 2.7l4 2.4l5 4l3.6 4l3.4 5.2l2.5 4.8l2.3 6l2.2 8l1.6 8l2.6 20.1l1.5 22l1.1 28l1.9 108.1l0.9 34l1.4 24l0.8 8l1.3 6l2 2.8l2 0.8l4 1.1l10 1.3l16.1 1l44.1 0.7l128.2 0.1v151.2h-795.7v-151.2l124.2-0.1l44.1-0.5l16.1-0.7l12-1.1l8-1.8l2-0.8l0.7-0.8l1.3-2l0.5-2l1-6l1-10l0.9-16l1-38l1.7-100.1l1.6-42l1.2-16l1.6-14.1l2.2-12l2.6-10l2.3-6l2-4l4.5-6.7l3-3.3l3-2.5l4-2.7l5.3-2.8l5-2l5.7-1.7l12.1-2.6l16-2.1z"/>
<path fill="#75ffe5" d="M1341 1032.8l48.7-0.2l42.1 0.6l30 1.2l24.1 2.2l10 1.5l8 1.5l8.1 2.1l6 2.1l6 2.7l4.1 2.3l5.5 4l4.1 4l3.2 4l3.6 6l2.8 6l2.1 6l1.6 6l1.8 8l1.6 10.1l1.2 10l1.7 20l1.3 26l2.4 102.1l1.2 34l0.9 14l1.1 12l1.2 8l1.5 6l1.2 2l2 2.2l2 1.1l4 1.4l10 1.8l16.1 1.3l18 0.7l26.1 0.3l128.2 0.2v148h-795.7v-148l120.2-0.1l44.1-0.6l16-0.8l12.1-1.2l8-1.6l4-1.4l2-1.1l2-2.2l1.2-2l1.5-6l1.6-12l1.1-14l1.6-38l2.5-104.1l1.1-24l1.4-19.7l2-16.3l2.6-14.1l3.5-11.9l3.5-8.1l2.5-4.3l4-5.3l4-4l2.9-2.4l5.1-3.3l5.5-2.7l6.5-2.4l6-1.8l8-1.8l8.1-1.4l20-2.2l26.1-1.6z"/>
<path fill="#72ffd6" d="M1304.1 1034.8l41.5-1.2l52.1-0.1l42.1 0.8l18 0.9l14.1 1l12 1.3l10 1.5l9.2 1.8l7.4 2l7.5 2.7l6 2.9l6 3.8l4 3.4l4 4.4l3.4 4.8l3.3 6l2.4 6l2 6l2 8l1.9 10.1l1.4 10l2 22l1.3 26l2.7 104.1l1.4 34l1.1 16l1.4 12l1.7 8l0.6 2l1.1 2l2.4 2.7l4 1.9l4 1.1l12 1.9l16.1 1.2l18 0.5l26.1 0.3l124.2 0.2v147.2h-795.7v-147.2l122.2-0.1l44.1-0.8l16-0.9l12.1-1.5l8-1.9l2-0.8l2.7-1.8l1.7-2l1.1-2l1.6-6l1.7-12l1.3-16l1.6-38l2.5-100.1l1-22l1.3-18l1.5-14.4l2.2-13.7l2.3-10l3.2-10l2.4-5.3l2.6-4.7l2.7-4l3.5-4l3.2-3l4-3l4-2.4l6-2.9l6-2.2l6.1-1.8l14-2.9l18-2.2z"/>
<path fill="#6fffc7" d="M1325 1034.8l44.6-0.6l48.1 0.3l34.1 1.2l26.1 2l10 1.4l9.9 1.7l8.1 2l6.6 2l5.5 2.2l6 3.1l6 4.1l4 3.6l4 4.7l2.9 4.3l3.1 6l2.5 6l1.9 6l2 8l1.9 10.1l1.4 10l1.8 20l1.5 26l2.7 102.1l1.6 36l1 14l1.4 12l1.5 8l1.2 4l1 2l2.7 3l4 2l4 1.2l12 2l16.1 1.2l18 0.6l26.1 0.3l124.2 0.2v146.5h-795.7v-146.5l120.2-0.1l44.1-0.7l16-0.9l12.1-1.4l8-1.7l4-1.5l2-1.2l2.7-3l1-2l1.2-4l2.1-12l1.4-16l1.8-38l2.8-102.1l1-22.2l1.6-19.8l1.9-16l2.2-12.1l2.6-10l3.8-10l3.1-6l2.6-4l3.3-4l3-2.9l3.8-3.1l4.2-2.7l6-3.1l6-2.4l6.1-1.8l8-2l18-2.8l22.1-2z"/>
<path fill="#6cffb8" d="M1297.8 1036.8l17.7-0.9l20.1-0.6l52.1-0.4l46.1 0.8l18 0.8l16.1 1.1l12 1.3l10 1.5l10 2l8.1 2.2l8 2.9l6 3l6 3.9l4 3.4l4 4.4l3.3 4.6l3.4 6l2.5 6l2.6 8l2 8l3 18.1l2 20l1.5 26l2.9 102.1l1.6 36l1.1 14l1.4 12l1.6 8l1.2 4l1 2l3 3.4l4 2l4 1.3l12 2l16.1 1.3l18 0.6l26.1 0.4l124.2 0.1v145.9h-795.7v-145.9l122.2-0.1l44.1-0.8l16-1l12.1-1.7l8-2.1l4-2l1.5-1.4l1.5-2l1-2l1.2-4l0.9-4l1.7-12l1.4-16l1.7-38l2.6-94.1l1-22l1.3-18l1.8-16l1.9-12.1l2.6-11.2l2.8-8.8l2.5-6l2.2-4l2.5-4l3.1-4l2.9-3l4-3.4l5.4-3.6l4.6-2.4l10-3.8l6.2-1.8l7.9-1.7l16-2.5z"/>
<path fill="#68ffa9" d="M1312.7 1036.8l40.9-1.1l50.1 0.1l38.1 1l16 0.9l14.1 1.2l12 1.5l10 1.8l8 1.9l8.1 2.4l6 2.5l6 3.1l6 4.2l4 3.6l4 4.7l2.9 4.2l3.1 5.8l2.6 6.2l2 6l2.1 8l2 10.1l1.4 10l2 20l1.5 26l3 100.1l1.7 36l1.1 14l1.5 12l1.6 8l2.3 6l1.3 1.9l2 1.9l4 2.1l4 1.3l6 1.2l6 0.9l16.1 1.4l18 0.6l26.1 0.4l124.2 0.1v145.2h-795.7v-145.2l118.2-0.1l44.1-0.7l16-0.9l12.1-1.3l10-2.2l4-1.6l2-1.2l2-1.9l1.3-1.9l1.7-4l2.2-10l1.5-12l1.2-16l1.1-20l3-102.1l2-38.7l1.7-17.3l2.5-16l3.3-14.1l3.6-10l2.9-6l2.5-4l3-4l3.7-4l4.8-4l4.1-2.7l4-2.2l6-2.6l12.1-3.8l16-3.1l18-2.1z"/>
<path fill="#64ff96" d="M1340.3 1036.8l43.4-0.3l40.1 0.5l30 1.4l24.1 2.3l10 1.5l10 2.2l8 2.2l6 2.2l6.1 2.9l5.2 3.1l4.8 3.7l4 3.9l3.6 4.4l2.7 4l3.1 6l2.6 6.5l2.4 7.5l2 8l2.9 18.1l2.1 20l1.5 26l3 98.1l1.7 34l1.3 16l1.6 12l1.7 8l1.3 4l0.9 2l1.7 2.4l2 1.8l4 2.2l4 1.3l10 2l16.1 1.6l18 0.7l26.1 0.4l126.2 0.2v144.4h-795.7v-144.4l118.2-0.1l44.1-0.7l16-1l12.1-1.4l10-2.3l4-1.6l2-1.3l2-1.8l1.7-2.4l0.9-2l1.3-4l2.3-12l1.7-16l1.1-16l1-22l3.2-102.1l1.2-22l1.6-18l2-14.9l2.7-13.2l3.4-11.5l3.5-8.5l3.5-6l2.9-4l3.6-4l4.5-4l4-2.8l6-3.4l6-2.5l6.1-2.1l8-2.1l8-1.7l18-2.5l24.1-1.8z"/>
<path fill="#62ff8e" d="M1333 1040.8l38.6-0.6l42.1 0.4l32.1 1.4l24.1 2.2l10 1.6l8 1.6l8 2l8 2.7l6.3 2.7l5.8 3.2l6 4.3l4 3.7l4 4.5l3.1 4.3l3.4 6l2.7 6l2.8 8l2 7.7l1.8 8.4l1.7 10l2.2 20l1.7 24l3.7 96.1l2 34l1.6 16l1.8 12l2 8l2.3 6l2.7 4l2.6 2.4l2 1.3l4 1.8l6 1.8l6 1.2l16.1 1.9l18 1l26.1 0.5l126.2 0.2v140.9h-795.7v-140.9l120.2-0.2l26.1-0.3l18-0.7l18-1.5l12.1-2.1l8-2.6l4-2.3l2-1.7l3.3-4.7l1.7-4l1.7-6l2.2-12l1.8-16l2.3-36l3.6-96.1l1.4-22l1.8-18l2.1-14l2.6-12l2.9-10.1l4.2-10l2.5-4.4l3.8-5.6l3.4-4l4.2-4l4.6-3.5l4-2.5l6-3l6.1-2.4l6-2l8-2l8-1.6l10-1.6l22.1-2.1z"/>
<path fill="#5eff7f" d="M1309.7 1042.8l15.8-0.9l20.1-0.6l46.1-0.3l40.1 1l16 1l14 1.2l12.1 1.6l10 1.8l8 1.9l8 2.4l7.2 2.9l6.9 3.6l6 4.1l4 3.5l4 4.3l4 5.4l3 5.1l3 6.5l2.8 7.5l2.2 8.1l1.8 8l1.7 10l2.4 20l1.7 24l3.8 96.1l2.3 36l1.8 16l2 12l2.2 8l2.9 6l2.5 3.2l2 1.7l4 2.3l4 1.5l6 1.7l6 1.1l16.1 1.8l18 0.8l26.1 0.5l124.2 0.2v140.2h-795.7v-140.2l120.2-0.1l26.1-0.4l18-0.7l16-1.3l12.1-1.9l6-1.7l4-1.5l4-2.3l2-1.7l2-2.4l1.7-2.8l2.3-6l2.4-10l2-14l1.5-16l1.3-20l3.5-92.1l2.3-36l2-18l2.3-14l2.8-12.1l4-11.5l2-4.5l3.3-6l2.7-4l4-4.8l4-3.8l4-3.2l4-2.6l6-3.2l6.1-2.5l6-2.1l14-3.4l16-2.5z"/>
<path fill="#5aff6f" d="M1320.4 1042.8l37.2-1.1h44.1l34.1 1.2l14 0.9l14.1 1.4l10 1.4l10 1.8l8 2l8 2.5l8.1 3.4l6 3.3l4.7 3.2l5.3 4.6l4 4.5l3.5 4.9l3.5 6l2.7 6l2.3 6.6l2.2 7.5l2.2 10l1.6 9.5l2.3 18.5l1.8 24l3.9 96.1l2.3 36l1.5 14l2 12l2.6 10l2.8 6l2.9 3.6l2 1.7l4 2.3l4 1.6l6 1.6l6 1.2l16.1 1.8l18 0.9l26.1 0.5l124.2 0.2v139.6h-795.7v-139.6l120.2-0.2l26.1-0.3l18-0.7l16-1.4l12.1-2l6-1.6l4-1.6l4-2.3l2-1.7l2-2.4l2-3.2l2.3-6l2.4-10l1.8-12l1.8-18l1.3-20l3.7-92.1l2.4-36l2-18l2.4-14l3.5-14.1l3.7-10l2.8-5.8l2.5-4.2l3.5-4.9l4-4.5l4-3.6l4.1-3l5.9-3.5l5.2-2.5l6.9-2.6l6-1.8l8-2l8-1.5l18.1-2.4z"/>
<path fill="#56ff60" d="M1333.5 1042.8l38.1-0.7l40.1 0.4l32.1 1.4l12 1l12.1 1.4l10 1.6l8 1.7l8 2.2l8 2.7l6.1 2.7l6.3 3.6l5.4 4l4.3 4l4 4.6l3.7 5.4l3.3 6l2.6 6l2.4 7.1l2 7.3l1.7 7.7l1.8 10l2.2 18l1.8 24l1.3 26l2.7 70.1l2.2 34l1.8 16l2 12l2.7 10l2.8 6l3.1 3.9l2 1.7l4 2.3l4 1.6l6 1.7l6 1.2l16.1 1.8l18 1l26.1 0.5l124.2 0.2v139.1h-795.7v-139.1l120.2-0.2l26.1-0.3l18-0.8l16-1.3l12.1-2.1l6-1.7l4-1.6l4-2.3l2-1.7l2-2.2l2-3.3l2.6-6.4l2.4-10l1.9-12l1.6-16l1.4-20l4-96.1l1.2-20l1.3-16l2.2-18l2.6-14l3.2-12.1l2.1-6l2.6-6l3-5.5l2.9-4.5l3.2-4l3.9-4l4.8-4l5.2-3.4l6.1-3.1l6-2.5l6-2l8-2.2l8-1.7l10-1.6l20.1-2.1z"/>
<path fill="#52ff52" d="M1352.8 1042.8l36.9-0.2l34.1 0.8l26 1.6l22.1 2.6l10 1.8l8 1.9l8 2.5l6 2.4l6.1 3l5.7 3.6l4.3 3.4l4 3.8l4 4.8l2.8 4l3.2 5.8l2.8 6.2l2.8 8l2.2 8.1l1.7 8l1.7 10l2.1 18l1.9 24l3.9 94.1l2.3 34l1.8 16l2 12l2.7 10l2.8 6l3.2 4.1l2.2 1.8l4 2.4l4 1.6l6 1.7l6 1.2l16.1 1.9l18 0.9l26.1 0.6l124.2 0.2v138.6h-795.7v-138.6l120.2-0.2l26.1-0.4l18-0.7l16-1.4l12.1-2.1l6-1.7l4-1.6l4-2.4l2-1.6l3.4-4.3l2-4l1.5-4l2-8l2-12l1.8-16l1.6-22l4.1-96.1l1.2-20l1.6-18l2.3-18l2.8-14l3.8-12.8l2-5.3l2.9-6l3.1-5.1l3.5-4.9l3.7-4l4.8-4.3l5.3-3.7l4.7-2.7l6.1-2.7l8-2.9l8-2.2l8-1.7l10-1.6l10.1-1.3l24-1.8z"/>
<path fill="#4eff43" d="M1314.7 1044.8l34.9-1.4l44.1-0.2l38.1 1.1l14 0.9l14 1.3l12.1 1.7l10 1.9l8 2l8 2.5l6 2.5l7.2 3.7l5.9 4l5 4.4l4 4.4l3.8 5.2l3.4 6l2.8 6l2.2 6l2.4 8.1l1.9 8l1.8 10l2.3 18l2 24l1.3 26l2.9 70.1l2.3 34l1.8 16l2 12l2.8 10l2.8 6l3.1 4.1l2.5 2.1l4 2.4l4 1.6l6 1.8l6 1.2l16.1 1.9l18 1l26.1 0.5l124.2 0.2v138.2h-795.7v-138.2l120.2-0.1l26.1-0.4l18-0.8l16-1.4l12.1-2.1l6-1.8l4-1.6l4-2.4l2-1.6l3.6-4.6l2.1-4l1.4-4l2.5-10l1.9-12l1.7-16l1.6-22l3.9-92.1l1.2-20l1.4-16l2.2-18l2.6-14l3.1-12.1l3.8-10l2.9-6l2.4-4l3.8-5.2l4-4.4l4-3.6l4-3l4-2.5l6.1-3l6-2.5l6-2l14-3.4l16.1-2.4z"/>
<path fill="#4aff34" d="M1323.6 1044.8l38-1.1l42.1 0.1l34.1 1.4l14 1.1l12.1 1.3l10 1.5l10 2.1l8 2.2l8 2.8l6 2.7l6.1 3.4l6 4.4l4 3.7l4 4.5l4 5.8l3.4 6.1l2.6 6l2.1 6l2.3 8.1l1.8 8l1.8 10l2.3 18l1.9 24l4.2 94.1l2.3 34l1.9 16l2.1 12l2.7 10l2.8 6l3 4.1l2.9 2.5l4 2.3l4 1.7l6 1.8l6 1.2l16.1 1.9l18 1l26.1 0.6l124.2 0.2v137.7h-795.7v-137.7l120.2-0.2l26.1-0.4l18-0.7l16-1.5l12.1-2.1l6-1.8l4-1.7l4-2.3l2-1.7l2-2.1l1.9-2.8l2-4l1.5-4l2.5-10l1.9-12l1.8-16l1.6-22l4-92.1l1.2-20l1.4-16l2.3-18l2.6-14l3.3-12.1l3.8-10l2.3-4.7l3.2-5.3l2.9-4l3.9-4.4l4-3.7l5.2-3.9l4.8-2.9l6.1-2.9l6-2.3l6-1.9l8-2.1l8-1.6l18.1-2.4z"/>
<path fill="#46ff25" d="M1336.7 1044.8l36.9-0.6l38.1 0.4l30.1 1.4l12 1.1l12.1 1.4l10 1.7l8 1.7l8 2.3l7.4 2.6l6.6 3l5.3 3l5.5 4l4.5 4l3.6 4l4.3 6l3.4 6l2.6 6l2.2 6l2.4 8.1l1.9 8l1.8 10l2.3 18l2 24l1.3 24l2.8 68.1l1.2 20l1.3 16l1.9 16l2.2 12l2.7 10l2.8 6l3 4.1l3.2 2.8l4 2.4l4 1.7l6 1.8l6 1.2l16.1 2l18 1l26.1 0.6l124.2 0.2v137.2h-795.7v-137.2l118.2-0.1l26.1-0.4l18-0.7l18-1.6l12.1-2.2l6-1.8l4-1.7l4-2.4l2-1.6l2-2.1l2.2-3.2l2.8-6l2.7-10l2.5-14l1.8-16l1.6-22l4.1-92.1l1.3-20l1.4-16l2.3-18l2.7-14l2.1-8l1.9-6.1l4.2-10l3.4-6l3.1-4.4l4-4.7l4-3.8l4-3.2l6-3.8l6.1-3l6-2.4l6-1.9l8-2.1l8-1.7l10-1.5l20.1-2.1z"/>
<path fill="#42ff16" d="M1364.4 1044.8l33.3 0.1l30.1 0.9l24 1.8l20.1 2.6l8 1.6l8 2l8 2.6l6 2.5l6.1 3.1l4.4 2.8l5.2 4l4.4 4.3l4 4.9l3.2 4.8l3.2 6l2.6 6l2.1 6.1l2.3 8l1.8 8l1.8 10l2.3 18l1.8 22l1.3 24l3.1 70.1l2.4 34l1.9 16l2.2 12l2.8 10l2.8 6l2.9 4.1l3.6 3.2l4 2.4l4 1.7l6 1.8l6 1.3l16.1 2l18 1.1l26.1 0.5l124.2 0.3v136.6h-795.7v-136.6l118.2-0.2l26.1-0.4l18-0.7l18-1.6l12.1-2.3l6-1.8l4-1.7l4-2.4l1.6-1.2l2.4-2.5l2-2.8l1.6-2.8l1.7-4l2.8-10l2.2-12l1.9-16l1.6-20l1.4-26.1l3.2-72l1.3-20l1.8-18l2.6-18l3.7-16l4.1-12.1l2.2-4.8l2.8-5.2l3.2-4.8l4.3-5.2l4.1-4l5.6-4.3l6-3.6l6.1-2.9l6-2.3l8-2.4l8-1.9l10-1.8l20.1-2.4l26-1.6z"/>
<path fill="#40ff10" d="M1325.6 1046.8l36-1.1l42.1 0.2l32.1 1.3l14 1.1l12 1.4l10.1 1.6l10 2.1l8 2.2l8 2.9l6 2.8l6.1 3.5l5.4 4l4.4 4l4.2 4.8l3.6 5.2l3.4 6l2.7 6l2.3 6.3l2.3 7.8l1.9 8l1.8 10l2.4 18l1.9 22l1.4 24l3.1 70.1l2.5 34l2 16l2.2 12l2.9 10l2.7 6l2.8 4.1l2.2 2.2l4 2.9l4 2l6 2.1l6 1.5l8.1 1.4l10 1.1l18 1l26.1 0.6l124.2 0.3v135.8h-795.7v-135.8l118.2-0.2l26.1-0.4l18-0.7l16-1.5l8.1-1.2l6-1.3l6-1.9l4-1.7l4-2.4l2-1.6l2-2.1l2-2.6l2-3.6l1.7-4l2.9-10l2.5-14l1.9-16l1.7-22l4.3-90.1l1.3-20l1.4-16l2.4-18l2.7-14l3.4-12l3.9-10.1l3.1-6l2.9-4.4l4-5.2l4-4.1l4-3.4l4-2.9l6.1-3.5l5.3-2.5l6.7-2.5l6-1.8l8-2l8-1.6l18.1-2.4z"/>
<path fill="#55ff16" d="M1320.5 1052.8l15.1-0.9l18-0.7l40.1-0.1l34.1 1.2l14 1.1l12 1.4l10.1 1.6l10 2.1l8 2.2l8 2.8l7.4 3.3l6.6 3.9l5.6 4.1l4.4 4l4.1 4.6l3.9 5.4l3.5 6l2.6 5.6l2.5 6.5l2.5 8l3.6 16l2.7 18l2.1 22l1.5 22l3.7 68.1l1.4 18l1.6 16l2.3 16l2.5 12l3.1 10l1.6 4l2.2 4l2.8 4.1l4 4l4 2.9l4 2.1l6 2.3l6 1.7l8.1 1.5l10 1.3l20 1.4l26.1 0.6l122.2 0.3v130.8h-795.7v-130.8l116.2-0.2l26.1-0.4l18-0.9l16-1.5l8.1-1.3l6-1.3l6-1.9l4-1.6l4-2.1l4.1-2.9l2.1-2l3.3-4l2.5-4.1l1.8-4l3.4-10l3.3-16l2.4-18l1.9-20l1.5-24.1l3.5-64l2.8-32l2.2-16l2.8-14l3.3-12l3.9-10.1l3-6l2.4-4l3.9-5.4l4-4.5l4-3.7l4.1-3.1l4.9-3.3l5.1-2.7l6-2.6l6-2.2l14-3.7l16.1-2.8z"/>
<path fill="#64ff1a" d="M1333.3 1052.8l32.3-1l36.1 0.2l30.1 1.4l12 1.1l12 1.5l10.1 1.7l8 1.8l8 2.2l8 2.9l6 2.8l6.1 3.4l5.6 4l4.6 4l3.8 4.1l4 5.2l3 4.7l3.1 6l2.5 6.1l2.8 8l2.2 8l2.1 10l2.8 18l2.2 22l1.5 22l3.7 66.1l1.5 20l1.7 16l2.3 16l2.6 12l3 10l3.8 8l3.3 4.7l3.2 3.4l4.8 3.5l4 2.1l6 2.3l6 1.7l8.1 1.6l10 1.3l20 1.4l26.1 0.7l122.2 0.2v130.1h-795.7v-130.1l116.2-0.1l26.1-0.5l18-0.8l16-1.6l8.1-1.3l6-1.4l6-1.9l4-1.6l4-2.1l4-2.8l2.8-2.7l3.2-4l2.4-4.1l1.9-4l3.3-10l3.4-16l2.3-16l2.1-22l1.6-24.1l3.5-64l1.4-18l1.7-16l2.4-16l3-14l3.7-12l4.3-10.1l3.3-6l3.8-5.4l3.9-4.6l4.1-4l8.1-6l6-3.4l5.6-2.6l12.4-4.3l8-2l8.1-1.5l18-2.5z"/>
<path fill="#72ff1e" d="M1350.9 1052.8l32.8-0.3l30 0.6l25.6 1.7l20.5 2.7l10.1 1.9l8 2.1l8 2.6l6 2.5l6 3l5.3 3.2l4.8 3.7l4.7 4.3l3.5 4l4.4 6l3.4 6l2.8 6.1l2.4 6l2.5 8l3.6 16l2.7 18l2 20.2l1.7 23.8l3.8 66.1l1.4 18l1.7 16l2.4 16l3.1 14l3.3 10l1.9 4l2.3 4.1l3.1 4l3.4 3.2l4 2.8l6 3l6 2.1l6 1.5l8.1 1.5l10 1.2l18 1.2l26.1 0.7l122.2 0.3v129.4h-795.7v-129.4l116.2-0.2l26.1-0.5l18-0.8l16-1.6l8.1-1.3l6-1.4l6-1.9l4-1.7l4-2.1l4-2.8l3.4-3.2l2.6-3.4l2.8-4.7l1.9-4l2.2-6l1.7-6l2.5-12l2.4-16l2.2-22l1.7-24.1l3.8-66l1.4-18l1.7-16l2.5-16l3.3-14.8l4-12.4l2-4.8l3-6.1l3-4.9l3.8-5.1l4.2-4.7l4-3.6l6.1-4.5l5.4-3.2l6.6-3.1l6-2.3l6-1.9l8-2.1l8.1-1.6l10-1.6l22-2.2z"/>
<path fill="#81ff22" d="M1324.2 1054.8l31.4-1.4l38.1-0.2l32.1 1.3l14 1.1l12 1.4l10 1.6l10.1 2.1l8 2.3l8 2.8l6.6 3l6.9 4l5.5 4l4.4 4l4.7 5.2l3.5 4.8l3.5 6l2.9 6.1l2.4 6l2.5 8l3.8 16l2.7 18l2.1 20l1.6 22l3.9 68.1l1.5 18l1.7 16l2.4 16l3.2 14l3.3 10l1.9 4l2.3 4.1l3.1 4l3.8 3.7l4 2.8l6 3l6 2.1l6 1.6l8.1 1.5l8 1l20 1.4l26.1 0.7l122.2 0.3v128.8h-795.7v-128.8l118.2-0.2l26.1-0.5l18-1l16-1.7l8.1-1.5l6-1.6l6-2.1l4-1.9l4-2.4l3.9-3.2l2.1-2.2l2.9-3.8l2.3-4.1l2.6-6l3.7-12l2.8-14l2.4-18l1.9-20l5-84.1l2.9-32l2.3-16l2.9-14l3.4-12l4-10l3-5.9l2.5-4.2l3.5-4.8l4-4.5l4-3.8l4.1-3.1l4-2.7l6-3.4l6-2.7l6-2.2l14-3.8l17.2-3z"/>
<path fill="#89ff25" d="M1334.6 1054.8l33-1l34.1 0.3l28.1 1.3l12 1.1l12 1.5l10.1 1.7l8 1.8l8 2.3l8 3l6 2.7l6 3.5l5.5 3.8l4.6 4l4 4.3l4 5.2l2.9 4.5l3.1 6.1l2.6 6l2.8 8l2.2 8l2.2 10l2.9 18l2.1 20l1.6 22l4 68.1l1.5 18l1.8 16l2.4 16l3.2 14l3.4 10l1.8 4l2.3 4.1l3.3 4.3l3.8 3.7l4.2 3l4 2.1l6 2.4l6 1.7l8.1 1.7l10 1.4l20 1.4l26.1 0.7l122.2 0.3v128.2h-795.7v-128.2l116.2-0.2l26.1-0.5l18-0.9l16-1.6l8.1-1.4l6-1.4l6-1.9l4-1.7l4-2.1l4.2-3l3.8-3.7l2-2.5l2.5-3.9l2.9-6l2.2-6l1.8-6l2.9-14l2.6-18l2-20l1.7-24.1l3.6-62l1.5-18l1.7-16l2.5-16l3.1-14l3.7-12l4.4-10.1l3.4-6l3.6-5.2l4-4.7l4-3.9l4.1-3.3l4.2-2.9l5.8-3.3l5.8-2.7l12.2-4.2l8-2l8.1-1.6l18-2.5z"/>
</g>
<g filter="url(#fd1)">
<path fill="#8bff25" d="M1335.6 1054.8l32-0.9l34.1 0.2l28.1 1.4l24 2.6l18.1 3.5l8 2.3l8 2.9l12 6.3l5.3 3.7l4.8 4.2l4 4.2l4.2 5.6l3.7 6l3 6.1l5.1 14l3.8 16l2.8 18l2.1 20l5.7 90.1l3.2 34l2.9 18l2.7 12l3.4 10l4.2 8.1l3.3 4.4l3.8 3.6l4.2 3l4 2.1l6 2.4l6 1.8l8.1 1.6l10 1.4l20 1.5l26.1 0.7l122.2 0.3v128.1h-795.7v-128.1l116.2-0.2l26.1-0.5l18-0.9l16-1.7l14.1-2.8l10-3.6l4-2.1l4.2-3l5.8-6.1l2.5-4l3-6l3.9-12l3-14l2.6-18l1.9-20l5.4-86.1l3.2-34l2.4-16l3.1-14l3.8-12l4.3-10.1l3.4-6l3.6-5.1l8-8.6l8.4-6.3l11.7-6l12-4.1l16.1-3.7l18-2.5z"/>
<path fill="#90ff26" d="M1337.6 1054.8l32-0.9l34.1 0.4l28.1 1.4l22 2.5l18.1 3.5l15.6 5.1l6.4 3l6 3.4l5.1 3.6l5 4.4l4 4.3l4.1 5.3l3.7 6l2.9 6.1l5.1 14l3.9 16l2.8 18l2.1 20l5.7 90.1l3.3 34l2.4 16l3.2 14l3.4 10l4.1 8.1l3.4 4.4l3.7 3.6l4.3 3.1l4 2.1l6 2.4l6 1.7l8.1 1.7l10 1.4l20 1.5l26.1 0.7l122.2 0.3v128h-795.7v-128l116.2-0.2l26.1-0.5l18-0.9l16-1.7l14.1-2.8l10-3.6l4-2.1l4.3-3.1l5.7-6l2.6-4.1l2.9-6l4-12l2.9-14l2.6-18l2-20l5.5-88.1l3.1-32l2.4-16l3.1-14l3.8-12l4.4-10.1l6.8-10.9l8-8.6l8.7-6.5l11.4-5.8l14-4.7l16-3.5l18.1-2.4z"/>
<path fill="#97ff28" d="M1344.4 1054.8l33.2-0.6l32.1 0.6l26.1 1.6l22 2.8l18.1 4l14 5.1l11.7 6.5l5.2 4l4.2 4l3.5 4l4.4 6l6.3 12.1l4.8 13.9l3.7 16.1l2.8 18l2 20l5.4 86.1l3.5 36l2.4 16l3.2 14l3.4 10l4.1 8.1l3.6 4.7l3.4 3.3l4.6 3.3l4 2.1l6 2.4l6 1.8l8.1 1.7l10 1.3l20 1.5l26.1 0.7l122.2 0.3v127.8h-795.7v-127.8l116.2-0.2l26.1-0.5l18-0.9l16-1.6l14.1-2.8l10-3.7l8-4.9l6-6.3l4.8-8.3l4.3-12l3.5-16l2.6-18l2-20l5.6-88.1l3.1-32l2.5-16l3.1-14l3.8-12l4.8-10.7l3.1-5.4l4.4-6l7.7-8l8.9-6.3l12-5.9l14-4.5l16.1-3.3l20-2.4z"/>
<path fill="#9eff2a" d="M1353.4 1054.8l32.3-0.3l30 0.8l24.1 1.8l20 2.8l16.1 3.7l14 5.2l10.9 6l5.1 3.9l4.5 4.1l7.6 9.4l6 11l5.1 13.7l4.3 18l2.6 16.9l2.2 21.1l5.5 86.1l3.4 36l2.5 16l3.2 14l3.4 10l4.1 8.1l3 4l3.9 4l4.9 3.5l4 2.2l6 2.4l6 1.7l8.1 1.7l10 1.4l20 1.5l26.1 0.7l122.2 0.3v127.5h-795.7v-127.5l116.2-0.2l26.1-0.5l18-0.9l16-1.7l14.1-2.8l10-3.6l8-4.9l6-6.3l5-8.6l4.3-12l3.2-14l2.5-16l2.3-22l5.8-90.1l3.4-34l2.6-16l3.3-14l4.1-12l4.8-10.1l6.8-10l8.1-8.1l6-4.4l5.8-3.5l12.2-5.3l14-4l18.1-3.2l22-2.2z"/>
<path fill="#a5ff2c" d="M1371.3 1054.8l32.4 0.4l28.1 1.5l22 2.5l18.1 3.7l8 2.4l8 3l6 2.9l6 3.6l5.5 4l4.4 4l4.2 4.7l3.9 5.3l5.5 10.1l4.7 12l3.9 14.9l3 17.1l3.6 34l6 92.1l2.3 22l2.5 16l3.2 14l4.3 12l5.2 8.9l6 6.2l8 4.9l10 3.6l14.1 2.9l16 1.7l18 0.9l26.1 0.5l114.2 0.2v127.2h-795.7v-127.2l116.2-0.2l26.1-0.5l18-0.9l16-1.7l14.1-2.9l10-3.6l8-4.9l6-6.2l5.2-8.9l4.3-12l3.2-14l2.5-16l2.3-22l5.9-90.1l3.4-34l3.1-18l3.5-14l4.4-12l5.2-10.1l7.4-10l4-4l5.8-4.6l6-3.9l6-3.1l14-5.2l18.1-4.1l20-2.7l24.1-1.6z"/>
<path fill="#acff2e" d="M1325.7 1056.8l31.9-1.5l36.1-0.1l32.1 1.3l24 2.5l20.1 3.7l8 2.3l8 2.9l6.4 2.9l6.9 4l5.5 4l4.4 4l4.9 5.4l3.4 4.6l6.5 12.1l5 14l3.8 16l2.8 18l2.2 20l5.7 88.1l3.3 34l2.5 16l3.3 14l3.4 10l4.2 8.3l2.7 3.8l3.9 4l3.4 2.7l6 3.4l6 2.5l8 2.2l16.1 2.6l20 1.5l26.1 0.8l122.2 0.3v126.9h-795.7v-126.9l118.2-0.2l26.1-0.6l18-1l16-1.8l14.1-3.2l10-4.1l4-2.4l4-3.2l3.3-3.5l2.7-3.8l4.2-8.3l4-12l3.4-16l2.3-16l2.2-22l5.4-84.1l2.8-30l2.4-16l2.9-14l3.5-12l4-10l5.6-10.1l7.4-9.1l8.1-7l10-6.1l12-4.9l14-3.9l16.1-2.8z"/>
<path fill="#b4ff31" d="M1330.8 1056.8l30.8-1.2l36.1 0.1l30.1 1.4l24 2.5l18.1 3.6l8 2.3l8 2.9l6 2.8l6.4 3.6l5.6 4l4.5 4l7.6 8.9l6.5 11.2l5.4 14l4.1 16.4l2.9 17.6l2.4 22l5.8 88.1l3.4 34l2.5 16l3.3 14l3.4 10l4.4 8.6l2.5 3.5l3.8 4l3.7 3l6 3.4l6 2.4l6 1.8l8.1 1.7l10 1.4l20 1.6l26.1 0.7l122.2 0.3v126.6h-795.7v-126.6l118.2-0.2l26.1-0.6l18-1l16-1.8l14.1-3.2l10-4.1l4-2.4l4-3.2l6-7.3l4.4-8.6l4-12l3.1-14l2.4-16l2.3-22l5.6-86.1l3.1-32l2.5-16l2.7-12.4l3.5-11.6l4-10l6.5-11.2l7.6-8.9l8.5-6.9l10-5.7l12-4.7l16.1-4.1l16-2.6z"/>
<path fill="#bcff33" d="M1336.8 1056.8l30.8-0.9l34.1 0.2l28.1 1.5l22 2.4l18.1 3.6l8 2.3l7.8 2.9l12.2 6.4l5.2 3.6l4.9 4.3l4 4.3l4.2 5.4l3.7 6l3 6.1l5.1 13.8l3.9 16.2l2.9 18l2.2 20l5.8 88.1l3.4 34l2.6 16l3.2 14l3.5 10l4.6 9l6 7.1l4 3.2l6 3.5l6 2.4l6 1.8l8.1 1.7l10 1.4l20 1.6l26.1 0.7l122.2 0.4v126.2h-795.7v-126.2l118.2-0.3l26.1-0.6l18-1l16-1.9l14.1-3.1l10-4.1l4-2.5l4-3.2l6-7.1l4.6-9l4-12l3.1-14l2.7-18l2.1-20l5.6-86.1l3.2-32l2.5-16l2.6-12l3.6-12l4.2-10l5.9-10.3l4-5.2l4-4.3l4.9-4.3l5.2-3.6l10-5.4l13.6-5l14.5-3.4l18-2.7z"/>
<path fill="#c4ff35" d="M1344.1 1056.8l31.5-0.6l32.1 0.5l26.1 1.6l22 2.8l18.1 4.1l14 5.1l11.6 6.5l5.2 4l4.3 4l7 8.6l6.4 11.5l5.2 14l3.9 16l2.7 16l2.5 22l5.9 88.1l3.7 36l2.6 16l2.9 12l3.4 10l4.9 9.3l4 5.1l4 3.7l4 2.8l6 3l12 3.9l18.1 2.9l20 1.4l26.1 0.7l120.2 0.3v125.9h-795.7v-125.9l118.2-0.3l26.1-0.5l18-1.1l16-1.9l14.1-3.2l10-4.1l4-2.4l4-3.2l6-7.1l4.9-9.3l3.9-12l3.1-14l2.7-18l2.1-20l5.8-86.1l3.1-32l2.6-16l3.2-14l3.8-12l4.5-10l6.4-10.2l8.1-8.8l10-7.4l12-5.9l14-4.5l16.1-3.3l20-2.5z"/>
<path fill="#cbff37" d="M1354.1 1056.8l31.6-0.3l28 0.8l24.1 1.8l20 2.8l16.1 3.7l14 5.2l10.7 6l5.3 4l4.4 4l7.7 9.5l6 10.8l5.2 13.8l3.9 16l2.9 17.2l2.3 20.8l6 88.1l3.4 34l2.6 16l3.3 14l3.4 10l5.1 9.7l4 5l4 3.7l4 2.8l6 3l6 2.2l8 2.1l16.1 2.5l20 1.4l26.1 0.7l120.2 0.3v125.6h-795.7v-125.6l114.2-0.2l26.1-0.5l18-0.8l16-1.6l14.1-2.7l12-4.3l8-4.9l6.3-6.3l5-8.1l4.6-12l3.9-16l2.8-18l2.4-22l5.8-86.1l3.5-34l2.7-16l3.3-14l4.2-12l4.8-10.1l6.8-9.9l8.1-8.1l6-4.4l5.9-3.6l12.1-5.2l14-4.1l18.1-3.2l22-2.3z"/>
<path fill="#d3ff39" d="M1324.5 1058.8l31.1-1.6l34.1-0.2l32.1 1.2l26 2.5l20.1 3.8l8.2 2.3l7.8 2.9l6.9 3.1l6.8 4l5.4 4l4.5 4l4.5 5l3.7 5l5.6 10.1l5.4 14l4 16l3 18l2.2 20l5.9 86.1l3.6 36l2.7 16l3.3 14l4.3 12l4.4 8.1l4 5l4 3.6l4 2.8l6 3l6 2.2l8 2.1l16.1 2.5l20 1.5l26.1 0.7l120.2 0.3v125.2h-795.7v-125.2l118.2-0.3l26.1-0.6l18-1l16-1.9l14.1-3.3l10-4.1l8-5.6l6-6.9l5.3-10.1l4-12l3.5-16l2.6-18l2.1-20l5.5-82.1l3.1-31.7l2.2-14.3l2.9-14l2.9-10.1l4-10.4l6-11.1l6.6-8.5l8.9-8l9.7-6l10.9-4.7l14-4.1l16.1-3z"/>
<path fill="#daff3b" d="M1329.9 1058.8l31.7-1.3h34.1l30.1 1.3l24 2.6l18.1 3.6l8 2.3l8 2.9l6 2.8l6.7 3.8l5.3 3.9l4.7 4.1l7.4 8.6l6.7 11.5l5.3 13.5l4.3 16.5l3 18l2.3 20l6 88.1l3.8 36l2.8 16l2.9 12l4.3 12l4.4 8.1l4.3 5.3l4 3.6l4 2.8l6 3.1l6 2.2l8 2.1l16.1 2.5l20 1.4l26.1 0.8l120.2 0.3v124.8h-795.7v-124.8l116.2-0.3l26.1-0.5l18-1l16-1.7l14.1-3l6-2l6-2.8l8-5.5l6-6.9l4.7-8.5l4.3-12l3.7-16l2.5-16l2.4-22l5.9-86.1l3-30l2.2-14l3-14l3.6-12l4.1-10l6.7-11.5l7.4-8.6l8.7-7.1l10-5.7l12-4.7l14.1-3.7l16.3-2.8z"/>
<path fill="#e1ff3d" d="M1337 1058.8l30.6-1l32.1 0.2l28.1 1.5l22 2.4l18.1 3.7l8 2.3l7.9 2.9l12.1 6.4l5.2 3.6l4.8 4.3l8.1 9.4l6 10.4l5.6 14l4.4 17.2l2.8 16.8l2.3 20l6.2 88.1l3.5 34l2.7 16l3.3 14l4.3 12l4.4 8.1l3 4l3.6 3.6l4 3.2l6 3.4l6 2.5l8 2.3l16.1 2.8l20 1.6l26.1 0.7l122.2 0.4v124.4h-795.7v-124.4l116.2-0.2l26.1-0.6l18-1l18-2.1l14.1-3.3l10-4.1l8-5.6l6-6.8l5-8.9l4.3-12l3.7-16l2.5-16l2.4-22l6-86.1l3.1-30l2.5-16l2.7-12l3.7-12l4.2-10.2l6-10.2l8.1-9.4l4.8-4.3l5.2-3.6l10-5.4l13.4-5l14.7-3.5l18-2.7z"/>
<path fill="#ebff40" d="M1347.4 1058.8l30.2-0.6l30.1 0.6l26.1 1.7l20 2.7l18.1 4.1l14 5.2l11.3 6.3l4.7 3.6l4.8 4.4l7.3 8.9l6.3 11.2l5.3 14l4 16l2.7 16l2.4 20l6.2 88.1l3.9 36l2.8 16l3.5 14l3.7 10l4.4 8.1l3 4l3.9 4l4 3.2l6 3.4l6 2.5l8 2.3l16.1 2.8l20 1.6l26.1 0.8l122.2 0.4v123.9h-795.7v-123.9l116.2-0.3l26.1-0.5l18-1l16-1.8l14.1-3.1l6-2l6-2.7l8-5.6l6-6.7l5.3-9.4l4.3-12l3.7-16l2.6-16l2.4-22l6.1-86.1l3.4-32l2.7-16l3.4-14l4.2-12l4-8.6l4-6.6l3.7-4.9l7.9-8l8.5-6.1l12-5.9l14-4.6l16.1-3.4l20-2.5z"/>
<path fill="#e3f53e" d="M1344.2 1068.8l27.4-0.9l30.1 0.5l24.1 1.6l20 2.7l16 3.8l14.1 5.1l6 3.1l6 3.7l5.8 4.4l4.2 4l8 10.1l5.6 10l4.8 12l4 14l3.1 16l2.6 18.8l7.5 85.3l2.1 18l2.7 18l3.3 16l4 14l4.9 12l5.6 9.6l4 5l4 4l6 4.6l6 3.4l6 2.5l8 2.6l8.1 1.8l10 1.6l20 1.8l26.1 0.9l120.2 0.4v114.8h-795.7v-114.8l114.2-0.3l26.1-0.6l20-1.3l18-2.5l14.1-3.7l10-4.3l6-3.7l4-3.2l4-4l3.7-4.5l5.9-10.1l5.6-14l4.3-16l3.3-18l2.9-22l7-80.1l3.7-30l2.5-14l3.2-12.8l3.9-11.2l4.1-9.2l6.1-9.7l8-9.2l10-7.7l10-5.5l12.9-4.8l15.2-3.7l16-2.5z"/>
<path fill="#deed3c" d="M1355.1 1070.8l26.6-0.4l24 0.7l22.1 1.7l18 2.8l16 4l13.5 5.2l10.6 6.2l9.3 7.8l4.7 5.3l3.5 4.8l5.7 10l4.9 12l4 14l3.2 16l2.6 18l7.7 84.1l2.2 18l2.8 18l3.3 16l4.1 14l4.9 12l5.7 10.1l3.6 4.7l5.2 5.4l4.8 3.8l6 3.6l6 2.9l8 2.8l8.1 2l10 1.8l20 1.9l26.1 1.1l122.2 0.5v112.4h-795.7v-112.4l112.2-0.3l26.1-0.6l20-1.3l18-2.3l14.1-3.5l12-5l6-3.6l4-3.1l4-3.9l4.1-4.9l4-6l3.2-6.1l5.6-14l4.3-16l3.5-18l3-22l7.3-80.1l3.5-28l3.1-16l3.2-12l3.5-10l4.8-10l7.1-10.8l8-8.4l10-7.3l11.1-5.6l13-4.4l16-3.6l18-2.4z"/>
<path fill="#d8e63a" d="M1365.4 1072.8l26.3 0.1l26 1.4l21 2.5l17.1 3.8l14.1 4.9l6.8 3.3l6.6 4l9.7 8.1l4.9 5.5l3.3 4.5l5.8 10l4.2 10l4.3 14l3 14l4.3 30l5.7 62l2.6 24.1l3.7 24l4 18l5 16l3.4 8l3.1 6.1l7 10l4.8 5.1l4 3.3l10 6.1l12 4.6l14.1 3.3l18 2.2l20.1 1.2l26 0.6l108.2 0.3v110.2h-795.7v-110.2l112.2-0.3l26.1-0.7l20-1.3l18-2.4l14.1-3.5l12-5l6-3.6l4-3.1l8-8.2l6.9-10.6l6.2-14.1l5.2-18l3.7-18l3.2-22l7.9-82.1l3.7-28l3.3-16l3.4-12l3.8-10l5.1-10l7.1-10l8.7-8.6l4.6-3.5l6.6-4l12.8-5.7l15-4.3l17.1-3l20.1-2z"/>
<path fill="#d3df39" d="M1335.6 1076.8l24-1.5l28.1-0.2l26 1.2l22.1 2.6l18 3.9l14.1 4.9l12 6.4l10 7.9l7.7 8.9l6.3 10.1l6 13.9l4.1 13.8l2.9 14.2l2.8 18l8.5 84.1l2.6 20l2.7 16l3.7 16l5 16l5.3 12.1l6.3 10l5.1 6.1l5.2 4.8l6 4.3l6 3.3l6 2.6l8 2.6l8.1 2l10 1.7l20 1.9l28.1 1.1l118.2 0.5v108h-795.7v-108l116.2-0.4l28.1-0.9l20-1.7l18-3.1l8.1-2.3l8-3.1l6-3l6-3.9l4-3.3l5.1-5.1l6.9-9.7l5.4-10.5l5.2-14l4.7-18l3.4-18l2.8-20l7.3-74.1l3.3-26l2.6-14l3-12l3.2-10l4.3-10l5.8-10l7.2-8.8l8-7.2l9.5-6.1l10.5-4.7l12.1-3.9l16-3.3z"/>
<path fill="#cdd737" d="M1344.8 1078.8l24.8-1l26.1 0.2l22 1.5l20.1 2.7l16 3.8l13 4.8l11.1 6.1l9.9 8l7.1 8l6.4 10l5.4 12l4.4 14l3.5 16l2.8 18l8.6 82.1l2.8 20l2.8 16l4.2 18l5.3 16l5.6 12.1l6.4 10l5 5.9l4 3.8l6 4.6l6 3.6l6 2.7l8 2.9l10.1 2.5l10 1.8l20 2l28.1 1.2l118.2 0.5v105.4h-795.7v-105.4l116.2-0.5l28.1-0.9l20-1.8l18-3.2l8.1-2.2l8-3.1l6-3l6-3.9l5.8-4.8l4.2-4.4l7.1-9.7l6.2-12.1l5.2-14l4.3-16l3.6-18l2.9-20l7.9-76.1l3.6-26l2.3-12l3-12.1l4.1-11.8l4-8.8l6-9.9l8-9.4l8-6.6l10-6l12.1-5l14-3.9l16-2.8z"/>
<path fill="#cfd136" d="M1346.7 1086.8l22.9-1.1l22.1 0.2l22 1.4l18.1 2.5l14 3.3l14 5l10.1 5.4l10 7.6l8 8.8l6 9.2l5.6 11.8l4.4 13.3l3.6 14.7l2.8 16l10 84.1l2.8 18l3.5 18l4.8 18l5.7 16l5.8 12.1l7.2 10.9l4.3 5.2l6.4 6l7.3 5.4l6 3.4l8 3.6l8 2.7l18.1 3.8l22 2.4l28.1 1.2l46.1 0.6l70.1 0.1v97.6h-795.7v-97.6l114.2-0.6l28.1-1.1l22-2l18-3.4l8.1-2.3l8-3.1l8-4.1l6-3.9l5.6-4.7l4.4-4.4l7.5-9.7l6.8-12l6.5-16.1l4.7-16l4-18l3.7-22l8.9-75.8l3.8-24.3l2.5-12l3.4-12l3.6-10l3.8-8l6.3-10l6.9-8l7.8-6.7l10-6.1l12.1-5.1l12-3.5l14-2.7z"/>
<path fill="#d2ca34" d="M1349.9 1088.8l21.7-0.9l24.1 0.4l20 1.5l18.1 2.8l14 3.7l12 4.7l10.3 5.9l9.8 8l6.9 8l6.3 10l4.8 10.6l4.4 13.4l3.4 14l2.8 16l10.1 82.1l2.8 18l3.6 18l4.8 18l5.7 16l5.7 12.1l7.8 12.1l5.1 5.9l6 5.7l6 4.5l6 3.7l8 3.8l8 2.8l10.1 2.7l10 1.9l22 2.4l28.1 1.2l46.1 0.7l70.1 0.1v95.4h-795.7v-95.4l68.1-0.1l46.1-0.6l28.1-1.1l22-2.1l18-3.4l8.1-2.3l8-3.1l8-4.1l6-3.8l5.8-4.8l4.2-4.1l8-9.9l7-12.1l6.7-16.1l5.4-18l4.1-18l3.7-22l9-74.1l3.7-24l2.6-12l3.4-12l3.6-10l3.8-8l6.3-10l6.9-8l8-6.8l10.1-6.1l12-5l12-3.5l14.2-2.7z"/>
<path fill="#d5c333" d="M1346.7 1090.8l22.9-1.2l22.1 0.2l20 1.3l18.1 2.6l14 3.4l12 4.3l12.1 6.5l8.9 7l7.4 8l6.6 10l5.1 10.6l4.6 13.4l3.4 13.8l3 16.2l10.4 82.1l3.2 20l3.8 18l4.9 18l5.9 16l5.9 12.1l8.1 12.1l5 5.7l6 5.6l6 4.4l6 3.6l8 3.8l8 2.9l10.1 2.6l10 1.9l22 2.5l28.1 1.3l48.1 0.7l68.1 0.1v93.7h-795.7v-93.7l68.1-0.1l46.1-0.6l28.1-1.2l22-2.1l10-1.6l10.1-2.4l8-2.5l8-3.3l6-3.1l6-3.8l6-4.8l5.6-5.6l8.5-11.1l7.1-13l5.7-14.1l5.5-18l4.4-20l3.4-20l9-72.1l3.7-24l3.1-14l2.8-10l3.4-9.4l4-8.6l6-9.8l7-8.2l7-6.2l10.1-6.4l12-5.3l12-3.6l14-2.7z"/>
<path fill="#d8bc32" d="M1342.7 1092.8l20.9-1.4l22.1-0.2l22 1.2l19.1 2.4l15 3.5l12.8 4.6l11.4 6l9.9 7.7l7.5 8.3l6.5 10l5.5 12l4 12l3.5 14l2.9 16l10.6 82.1l2.9 18l3.8 18l5 18l5.9 16l7 14.1l7 10.5l6.1 6.9l5.1 4.8l6.9 5.1l6 3.5l8 3.8l8 2.9l10.1 2.6l10 2l22 2.4l28.1 1.4l48.1 0.8l68.1 0.1v92.1h-795.7v-92.1l66.1-0.1l48.1-0.7l28.1-1.2l22-2.1l10-1.7l10.1-2.4l8-2.5l8-3.3l6-3.1l6-3.8l6-4.7l6-5.9l8.7-11.2l6.7-12.1l6.6-16.1l5.5-18l4.1-18l3.8-22l8.9-70.1l3.7-24l5.2-22l3-8.8l4-9.3l5.6-9.9l6.4-8.3l8-7.5l9.3-6.2l8.8-4.4l12-4.2l14-3.3z"/>
<path fill="#dbb430" d="M1362.9 1092.8l22.8-0.2l22 1.3l18.1 2.3l16 3.8l13.2 4.9l10.9 6l5.4 4l4.6 4.1l8.3 9.9l4.9 8l4.8 10.4l4 11.7l3.5 13.9l4.5 25.9l7.1 56.1l3.5 24.1l4.2 22l4.5 18l6.1 18l6.3 14.1l7.4 12.1l9.1 10.8l6 5.4l5.3 3.9l6.7 4l6 2.9l8 3l8.1 2.4l10 2.2l10 1.6l20 1.9l30.1 1.3l46.1 0.6l64.1 0.1v90.7h-795.7v-90.7h64.1l46.1-0.7l30.1-1.2l22-2l10-1.6l10-2.2l8.1-2.4l8-3l8-4l6-3.8l6-4.7l4.8-4.5l5.3-5.9l4-5.4l7.4-12.8l6.1-14.1l5.9-18l4.4-18l4-22l3.2-22.1l6.8-54l3.9-24l2.8-12l3.5-12l3.9-10l4.2-8.2l6.7-9.8l7.6-8l9.7-7.3l10.1-5.3l12-4.3l14-3.4l16.1-2.3z"/>
<path fill="#dead2f" d="M1352.8 1094.8l22.8-0.8l24.1 0.6l20 2.1l18.1 3.7l14 4.8l12.1 6.4l10 7.8l8.3 9.5l5.1 8l4.8 10l4.3 12l3.7 14l4.6 26l6.9 54l3.8 26.1l4.2 22l5.2 20l6.2 18l7.7 16.1l8 12.1l9.3 10.1l6.1 5l6 4l12 6l8 2.9l8.1 2.2l20 3.5l22 2l30.1 1.2l46.1 0.6l60.1 0.1v89.2h-795.7v-89.2l64.1-0.1l48.1-0.7l30.1-1.4l22-2.2l10-1.7l10.1-2.4l8-2.5l8-3.3l8-4.2l6-4l10.2-9.1l8.1-10l8.3-14.1l6.8-16.1l5.6-18l4.3-18l4-22l9.5-72.1l4-24l2.7-12l2.8-10l3.7-10l4.2-8.9l6-9.5l8-9.1l8.1-6.5l10-5.8l10.2-4.2l13.8-3.9l14.1-2.5z"/>
<path fill="#e1a62d" d="M1346.4 1096.8l19.2-1.2l22.1-0.1l20 1.2l16.1 2.2l16 3.7l11.7 4.3l11.2 6l9.2 7l8 8.7l6 9.1l5.4 11.2l4.2 12l3.6 14l2.8 14.6l11.1 81.5l3.5 20l4 18l5.8 20l6.3 16.1l6.1 12l8.3 12.1l5.1 5.7l6 5.6l6 4.6l8 4.8l8 3.7l8 2.8l10.1 2.7l10 2l22 2.6l30.1 1.5l48.1 0.9l66.1 0.1v87.8h-795.7v-87.8l64.1-0.1l48.1-0.8l30.1-1.3l22-2.3l10-1.7l10.1-2.4l8-2.5l8-3.3l8-4.2l6-3.9l6-4.9l5.6-5.6l8.5-10.8l7.6-13.3l7.4-18.1l5.5-18l4.2-18l3.9-22l9.4-70.1l3.6-22l2.5-11.1l3-10.9l3.6-10l3.7-8l5.7-9.6l6-7.5l7.6-6.9l8.8-6l9.7-4.7l12-4.2l14-3.1z"/>
<path fill="#e49f2c" d="M1369.5 1096.8l20.2 0.2l20 1.4l16.5 2.5l15.6 4l12 4.8l6 3.3l5.8 3.9l8.9 8l7.4 9.3l5 8.7l4.4 10l3.9 12l3 12l4.3 24l7.1 54l3.7 24.1l4.3 22l5.1 20l6.2 18l6.5 14.1l4.6 8l4 5.9l8.9 10.3l5.2 4.6l6 4.5l6 3.7l8 3.9l8 3.1l8.1 2.3l10 2.3l10 1.6l22 2.2l30.1 1.3l48.1 0.8l60.1 0.1v86.3h-795.7v-86.3l62.1-0.1l48.1-0.8l30.1-1.3l22-2.2l10-1.6l10-2.3l8.1-2.3l8-3.1l8-3.9l6-3.7l6-4.5l6-5.5l9.3-11.2l8.4-14.1l7-16.1l5.8-18l4.5-18l4.2-22l10.1-74.1l4.2-24l2.9-12l3.7-12l4.1-10l4-7.5l7.6-10.5l8.2-8l8.5-6l11.8-5.8l12-4l14-3.1l16.1-2z"/>
<path fill="#e7982a" d="M1357.2 1098.8l20.4-0.6l22.1 0.8l20 2.3l16.5 3.6l13.6 4.8l6 3l6 3.6l6 4.6l4.1 3.7l8 9.6l5.2 8.7l4.5 10l4.1 12l3 12l4.8 26l7.2 54.1l3.8 24l4.4 22l4.8 18l7 20l6.6 14.1l8.7 13.6l5.5 6.6l4.6 4.6l6 5.1l6 4.1l6 3.4l8 3.7l16.1 5.1l20 3.7l22 2l30.1 1.3l46.1 0.8l60.1 0.1v84.8h-795.7v-84.8l62.1-0.1l48.1-0.8l32.1-1.5l22-2.4l10-1.7l10.1-2.5l8-2.5l8-3.2l8-4.2l6-3.8l6-4.8l6-5.8l8.6-10.7l8.3-14.1l6.9-16.1l5.8-18l4.9-20l4.1-22l9.6-68.9l4.3-25.2l2.8-12l3-10l3.8-10l4-8l6.1-9.4l7.8-8.6l8.3-6.6l9.5-5.4l10.5-4.3l13.6-3.7l14.5-2.5z"/>
<path fill="#ea9129" d="M1352.3 1100.9l23.3-1.1l22.1 0.6l20 2.2l16.1 3.4l14 4.8l12 6.5l5 3.6l5.1 4.4l8 9.3l5.2 8.3l4.7 10l4.1 11.7l3.3 12.3l4.7 25.4l7.5 54.7l3.9 24l4.4 22l5.4 20l6.4 18l7.7 16.1l8.8 13.5l4 4.8l6.1 6.1l6 5.1l6 4.1l6 3.3l8 3.7l16.1 5.1l20 3.7l22 2.1l32.1 1.4l46.1 0.8h58.1v83.2h-795.7v-83.1l60.1-0.1l48.1-0.9l32.1-1.4l22-2.3l20-3.9l10.1-3.1l8-3.2l8-4.1l6-3.9l6-4.7l6-5.7l8.6-10.4l8.5-14.1l7.1-16.1l6.6-20l4.5-18l4.2-22l10.3-72.1l3.8-22l2.6-11.2l3.2-10.8l2.9-8l3.9-8.5l5.8-9.5l6.7-8l7.5-6.8l10.1-6.4l10-4.5l12-3.7l14.1-2.9z"/>
<path fill="#ee8727" d="M1351.1 1102.9l22.5-1.2l22.1 0.5l20 2.1l16.1 3.2l14 4.8l12 6.3l10.1 7.8l8 9.1l5.9 9.4l4.1 8.6l4.2 11.4l3.7 14l4.6 24l7.9 56.1l3.5 22l5 24l5.6 20l6.5 18.1l7.9 16.1l3.7 6l5.5 7.6l9.9 10.5l6.2 5.1l6 4l6 3.4l8 3.6l16.1 5.1l20 3.8l24.1 2.3l30 1.3l46.1 0.8l58.1 0.1v81.2h-795.7v-81.2l60.1-0.1l46.1-0.8l32.1-1.5l24-2.4l20-4l10.1-3.1l8-3.2l8-4.1l6-3.8l6-4.6l6.3-5.9l8.5-10.1l8.7-14.1l7.3-16.1l6.8-20l5.1-20l4.3-22l10.1-70.1l4.3-24l5.3-20l3.5-9.4l4-8.5l6-9.5l6-7.1l8.1-7l8-5.2l10-4.7l12-4l12.5-2.6z"/>
<path fill="#ef8326" d="M1355.1 1110.9l18.5-1l20.1 0.4l18 2l16.1 3.4l14 5l10 5.4l10 7.9l8.1 9.2l6 9.7l4 8.5l4 11.2l3.4 12.3l4.6 23.2l8.5 54.9l3.9 22l4.9 22l5.7 20l7.5 20.1l8 16.1l5.1 8l4.5 6.2l5 5.9l6.1 6.1l7 5.7l6 4.1l6 3.4l8 3.7l8 3l10.1 3l20 3.9l26.1 2.8l34 1.8l46.1 1l52.1 0.1v72.1h-795.7v-72.1l56.1-0.1l46.1-1.1l34-1.8l26.1-3l12-2.2l10.1-2.5l10-3.3l8-3.4l8-4.1l6-3.9l6.7-5.1l6.5-6.1l10-12.1l8.7-14l7.5-16.1l7.6-22.1l5.4-20l4.6-22l11.1-70.1l3.8-20l5.5-20l3-8l3.8-8l6-9.7l6-7.2l8.1-7.1l8-5.2l10-4.7l12-3.9l12.1-2.5z"/>
<path fill="#f07c24" d="M1353.9 1114.9l17.7-1.2l20.1 0.4l18 1.8l16.1 3.5l12 4.2l6 2.8l6 3.6l6 4.5l4 3.7l8.1 9.5l4.4 7.2l4.8 10l3.6 10l3.4 12l4.9 24l8 50.1l4.4 24l5.5 24l5.9 20l7.6 20.1l8.1 16.1l9.5 14.2l6 7.1l6.1 6l6 4.9l8 5.5l14 7l8 3l10.1 3l10 2.3l12 2.1l26.1 2.9l36 2l42.1 1.1l52.1 0.2v67.5h-795.7v-67.5l54.1-0.2l46.1-1.3l36-2.2l26.1-3.1l12-2.3l10.1-2.6l8-2.6l10-4l8-4.1l6-3.8l8-6.1l6.1-5.6l6-6.7l5.1-6.6l8.7-14.1l7.5-16.1l7.2-20.1l5.1-18l5.4-24l4-22l7.3-46.1l4.2-22l5.5-20l2.9-8l3.7-8l5.5-9.2l6.1-7.5l8-7.3l8-5.3l9.7-4.7l10.3-3.5l12.1-2.8z"/>
<path fill="#f17523" d="M1365.7 1116.9l18-0.3l18 1.3l16 2.6l12.1 3.4l11.6 5l9.5 6l8.9 8l6.3 8l4.8 8l3.8 8l3.7 10l3.5 12.4l4.6 21.6l8.5 52.1l4.2 22l5.5 24l6.6 22l7.7 20.1l8.2 16.1l9.5 14.1l5.3 6.3l6 6.1l6.1 5.2l8 5.7l6 3.4l8 3.9l8 3.1l10.1 3.2l10 2.5l12 2.3l28.1 3.3l38 2.4l42.1 1.3l50.1 0.1v63.9h-795.7v-63.9l52.1-0.1l44.1-1.4l38-2.4l28.1-3.5l12-2.4l10.1-2.7l10-3.3l8-3.3l8-4.1l6-3.6l7.9-5.9l6.2-5.6l6-6.5l4.8-6l9.1-14.1l7.9-16.1l7.6-20.1l5.9-20l5.5-24l4.2-22l8.2-50.1l4-20l2.9-11.1l2.9-8.9l3.2-8l4-8l5.9-9.2l6.1-6.8l8-6.8l10-6l10-4.2l12.1-3.4l14-2.4z"/>
<path fill="#f26e21" d="M1350.3 1120.9l17.3-1.6h20.1l18 1.7l16.1 3.3l13.1 4.6l10.9 5.9l5.6 4.1l4.4 4l6.9 8l5.2 7.9l4 8.1l4 10.3l4 13.6l4.4 20.1l9.1 54.1l5.1 26l6 24l6.3 20l8.1 20.1l8.6 16.1l5.4 8.1l5.1 6.6l6 6.7l6.1 5.6l6 4.8l8 5.3l8 4.2l8 3.5l18.1 5.8l22 4.4l28.1 3.3l42.1 2.7l36 1.2l48.1 0.1v60.5h-795.7v-60.5l50.1-0.1l40.1-1.4l42-2.9l16.1-1.7l14-2.2l12-2.4l10.1-2.7l10-3.3l10-4.3l8-4.2l6-3.9l8-6.2l6.1-5.6l6-6.7l5.1-6.6l8.9-14.1l7.8-16.1l7.5-20.1l5.9-20l5.6-24l4.1-22l7.7-46.1l4-20l5.5-19.7l6-14.6l4.4-7.7l6-8l5.8-6l7.9-6.1l8-4.6l10-4.1l11.7-3.2z"/>
<path fill="#f36720" d="M1353.1 1122.9l18.5-1.5l18.1 0.3l16 1.7l16.1 3.4l12 4.4l10.4 5.7l9.6 7.7l8 9.4l4.4 6.9l4.9 10l3.7 10l3.1 10.6l4.7 21.4l9 52.1l5.2 26l5.9 24l6.3 20l8.1 20.1l8.9 16.8l10 14.3l6 6.9l6 5.8l12.1 9.2l8 4.7l8 3.8l18.1 6.4l12 3l12 2.4l30.1 3.8l42.1 3l38 1.5l46.1 0.1v57.2h-795.7v-57.2l50.1-0.2l38-1.5l42.1-3.1l30.1-4l22-5l10.1-3.2l10-4.1l8-4l8-4.9l8-6.1l6.1-5.6l10.3-11.8l5.6-8l4.9-8.1l8.7-18.1l7.5-20.1l5.9-20l5.6-24l4.3-22l7.5-44.1l4.5-22l5.3-18.7l6-14.2l4.1-7.1l6-8.1l6-6.1l8-6.1l8-4.5l10-4l11.8-3.2z"/>
<path fill="#f45f1e" d="M1354.7 1124.9l16.9-1.3l18.1 0.3l16 1.7l14.9 3.3l11.2 4l11.1 6l8.9 7.1l8 9.2l4.9 7.7l4 8l3.9 10l3.3 10.8l5.2 23.2l9.2 52.1l4.8 24l6 24l7.8 24l8.4 20.2l8.9 16.1l10.3 14.1l5.5 6.1l6 5.7l6.1 4.9l8 5.5l8 4.3l8 3.7l10 3.7l10.1 3l22 4.8l30.1 3.9l46.1 3.7l34 1.3l44.1 0.1v53.9h-795.7v-53.9l46.1-0.1l36-1.5l46.1-3.7l18.1-2.2l14-2.2l22-5.2l10.1-3.3l10-4.1l8-3.9l8-4.9l8-6.1l6.1-5.4l10.8-12.2l5.7-8l4.9-8.1l8.1-16.1l7.8-20.1l6.1-20l5.9-24l4.4-22l8.4-48.1l4.2-20l5.8-20l6-13.9l4.9-8.1l6.4-8l6.8-6.4l8-5.5l8-4.1l10-3.7l10.1-2.5z"/>
<path fill="#f6581c" d="M1355.9 1126.9l17.7-1.3l18.1 0.5l16 2l14.1 3.5l12 4.8l10 6l8 6.9l7.8 9.6l4.3 7l4 8.4l3.9 10.6l2.9 10l5.2 23.1l8.7 49l4.9 24l6.1 24l7.7 24l8.4 20.2l5.1 10l4.9 8.1l10.4 14.1l5.9 6.5l6 5.6l6.1 4.8l8 5.4l8 4.4l8 3.6l10 3.7l10.1 3.1l22 4.9l18 2.8l18.1 2.2l46.1 3.9l30.1 1.3l42 0.1v50.3h-795.7v-50.3l46.1-0.1l30-1.4l48.1-4.3l20.1-2.5l16-2.7l12-2.6l12.1-3.4l18-6.8l8-3.9l8-4.9l8-5.9l6.5-5.8l5.8-6l5.8-7.1l10-15.1l9.1-18.1l7.7-20.1l6.2-20l5.9-24l4.5-22l8.7-49l4-18.6l5.5-18.5l3.2-8l3.3-7l4.3-7l6.3-8l7.5-7l7.4-5l8.6-4.4l10.1-3.6l10-2.4z"/>
<path fill="#f7511b" d="M1356.8 1128.9l16.8-1.2l16.1 0.3l16 1.9l14 3.3l12.1 4.7l10 5.9l8.3 7.1l7.7 9.3l4.2 6.7l3.9 8l4 10.4l3.4 11.6l4.6 20l9.1 50.1l5.4 26l6.8 26l7.3 22l8.5 20.2l5.3 10l4.9 8.1l5.6 8l5.2 6.4l6 6.5l5.8 5.3l6.3 5l8 5.3l8 4.3l8 3.7l8 3.1l12.1 3.8l24 5.5l34.1 5l52.1 5.2l26.1 1.3h40v46.3h-795.7v-46.3h44.1l26-1.4l54.1-5.6l18.1-2.5l18-3.2l12-2.7l12.1-3.4l10-3.5l10-4.3l8-4.1l8-5.1l6-4.5l6.7-6l5.9-6l5.5-6.6l5.5-7.5l5.1-8.1l9.2-18.1l7.9-20.1l6.8-22l6-24l4.5-22l9.1-50.1l4-17.9l5.6-18.1l6.3-14l5.1-8l5.1-6.3l6-5.7l8-5.7l8.3-4.3l9.8-3.7l10-2.5z"/>
<path fill="#f84a19" d="M1357.5 1130.9l16.1-1.2l16.1 0.4l14 1.6l14 3.2l12.1 4.6l10 5.7l9.1 7.7l6.9 8.3l4.8 7.7l3.9 8l3.8 10l3.6 11.7l4.2 18.3l9.3 50.1l5.5 26l6.2 24l7.8 24l8.5 20.2l5.2 10l4.8 8.1l10.6 14.5l6 6.6l6 5.8l6.1 4.9l8 5.6l8 4.5l8 3.8l10 4l10.1 3.3l24 6l38.1 6.3l54.1 6.7l22.1 1.4h40v41.3h-795.7v-41.2l42-0.1l22.1-1.4l56.1-7l22.1-3.4l18-3.5l12-2.8l12.1-3.5l12-4.4l8-3.5l8-4.1l8-5.1l8.1-6.1l6-5.5l6-6.3l5.6-6.7l5.7-8.1l5-8.1l9.1-18.1l7.8-20.1l6.3-20l6.1-24l5-24l8.5-46.1l3.9-18l5.1-17.4l6.2-14.6l4.7-8l6.2-8l6.2-6l6.8-5l8-4.4l10.1-4l10-2.6z"/>
<path fill="#f94317" d="M1358.3 1132.9l17.3-1.1l16.1 0.5l16 2.3l12 3.2l11.9 5.1l9.3 6l8.7 8l6.1 8l4.1 7l4.1 8.6l6.1 18.4l4.7 20l9.9 52.1l5.7 26l6.4 24l8.2 24.1l8.8 20.1l5.5 10.1l4.8 7.7l11 14.4l7 7.3l6 5.4l6.1 4.7l8 5.2l14 7.1l20.1 7.5l22 5.8l22.1 4.5l90.1 15.6l10.1 0.6l34-0.2v11.4l-36-0.2l-8.1 0.7l-6.2 1.1l6.2 1.1l8.1 0.7l36-0.2v11.4l-34-0.2l-8 0.3l-14.1 2.1l-26.8 4.9h-627.9l-28.8-5.3l-14.1-1.8l-42-0.2v-11.1l38 0.1l8.1-0.7l6.2-1.1l-6.2-1.1l-8.1-0.7l-38 0.1v-11.1h38l8.1-0.6l90.1-15.6l24.1-4.9l22-6.1l10.1-3.5l10-4.2l8-3.9l8-4.8l8-5.8l6.1-5.1l6-5.9l6.4-7.3l6-8.1l5.2-8l9.6-18.1l8.1-20.2l7.7-24l6.1-24l4.7-22l8.6-46.1l4.5-20l5.2-17.2l6.1-13.8l4.1-7l6.1-8l6.2-6l7.6-5.6l8.3-4.4l9.8-3.7l10-2.6z"/>
<path fill="#fa3c16" d="M1359.5 1134.9l14.1-1l16.1 0.4l14 1.8l14 3.4l10.1 4l10 5.9l8.6 7.5l7.4 9.2l4.1 6.8l3.9 8.1l3.8 9.9l3 10l5.3 22.6l8.7 45.5l4.7 22l6.1 24l7.7 24l8.1 20.2l8.2 16.1l9.1 14.1l5.5 7l6 6.7l10 9.3l10.1 7.4l12 6.8l14 6.1l12.1 4.3l14 4.1l63.8 14.7l13.3 4l4.9 2l3.4 2l2 2l0.5 2.1l-0.8 2l-2.1 2l-3.1 2l3.1 2l2.1 2l0.8 2l-0.5 2.1l-2 2l-3.4 2l-4.9 2l-21.5 6h-576.3l-21.5-6l-4.9-2l-3.4-2l-2-2l-0.5-2.1l0.8-2l2.1-2l3.1-2l-3.1-2l-2.1-2l-0.8-2l0.5-2.1l2-2l3.4-2l4.9-2l13.3-4l63.8-14.7l14-4.1l12.1-4.3l16-7.2l12-7.1l12.1-9.5l10-10.2l10-12.9l8.8-14.6l8.7-18.1l7.5-20.1l6.1-20l6.1-24l12.9-65.5l4-17.8l5.7-18.8l6.3-14l4.9-8l5.2-6.5l6-5.8l8-5.8l8-4.2l10.1-3.7l10-2.5z"/>
<path fill="#fb3514" d="M1361.7 1136.9l13.9-0.8l16.1 0.6l14 2l12 3.3l11.4 4.9l8.7 5.6l8 7.3l7.1 9.1l4.6 8l3.6 8l3 8l3.6 12l4.2 18l9.4 48.1l5.3 24l5.8 22l6.3 20l7.9 20.1l7.9 16.1l8.6 14.1l10.9 14l10 10.1l10.1 8l10 6.3l12 6l12 5l12.1 4.2l52.8 14.9l11.4 4l4.2 2l3.7 2.6l1.5 1.4l1 2.1l-0.1 2l-1 2l-1.8 2l1.8 2l1 2l0.1 2l-1 2.1l-2 2l-7.4 4l-18.2 6h-537.1l-18.2-6l-5.9-3.1l-3.5-2.9l-1-2.1l0.1-2l1-2l1.8-2l-1.8-2l-1-2l-0.1-2l1-2.1l1.5-1.4l3.7-2.6l4.2-2l11.4-4l52.8-14.9l12.1-4.2l14-5.9l12-6.2l12-8.2l10.1-8.8l10-11l9.6-13.3l9.1-16.1l8.1-18.1l6.5-18.1l6-20l5.6-22l13.2-66.1l4-17.2l5.2-16.8l6.2-14l4.9-8l5.8-7.1l6-5.7l8-5.7l8-4.1l9.6-3.4l10.5-2.5z"/>
<path fill="#fc2e13" d="M1365.7 1138.9l14-0.5l12 0.7l12 1.7l10 2.5l9.6 3.6l8.5 4.5l8 6.1l7.1 7.4l4.9 6.8l5.1 9.2l4.1 10l3.9 12l5 20l13.5 66.1l5.5 22l6.1 20l5.7 16.1l5.8 14.1l6 12l7.2 12.1l8.6 12.1l10.9 12.1l10.9 9.4l12 8.2l10 5.3l14 6.2l16.1 6l33.7 11.2l9.9 4l6.9 4l2.1 2l1.2 2.1l0.4 2l-0.4 2l-1.2 2l1.2 2l0.4 2l-0.4 2l-1.2 2.1l-2.1 2l-6.9 4l-15.7 6h-504.9l-15.7-6l-6.9-4l-2.1-2l-1.2-2.1l-0.4-2l0.4-2l1.2-2l-1.2-2l-0.4-2l0.4-2l1.2-2.1l2.1-2l3-2l8.5-4l49.1-16.8l14-5.8l12-5.8l12-7.5l10.1-7.9l8.7-8.5l8.5-10.1l9.7-14.1l7.7-14.1l7.2-16.1l7.2-20.1l6.1-20l5.5-22l13.1-64.1l4.3-18l5-16l6.2-14l5-8.2l6-7.3l7.1-6.5l6.9-4.7l8-4l10.1-3.5l10-2.3z"/>
<path fill="#fe2711" d="M1355.1 1142.9l14.5-1.7l14.1-0.1l14 1.4l11.6 2.4l10.4 3.5l10.1 5.2l8 5.9l7.1 7.4l4.9 6.7l4 7l4 8.8l3.5 9.5l2.9 10l3.7 15l13.5 65.1l7.9 30l5.7 18l6.1 16.1l6.2 14.1l7.6 14.1l9.1 13.7l10 12.1l10 9.8l12.1 9.2l10 6.1l10 5.1l16 7l29.1 11.5l8.5 4l6.3 4l3.4 4.1l0.7 2l-0.1 2l-0.7 2l0.7 2l0.1 2l-0.7 2l-3.4 4.1l-6.3 4l-13.3 6h-477.4l-13.4-6l-6.3-4l-2.1-2l-1.3-2.1l-0.7-2l0.1-2l0.7-2l-0.7-2l-0.1-2l0.7-2l3.4-4.1l2.8-2l7.5-4l43.6-17.8l12-5.7l10-5.6l10-6.9l10.1-8.6l10-10.6l8.6-11.2l8.8-14.1l7.2-14.1l6.7-16.1l6.3-18.1l5.4-18l5.6-22l16.1-76.1l5.4-18l4.9-12l4.4-8l4.8-6.9l6-6.7l6-5l6-3.9l8.1-4l10-3.4z"/>
<path fill="#ff1e0f" d="M1363.3 1144.9l12.3-0.8l14.1 0.5l12 1.8l12 3.2l10.1 4.4l8 5l6.9 5.9l6.8 8l4.3 6.8l4 7.9l4 10l3.6 11.3l4.5 18l13.2 62.1l5.6 22l4.8 16l5.4 16.1l4.6 12l5.4 12.1l5.1 10.1l8.6 14.1l9 12l10.4 11.4l10 8.9l10.1 7.2l8 4.8l14 7.2l27.4 12.9l7.2 4l5.5 4l3.4 4.1l0.8 2v8l-2.2 4.1l-4.5 4l-6.4 4l-7.9 4h-451.5l-11.3-6l-5.5-4l-2-2l-2.2-4.1v-8l0.8-2l3.4-4.1l8.9-6l39.2-18.9l10-5.5l8-5.2l10.1-7.9l9.3-8.8l8.7-10l7.4-10.1l7.4-12.1l8.2-16.1l6.6-16.1l6.9-20.1l4.8-16l5.6-22l12.8-60.1l3.8-16l4.9-16l5.8-13.5l5-8.5l5-6.6l6-6.1l7.1-5.3l7.1-4l9.9-3.9l10-2.6z"/>
</g>
<g filter="url(#fd2)">
<path fill="#fe1e0f" d="M1373.3 1150.9l10.4 0.1l12 1.2l10 2.3l10 3.6l8.1 4.2l8 6l6.4 6.6l5.7 8l7.9 16l5.9 18l16.8 74.1l10 36l10.8 30.1l11.5 24.2l14.2 22.1l8.3 10.1l8.7 9l18.1 14.9l32.3 20.4l7 6l2.8 4.1l1.3 4v4l-1.3 4l-4.9 6.1l-10.9 8h-409.5l-10.9-8l-4.9-6.1l-1.3-4v-4l1.3-4l2.8-4.1l9.9-8l31.4-19.8l16.1-13.5l10-10.5l8.5-10.6l8.1-12l6.8-12.1l10.1-22.2l10-28.1l10-36l17.4-76.1l7-20l7.5-14l4.8-6.5l6-6.1l7.1-5.4l7-3.9l16-5.6z"/>
</g>
<g filter="url(#fd3)">
<path fill="#fc1e0f" d="M1361.5 1194.4l13.1-1.5l15.1 0.8l15 3.5l14.3 6.1l12.8 8.2l12 10.4l12 13.7l9.1 12.7l9 15.1l9 17.7l36.3 84.1l35.2 72.5l4.9 15.1l2.6 15.1v12l-2.6 15.1h-363.3l-2.6-15.1v-12l1.8-12.1l4.6-15.1l7.8-18.1l27.1-54.4l31.7-74.1l15-30.7l9-15.1l9.1-12.7l9-10.6l9-8.6l9.1-7.1l12-7.1l12-5z"/>
<path fill="#fb1e0f" d="M1363.1 1194.4l14.5-1.3l15.1 1.3l15 4.2l12 5.5l12.1 7.7l12 10.5l12 13.7l9.1 12.7l9 15.1l9 17.7l36.2 83.7l35.1 72.5l4.9 15.1l2.5 15.1v12l-2.5 15.1h-362.9l-2.5-15.1v-12l1.8-12.1l4.5-15.1l7.8-18.1l27.1-54.4l31.5-73.7l15-30.7l9-15.1l9.1-12.7l9-10.6l9-8.7l9.5-7.4l11.6-6.8l12-5z"/>
<path fill="#f71e0f" d="M1360.5 1203.3l14.1-1.7l15.1 0.8l15 3.7l12 5.3l12.1 7.5l12 10.2l11.9 13.1l9.1 12.6l10.5 17.4l10.6 20.6l31.6 72.4l32 69.4l4.9 15.1l2.8 15.1l0.3 15.1l-2.3 15.1h-349.1l-2.3-15.1v-12l2.3-15.1l4.6-15.1l7.5-18.2l25.6-54.3l25.6-59.3l15-30.9l9-15.5l9.1-13.2l9-11l9-9.1l9.9-7.9l11.2-6.9l12-5.3z"/>
<path fill="#f41e10" d="M1361.1 1209.3l13.5-1.7l15.1 0.9l15 3.8l12 5.4l12.1 7.8l12 10.5l10.8 12.2l10.2 14.2l12.1 20.5l12 24.4l56.2 127.3l4.6 15.1l2.6 15.1l0.3 15.1l-2.2 15.1h-339.5l-2.2-15.1v-12l2.2-15.1l4.3-15.1l8.4-21.2l45.8-102.6l15-31l9-15.8l9.1-13.4l9-11.3l9-9.3l9-7.6l12.1-7.8l12-5.4z"/>
<path fill="#f11e10" d="M1358.5 1215.3l13.1-2.2l15.1 0.3l15 3.3l12 5l12.1 7.4l12 10l12 13.2l10.2 13.9l12.4 20.9l13.5 27.2l51.3 117.3l5.5 18.1l2.5 15.1l0.2 15.1l-2.1 15.1h-331.3l-2.1-15.1l0.2-15.1l2.5-15.1l4.5-15.1l8.3-21.1l38-85.9l18-37.8l18.1-29.6l9-11.6l9-9.5l10.4-8.8l10.7-7l9-4.3z"/>
<path fill="#ee1e10" d="M1369.1 1218.3l14.6-0.3l12 2l12 4.1l12 6.3l12.1 8.8l12 11.8l9 11l10.9 16.1l13.2 23.9l12 25.3l35.2 80.2l9.6 24.1l5.3 18.1l2.4 15.1l0.2 15.1l-2 15.1h-323.9l-2-15.1l0.2-15.1l2.4-15.1l4.3-15.1l9.3-24.1l33.5-76.5l21-43.5l18.1-28.5l9-11l12-11.8l9-6.9l12.1-6.9l12-4.6z"/>
<path fill="#eb1e10" d="M1362.4 1224.3l12.2-1.6l15.1 1l12 3l12 5.3l12.1 7.7l12 10.5l12 13.7l10.1 14.2l12.2 21l13.8 27.9l32.6 74.4l10.8 27.2l5.4 18.1l2.7 15.1l0.7 15.1l-2 18.1h-316.8l-2-15.1l0.3-15.1l2.3-15.1l4.1-15.1l15.4-39.2l27-61.8l15-31.2l18.1-30.3l9-12l11-11.9l10-8.5l12.1-7.7l9-4.2z"/>
<path fill="#e81e10" d="M1358.2 1230.3l13.4-2.5h12.1l15 2.9l12 4.8l12.1 7.3l12 9.9l12 13.2l12 16.6l12.1 20.4l15 30.5l27.1 62l12 30.2l5.5 18.1l3.3 18.1l0.7 15.1l-2 18.1h-309.7l-1.8-15.1l0.2-15.1l2.2-15.1l3.9-15.1l6.4-18.1l11.2-27.1l23.8-54.4l12.7-26.4l18.1-30.6l9-12.1l9-10.2l9-8.3l11.4-8.2l9.7-5.1z"/>
<path fill="#e51e11" d="M1369.4 1233.3l14.3-0.3l12 2.1l12 4.4l12 6.8l12.1 9.4l9 9.1l10.7 13.3l10.3 15.6l12.1 21.6l15 31.6l23.4 54.5l10.2 27.2l5.1 18.1l2.5 15.1l0.6 15.1l-1.9 18.1h-302.3l-1.8-15.1l0.2-15.1l2.2-15.1l4.7-18.1l10-27.1l18.6-44l15-33.1l11.5-22.3l9.6-16.2l9-13.1l10.5-12.6l10.5-10.1l9.1-6.8l12-6.8l12-4.4z"/>
<path fill="#e21e11" d="M1368.1 1239.2l12.6-0.6l12 1.7l12 3.8l12 6.3l12.1 9l12 12l9 11.2l11 16.5l13.1 23.6l12 25.2l20.4 47.5l11.4 30.2l5.2 18.1l3 18.1l0.6 15.1l-1.8 18.1h-294.1l-1.7-15.1l0.2-15.1l2-15.1l4.6-18.1l8.5-24.1l13.2-32.1l15-34.1l12-24.4l18.1-30.1l9-11.9l12-12.8l9.6-7.9l11.5-7.2l12-5.1z"/>
<path fill="#df1e11" d="M1361 1248.2l13.6-2.1l12.1 0.6l12 2.8l12 5.3l12.1 7.8l12 10.8l11.8 13.7l9.2 13.2l13.3 22.7l13.8 28.3l17.7 41.1l11.2 30.2l6 21.1l2.9 18.1l0.5 15.1l-1.7 18.1h-283.7l-1.6-15.1l0.2-15.1l1.9-15.1l3.5-15.1l5.7-18.1l9.2-24.1l26.7-60.1l18.9-33.2l10.8-15l9.4-10.7l9-8.4l10.9-7.8l10.2-5.4z"/>
<path fill="#dc1e11" d="M1366.7 1257.2l10.9-1l12.1 1.2l12 3.6l12 6.1l11 8.1l10.1 9.5l12 14.6l9.9 14.8l11.9 20.9l14.3 30.1l13.8 33.3l9.5 27.2l4.8 18.1l2.7 18.1l0.5 15.1l-1.6 18.1h-269.9l-1.5-15.1l0.1-15.1l1.9-15.1l4.1-18.1l6.8-21.1l9.3-24.2l12-27.9l12-24.8l18.1-30.1l9-11.9l9.5-10.5l10.3-8.9l10.3-6.9l12-5.5z"/>
<path fill="#d91e11" d="M1359.4 1266.2l12.2-2.5h12.1l12 2.4l12 5l12 7.7l12.1 10.7l10.8 12.6l10.2 14.4l12.1 20.6l12.2 25.1l14 33.2l9.6 27.2l4.9 18.1l3 18.1l0.8 18.1l-1.6 18.1h-260.3l-1.5-15.1l0.2-15.1l1.8-15.1l3.2-15.1l12.2-37.2l21-48.5l18.1-32.4l9-12.9l9-10.9l9-8.9l9.1-7.2l9-5.5z"/>
<path fill="#d61e11" d="M1359.8 1272.2l11.8-2.5h12.1l12 2.5l12 5.1l12 8l11.9 10.8l10.2 12l10.5 14.9l12.6 22l12 25.2l11.6 28.2l8.3 24.2l4.8 18.1l2.9 18.1l0.8 18.1l-1.5 18.1h-252.3l-1.4-15.1v-12l1.4-15.1l2.9-15.1l5-18.2l7-20.1l18.5-43.3l17.6-32.2l9-13.3l9-11.1l9-9.2l9.1-7.3l9-5.7z"/>
<path fill="#d31e11" d="M1373.1 1275.2l10.6 0.1l12 2.5l12 5.3l9 5.8l11.9 10.2l9.2 10.2l9 12.1l9 14.3l12.1 22.8l9.9 21.8l10.6 27.2l6.6 21.1l4.1 18.1l2 15.1l0.5 15.1l-1.5 18.1h-244.9l-1.4-15.1l0.2-15.1l1.7-15.1l3.8-18.1l5.4-18.1l7.7-21.1l10.3-24.2l10.6-21.7l9-15.8l9.1-13.7l9.5-11.9l11.4-11.4l9.1-6.9l12-6.7l9-3.1z"/>
<path fill="#d01e12" d="M1368.1 1281.1l9.5-0.8l12.1 1.3l12 4l12 6.8l11.9 9.7l9.2 9.7l9 11.6l9 13.9l10.3 18.8l10.8 23.1l9 22.5l7.8 23.9l4.3 18.1l2.5 18.1l0.5 15.1l-1.5 18.1h-237.7l-1.4-15.1l0.2-15.1l1.6-15.1l3-15.1l5.1-18.1l7.5-21.1l18.7-41.8l9-16.3l9-13.9l9-11.6l9-9.6l9.1-7.7l9-5.9l9-4.3z"/>
<path fill="#cd1e12" d="M1365.3 1287.1l12.3-1.4l12.1 1.3l9.7 3.1l11.3 5.9l11.8 9.1l9.3 9.4l9 11.2l9 13.4l11.1 20.1l10 21.1l9.5 24.1l6.8 21.2l4.3 18.1l2.5 18.1l0.4 15.1l-1.4 18.1h-230.7l-1.3-15.1l0.1-15.1l1.7-15.1l2.9-15.1l5.1-18.1l6.3-18.1l16.4-37.4l15-26.7l9-12.6l9-10.5l9.1-8.5l9-6.7l9-4.9z"/>
<path fill="#ca1e12" d="M1363.9 1293.1l10.7-1.7l12.1 0.7l12 3.4l9 4.5l11.3 8.1l9.8 9.3l9 10.8l9 13.1l11.8 20.9l9.3 19.7l9 22.5l6.7 21.2l4.3 18.1l2.4 18.1l0.4 15.1l-1.4 18.1h-223.3l-1.3-27.1l1.3-15.1l2.7-15.1l9.7-33.2l15.1-35.7l15.1-27.8l8.9-12.8l9-10.8l9.1-8.7l9-6.8l9-5.1z"/>
<path fill="#c71e12" d="M1364.7 1299.1l9.9-1.6l12.1 0.7l12 3.6l9 4.6l10.5 7.7l10.6 10.2l9 11.2l9 13.6l9 16.1l9.9 21.1l8.3 21.2l6.5 21.1l3.9 18.1l1.8 15.1l0.5 15.1l-1.4 18.1h-215.3l-1.3-27.1l1.3-15.1l2.7-15.1l8.7-30.5l15.1-35.9l15.1-27.2l8.9-12.6l9-10.4l9.1-8.3l9-6.4l9-4.6z"/>
<path fill="#c41e12" d="M1374.2 1305.1l9.5 0.2l11.5 2.8l9.5 4.4l9 6l9.1 7.9l9 10.1l9 12.5l7.9 13.2l16.2 34.1l6.2 17.2l5.8 20.2l3.1 16l1.5 15.1l0.2 15.1l-1.3 15.1h-205.5l-1.3-27.1l1.3-15.1l2.6-15.1l3.9-15.4l5.9-17.9l15.2-34.6l15.4-25.7l8.6-11.2l9.1-9.4l9-7.3l9-5.3l9-3.7z"/>
</g>
<path d="M998.8 1335.0H1185.2M1570.1 1335.0H1754.5" fill="none" stroke="#5a9cf8" stroke-width="3.6"/><path d="M1185.2 1020.8H1570.1" fill="none" stroke="#5656ff" stroke-width="3.2"/><path d="M1185.2 1335.0V1020.8M1570.1 1020.8V1335.0" fill="none" stroke="#4850ff" stroke-width="5.4"/></g>
<path class="ax" d="M998.6 1019.8V1473.9H1754.7"/>
<path class="tk" d="M998.6 1026.0H990.5M998.6 1134.8H990.5M998.6 1248.9H990.5M998.6 1365.6H990.5M998.6 1474.0H990.5M998.9 1473.9V1482.7M1182.0 1473.9V1482.7M1377.5 1473.9V1482.7M1571.5 1473.9V1482.7M1751.5 1473.9V1482.7"/>
<text class="b" transform="translate(982.3 1038.4) scale(1 1.06)" font-size="34.3" text-anchor="end">2.4</text>
<text class="b" transform="translate(982.3 1147.4) scale(1 1.06)" font-size="34.3" text-anchor="end">1.8</text>
<text class="b" transform="translate(982.3 1261.7) scale(1 1.06)" font-size="34.3" text-anchor="end">1.2</text>
<text class="b" transform="translate(982.3 1378.5) scale(1 1.06)" font-size="34.3" text-anchor="end">0.6</text>
<text class="b" transform="translate(982.3 1484.8) scale(1 1.06)" font-size="34.3" text-anchor="end">0.0</text>
<text class="b" transform="translate(998.6 1511.9) scale(1 1.06)" font-size="34.3" text-anchor="middle">0</text>
<text class="b" transform="translate(1181.7 1511.9) scale(1 1.06)" font-size="34.3" text-anchor="middle">1</text>
<text class="b" transform="translate(1377.2 1511.9) scale(1 1.06)" font-size="34.3" text-anchor="middle">2</text>
<text class="b" transform="translate(1571.2 1511.9) scale(1 1.06)" font-size="34.3" text-anchor="middle">3</text>
<text class="b" transform="translate(1751.8 1511.9) scale(1 1.06)" font-size="34.3" text-anchor="middle">4</text>
<text class="b" x="1382.3" y="1546.0" font-size="38.5" text-anchor="middle">x(m)</text>
<text class="b" transform="translate(919.8 1233.2) rotate(-90)" font-size="38.8" text-anchor="middle">z(m)</text>
<text x="964.5" y="986.5" font-size="52" text-anchor="middle">(d)</text>
<rect x="1020.3" y="1100.2" width="158.6" height="47.6" fill="#595959"/><rect x="1013.8" y="1093.8" width="157.5" height="45.9" fill="#f2f2f2"/>
<text class="b" x="1091.0" y="1126.9" font-size="34.8" text-anchor="middle">Day 2191</text>
<rect x="1255.1" y="841.3" width="243.1" height="130.5" fill="url(#gd)"/>
<text class="b" x="1370.4" y="831.0" font-size="34.6" text-anchor="middle">Surface soil</text>
<path class="ar" d="M1236.5 843.5H1251.8M1236.5 969.5H1251.8M1245.3 864.2V882.9M1245.3 930.2V948.5"/><path d="M1245.3 844.9l7 20.3h-14z M1245.3 967.8l7 -20.3h-14z" fill="#000"/>
<text class="b" transform="translate(1229.3 905.7) rotate(-90) scale(1 1.04)" font-size="33.6" text-anchor="middle">0.1m</text>
<path class="ar" d="M1373.1 1009.0V990.2"/><path d="M1373.1 971.8l6.8 19.4h-13.6z" fill="#000"/>
<path class="dash" d="M1319.90 1009.80L1426.80 1009.80" stroke-dashoffset="-6.35"/><path class="dash" d="M1319.90 1040.15L1427.80 1040.15" stroke-dashoffset="-0.25"/><path class="dash" d="M1319.90 1009.80L1319.90 1037.15" stroke-dashoffset="-3.35"/><path class="dash" d="M1426.80 1009.80L1426.80 1037.15" stroke-dashoffset="-1.75"/>
</g>
<g id="legend">
<rect x="1832.4" y="562.7" width="57.3" height="45.2" fill="#c41e12"/><rect x="1832.4" y="607.4" width="57.3" height="45.9" fill="#ff1e0f"/><rect x="1832.4" y="652.8" width="57.3" height="45.1" fill="#ee8727"/><rect x="1832.4" y="697.4" width="57.3" height="45.0" fill="#cddc37"/><rect x="1832.4" y="741.9" width="57.3" height="45.6" fill="#eeff44"/><rect x="1832.4" y="787.0" width="57.3" height="45.6" fill="#40ff10"/><rect x="1832.4" y="832.1" width="57.3" height="45.1" fill="#64ff96"/><rect x="1832.4" y="876.7" width="57.3" height="45.7" fill="#7dffff"/><rect x="1832.4" y="921.9" width="57.3" height="45.0" fill="#66bef5"/><rect x="1832.4" y="966.4" width="57.3" height="45.0" fill="#8282ff"/><rect x="1832.4" y="1010.9" width="57.3" height="49.1" fill="#2800ff"/>
<text class="b" transform="translate(1950.5 570.9) scale(1 1.07)" font-size="34.3" text-anchor="middle">0.200</text>
<text class="b" transform="translate(1950.5 616.1) scale(1 1.07)" font-size="34.3" text-anchor="middle">0.190</text>
<text class="b" transform="translate(1950.5 661.1) scale(1 1.07)" font-size="34.3" text-anchor="middle">0.185</text>
<text class="b" transform="translate(1950.5 706.0) scale(1 1.07)" font-size="34.3" text-anchor="middle">0.180</text>
<text class="b" transform="translate(1950.5 754.4) scale(1 1.07)" font-size="34.3" text-anchor="middle">0.175</text>
<text class="b" transform="translate(1950.5 798.8) scale(1 1.07)" font-size="34.3" text-anchor="middle">0.170</text>
<text class="b" transform="translate(1950.5 846.1) scale(1 1.07)" font-size="34.3" text-anchor="middle">0.165</text>
<text class="b" transform="translate(1950.5 891.5) scale(1 1.07)" font-size="34.3" text-anchor="middle">0.160</text>
<text class="b" transform="translate(1950.5 938.2) scale(1 1.07)" font-size="34.3" text-anchor="middle">0.155</text>
<text class="b" transform="translate(1950.5 982.7) scale(1 1.07)" font-size="34.3" text-anchor="middle">0.150</text>
<text class="b" transform="translate(1950.5 1029.4) scale(1 1.07)" font-size="34.3" text-anchor="middle">0.145</text>
<text class="b" transform="translate(1950.5 1073.9) scale(1 1.07)" font-size="34.3" text-anchor="middle">0.144</text>
<text class="b" x="1822.8" y="519.8" font-size="34.6"><tspan>θ (cm</tspan><tspan dy="-13.6" font-size="20.4">3</tspan><tspan dy="13.6">·cm</tspan><tspan dy="-13.6" font-size="20.4">-3</tspan><tspan dy="13.6">)</tspan></text>
</g>
</svg>
</body>
</html>
